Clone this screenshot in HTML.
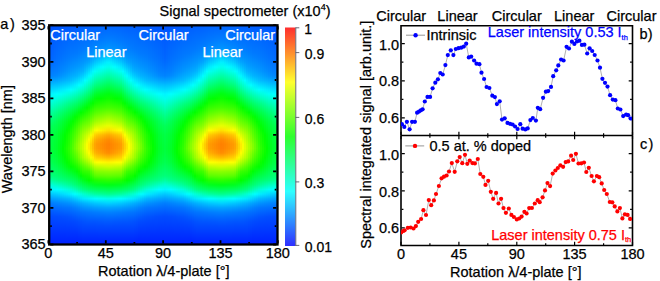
<!DOCTYPE html>
<html><head><meta charset="utf-8"><style>
html,body{margin:0;padding:0;background:#fff;width:660px;height:281px;overflow:hidden}
svg{display:block}
text{font-family:"Liberation Sans",sans-serif;stroke-width:0.25px;paint-order:stroke}
</style></head><body>
<svg width="660" height="281" viewBox="0 0 660 281" font-family="Liberation Sans, sans-serif">
<defs><linearGradient id="g0" x1="0" y1="0" x2="0" y2="1"><stop offset="0" stop-color="#0054ff"/><stop offset="0.0208" stop-color="#0056ff"/><stop offset="0.0417" stop-color="#0059ff"/><stop offset="0.0625" stop-color="#005bff"/><stop offset="0.0833" stop-color="#005eff"/><stop offset="0.104" stop-color="#0060ff"/><stop offset="0.125" stop-color="#0062ff"/><stop offset="0.146" stop-color="#0065ff"/><stop offset="0.167" stop-color="#006aff"/><stop offset="0.188" stop-color="#0072ff"/><stop offset="0.208" stop-color="#007bff"/><stop offset="0.229" stop-color="#0083ff"/><stop offset="0.25" stop-color="#009eff"/><stop offset="0.271" stop-color="#00beff"/><stop offset="0.292" stop-color="#00d9ff"/><stop offset="0.312" stop-color="#00f4ff"/><stop offset="0.333" stop-color="#00fff0"/><stop offset="0.354" stop-color="#00ffd6"/><stop offset="0.375" stop-color="#00ffbb"/><stop offset="0.396" stop-color="#00ff9f"/><stop offset="0.417" stop-color="#00ff85"/><stop offset="0.438" stop-color="#00ff6e"/><stop offset="0.458" stop-color="#00ff5a"/><stop offset="0.479" stop-color="#00ff51"/><stop offset="0.5" stop-color="#00ff47"/><stop offset="0.521" stop-color="#00ff44"/><stop offset="0.542" stop-color="#00ff41"/><stop offset="0.562" stop-color="#00ff3e"/><stop offset="0.583" stop-color="#00ff42"/><stop offset="0.604" stop-color="#00ff4a"/><stop offset="0.625" stop-color="#00ff52"/><stop offset="0.646" stop-color="#00ff60"/><stop offset="0.667" stop-color="#00ff6d"/><stop offset="0.688" stop-color="#00ff7b"/><stop offset="0.708" stop-color="#00ffa1"/><stop offset="0.729" stop-color="#00ffd6"/><stop offset="0.75" stop-color="#00f5ff"/><stop offset="0.771" stop-color="#00c7ff"/><stop offset="0.792" stop-color="#009eff"/><stop offset="0.812" stop-color="#007dff"/><stop offset="0.833" stop-color="#006aff"/><stop offset="0.854" stop-color="#0059ff"/><stop offset="0.875" stop-color="#004bff"/><stop offset="0.896" stop-color="#0044ff"/><stop offset="0.917" stop-color="#003dff"/><stop offset="0.938" stop-color="#0037ff"/><stop offset="0.958" stop-color="#0030ff"/><stop offset="0.979" stop-color="#0029ff"/><stop offset="1" stop-color="#0020ff"/></linearGradient><linearGradient id="g1" x1="0" y1="0" x2="0" y2="1"><stop offset="0" stop-color="#0055ff"/><stop offset="0.0208" stop-color="#0057ff"/><stop offset="0.0417" stop-color="#005aff"/><stop offset="0.0625" stop-color="#005dff"/><stop offset="0.0833" stop-color="#0060ff"/><stop offset="0.104" stop-color="#0062ff"/><stop offset="0.125" stop-color="#0065ff"/><stop offset="0.146" stop-color="#0068ff"/><stop offset="0.167" stop-color="#006dff"/><stop offset="0.188" stop-color="#0075ff"/><stop offset="0.208" stop-color="#007cff"/><stop offset="0.229" stop-color="#0085ff"/><stop offset="0.25" stop-color="#00a0ff"/><stop offset="0.271" stop-color="#00bfff"/><stop offset="0.292" stop-color="#00dbff"/><stop offset="0.312" stop-color="#00f8ff"/><stop offset="0.333" stop-color="#00ffeb"/><stop offset="0.354" stop-color="#00ffcf"/><stop offset="0.375" stop-color="#00ffb3"/><stop offset="0.396" stop-color="#00ff96"/><stop offset="0.417" stop-color="#00ff7d"/><stop offset="0.438" stop-color="#00ff66"/><stop offset="0.458" stop-color="#00ff54"/><stop offset="0.479" stop-color="#00ff4b"/><stop offset="0.5" stop-color="#00ff41"/><stop offset="0.521" stop-color="#00ff3e"/><stop offset="0.542" stop-color="#00ff3b"/><stop offset="0.562" stop-color="#00ff38"/><stop offset="0.583" stop-color="#00ff3c"/><stop offset="0.604" stop-color="#00ff44"/><stop offset="0.625" stop-color="#00ff4c"/><stop offset="0.646" stop-color="#00ff5a"/><stop offset="0.667" stop-color="#00ff69"/><stop offset="0.688" stop-color="#00ff78"/><stop offset="0.708" stop-color="#00ff9a"/><stop offset="0.729" stop-color="#00ffd1"/><stop offset="0.75" stop-color="#00f8ff"/><stop offset="0.771" stop-color="#00caff"/><stop offset="0.792" stop-color="#00a1ff"/><stop offset="0.812" stop-color="#007fff"/><stop offset="0.833" stop-color="#006cff"/><stop offset="0.854" stop-color="#005aff"/><stop offset="0.875" stop-color="#004bff"/><stop offset="0.896" stop-color="#0044ff"/><stop offset="0.917" stop-color="#003eff"/><stop offset="0.938" stop-color="#0037ff"/><stop offset="0.958" stop-color="#0030ff"/><stop offset="0.979" stop-color="#0029ff"/><stop offset="1" stop-color="#0020ff"/></linearGradient><linearGradient id="g2" x1="0" y1="0" x2="0" y2="1"><stop offset="0" stop-color="#0056ff"/><stop offset="0.0208" stop-color="#0059ff"/><stop offset="0.0417" stop-color="#005cff"/><stop offset="0.0625" stop-color="#005fff"/><stop offset="0.0833" stop-color="#0062ff"/><stop offset="0.104" stop-color="#0065ff"/><stop offset="0.125" stop-color="#0068ff"/><stop offset="0.146" stop-color="#006bff"/><stop offset="0.167" stop-color="#0070ff"/><stop offset="0.188" stop-color="#0077ff"/><stop offset="0.208" stop-color="#007eff"/><stop offset="0.229" stop-color="#0087ff"/><stop offset="0.25" stop-color="#00a2ff"/><stop offset="0.271" stop-color="#00c1ff"/><stop offset="0.292" stop-color="#00deff"/><stop offset="0.312" stop-color="#00fbff"/><stop offset="0.333" stop-color="#00ffe5"/><stop offset="0.354" stop-color="#00ffc8"/><stop offset="0.375" stop-color="#00ffab"/><stop offset="0.396" stop-color="#00ff8d"/><stop offset="0.417" stop-color="#00ff75"/><stop offset="0.438" stop-color="#00ff5e"/><stop offset="0.458" stop-color="#00ff4f"/><stop offset="0.479" stop-color="#00ff45"/><stop offset="0.5" stop-color="#00ff3a"/><stop offset="0.521" stop-color="#00ff37"/><stop offset="0.542" stop-color="#00ff34"/><stop offset="0.562" stop-color="#00ff31"/><stop offset="0.583" stop-color="#00ff36"/><stop offset="0.604" stop-color="#00ff3d"/><stop offset="0.625" stop-color="#00ff46"/><stop offset="0.646" stop-color="#00ff55"/><stop offset="0.667" stop-color="#00ff65"/><stop offset="0.688" stop-color="#00ff75"/><stop offset="0.708" stop-color="#00ff93"/><stop offset="0.729" stop-color="#00ffcb"/><stop offset="0.75" stop-color="#00fbff"/><stop offset="0.771" stop-color="#00cdff"/><stop offset="0.792" stop-color="#00a3ff"/><stop offset="0.812" stop-color="#0082ff"/><stop offset="0.833" stop-color="#006dff"/><stop offset="0.854" stop-color="#005cff"/><stop offset="0.875" stop-color="#004cff"/><stop offset="0.896" stop-color="#0045ff"/><stop offset="0.917" stop-color="#003eff"/><stop offset="0.938" stop-color="#0037ff"/><stop offset="0.958" stop-color="#0030ff"/><stop offset="0.979" stop-color="#0029ff"/><stop offset="1" stop-color="#0020ff"/></linearGradient><linearGradient id="g3" x1="0" y1="0" x2="0" y2="1"><stop offset="0" stop-color="#0057ff"/><stop offset="0.0208" stop-color="#005aff"/><stop offset="0.0417" stop-color="#005dff"/><stop offset="0.0625" stop-color="#0061ff"/><stop offset="0.0833" stop-color="#0064ff"/><stop offset="0.104" stop-color="#0067ff"/><stop offset="0.125" stop-color="#006bff"/><stop offset="0.146" stop-color="#006eff"/><stop offset="0.167" stop-color="#0073ff"/><stop offset="0.188" stop-color="#0079ff"/><stop offset="0.208" stop-color="#007fff"/><stop offset="0.229" stop-color="#008aff"/><stop offset="0.25" stop-color="#00a4ff"/><stop offset="0.271" stop-color="#00c2ff"/><stop offset="0.292" stop-color="#00e1ff"/><stop offset="0.312" stop-color="#00ffff"/><stop offset="0.333" stop-color="#00ffe0"/><stop offset="0.354" stop-color="#00ffc1"/><stop offset="0.375" stop-color="#00ffa3"/><stop offset="0.396" stop-color="#00ff85"/><stop offset="0.417" stop-color="#00ff6d"/><stop offset="0.438" stop-color="#00ff56"/><stop offset="0.458" stop-color="#00ff49"/><stop offset="0.479" stop-color="#00ff3f"/><stop offset="0.5" stop-color="#00ff34"/><stop offset="0.521" stop-color="#00ff31"/><stop offset="0.542" stop-color="#00ff2e"/><stop offset="0.562" stop-color="#00ff2b"/><stop offset="0.583" stop-color="#00ff2f"/><stop offset="0.604" stop-color="#00ff37"/><stop offset="0.625" stop-color="#00ff3f"/><stop offset="0.646" stop-color="#00ff50"/><stop offset="0.667" stop-color="#00ff61"/><stop offset="0.688" stop-color="#00ff72"/><stop offset="0.708" stop-color="#00ff8c"/><stop offset="0.729" stop-color="#00ffc6"/><stop offset="0.75" stop-color="#00feff"/><stop offset="0.771" stop-color="#00d0ff"/><stop offset="0.792" stop-color="#00a5ff"/><stop offset="0.812" stop-color="#0084ff"/><stop offset="0.833" stop-color="#006eff"/><stop offset="0.854" stop-color="#005dff"/><stop offset="0.875" stop-color="#004cff"/><stop offset="0.896" stop-color="#0045ff"/><stop offset="0.917" stop-color="#003eff"/><stop offset="0.938" stop-color="#0037ff"/><stop offset="0.958" stop-color="#0030ff"/><stop offset="0.979" stop-color="#0029ff"/><stop offset="1" stop-color="#0020ff"/></linearGradient><linearGradient id="g4" x1="0" y1="0" x2="0" y2="1"><stop offset="0" stop-color="#0057ff"/><stop offset="0.0208" stop-color="#005bff"/><stop offset="0.0417" stop-color="#005eff"/><stop offset="0.0625" stop-color="#0062ff"/><stop offset="0.0833" stop-color="#0066ff"/><stop offset="0.104" stop-color="#0069ff"/><stop offset="0.125" stop-color="#006dff"/><stop offset="0.146" stop-color="#0070ff"/><stop offset="0.167" stop-color="#0076ff"/><stop offset="0.188" stop-color="#007cff"/><stop offset="0.208" stop-color="#0083ff"/><stop offset="0.229" stop-color="#008eff"/><stop offset="0.25" stop-color="#00a8ff"/><stop offset="0.271" stop-color="#00c5ff"/><stop offset="0.292" stop-color="#00e5ff"/><stop offset="0.312" stop-color="#00fffa"/><stop offset="0.333" stop-color="#00ffd9"/><stop offset="0.354" stop-color="#00ffb9"/><stop offset="0.375" stop-color="#00ff9a"/><stop offset="0.396" stop-color="#00ff7b"/><stop offset="0.417" stop-color="#00ff63"/><stop offset="0.438" stop-color="#00ff4c"/><stop offset="0.458" stop-color="#00ff3f"/><stop offset="0.479" stop-color="#00ff34"/><stop offset="0.5" stop-color="#00ff28"/><stop offset="0.521" stop-color="#00ff25"/><stop offset="0.542" stop-color="#00ff21"/><stop offset="0.562" stop-color="#00ff1e"/><stop offset="0.583" stop-color="#00ff22"/><stop offset="0.604" stop-color="#00ff2b"/><stop offset="0.625" stop-color="#00ff34"/><stop offset="0.646" stop-color="#00ff46"/><stop offset="0.667" stop-color="#00ff59"/><stop offset="0.688" stop-color="#00ff6c"/><stop offset="0.708" stop-color="#00ff87"/><stop offset="0.729" stop-color="#00ffbf"/><stop offset="0.75" stop-color="#00fff9"/><stop offset="0.771" stop-color="#00d4ff"/><stop offset="0.792" stop-color="#00a8ff"/><stop offset="0.812" stop-color="#0086ff"/><stop offset="0.833" stop-color="#006fff"/><stop offset="0.854" stop-color="#005eff"/><stop offset="0.875" stop-color="#004dff"/><stop offset="0.896" stop-color="#0046ff"/><stop offset="0.917" stop-color="#003eff"/><stop offset="0.938" stop-color="#0037ff"/><stop offset="0.958" stop-color="#0030ff"/><stop offset="0.979" stop-color="#0029ff"/><stop offset="1" stop-color="#0020ff"/></linearGradient><linearGradient id="g5" x1="0" y1="0" x2="0" y2="1"><stop offset="0" stop-color="#0058ff"/><stop offset="0.0208" stop-color="#005cff"/><stop offset="0.0417" stop-color="#0060ff"/><stop offset="0.0625" stop-color="#0063ff"/><stop offset="0.0833" stop-color="#0067ff"/><stop offset="0.104" stop-color="#006bff"/><stop offset="0.125" stop-color="#006eff"/><stop offset="0.146" stop-color="#0072ff"/><stop offset="0.167" stop-color="#0079ff"/><stop offset="0.188" stop-color="#0080ff"/><stop offset="0.208" stop-color="#0087ff"/><stop offset="0.229" stop-color="#0093ff"/><stop offset="0.25" stop-color="#00abff"/><stop offset="0.271" stop-color="#00c9ff"/><stop offset="0.292" stop-color="#00e9ff"/><stop offset="0.312" stop-color="#00fff4"/><stop offset="0.333" stop-color="#00ffd2"/><stop offset="0.354" stop-color="#00ffb0"/><stop offset="0.375" stop-color="#00ff90"/><stop offset="0.396" stop-color="#00ff71"/><stop offset="0.417" stop-color="#00ff59"/><stop offset="0.438" stop-color="#00ff41"/><stop offset="0.458" stop-color="#00ff34"/><stop offset="0.479" stop-color="#00ff28"/><stop offset="0.5" stop-color="#00ff1b"/><stop offset="0.521" stop-color="#00ff17"/><stop offset="0.542" stop-color="#00ff13"/><stop offset="0.562" stop-color="#00ff10"/><stop offset="0.583" stop-color="#00ff14"/><stop offset="0.604" stop-color="#00ff1d"/><stop offset="0.625" stop-color="#00ff28"/><stop offset="0.646" stop-color="#00ff3a"/><stop offset="0.667" stop-color="#00ff50"/><stop offset="0.688" stop-color="#00ff66"/><stop offset="0.708" stop-color="#00ff81"/><stop offset="0.729" stop-color="#00ffb7"/><stop offset="0.75" stop-color="#00fff3"/><stop offset="0.771" stop-color="#00d9ff"/><stop offset="0.792" stop-color="#00abff"/><stop offset="0.812" stop-color="#0089ff"/><stop offset="0.833" stop-color="#0070ff"/><stop offset="0.854" stop-color="#005fff"/><stop offset="0.875" stop-color="#004eff"/><stop offset="0.896" stop-color="#0046ff"/><stop offset="0.917" stop-color="#003fff"/><stop offset="0.938" stop-color="#0038ff"/><stop offset="0.958" stop-color="#0030ff"/><stop offset="0.979" stop-color="#0029ff"/><stop offset="1" stop-color="#0020ff"/></linearGradient><linearGradient id="g6" x1="0" y1="0" x2="0" y2="1"><stop offset="0" stop-color="#0059ff"/><stop offset="0.0208" stop-color="#005dff"/><stop offset="0.0417" stop-color="#0061ff"/><stop offset="0.0625" stop-color="#0065ff"/><stop offset="0.0833" stop-color="#0069ff"/><stop offset="0.104" stop-color="#006cff"/><stop offset="0.125" stop-color="#0070ff"/><stop offset="0.146" stop-color="#0075ff"/><stop offset="0.167" stop-color="#007bff"/><stop offset="0.188" stop-color="#0083ff"/><stop offset="0.208" stop-color="#008aff"/><stop offset="0.229" stop-color="#0098ff"/><stop offset="0.25" stop-color="#00afff"/><stop offset="0.271" stop-color="#00cdff"/><stop offset="0.292" stop-color="#00edff"/><stop offset="0.312" stop-color="#00ffee"/><stop offset="0.333" stop-color="#00ffcb"/><stop offset="0.354" stop-color="#00ffa7"/><stop offset="0.375" stop-color="#00ff87"/><stop offset="0.396" stop-color="#00ff68"/><stop offset="0.417" stop-color="#00ff4e"/><stop offset="0.438" stop-color="#00ff36"/><stop offset="0.458" stop-color="#00ff28"/><stop offset="0.479" stop-color="#00ff1b"/><stop offset="0.5" stop-color="#00ff0f"/><stop offset="0.521" stop-color="#00ff0a"/><stop offset="0.542" stop-color="#00ff06"/><stop offset="0.562" stop-color="#00ff01"/><stop offset="0.583" stop-color="#00ff06"/><stop offset="0.604" stop-color="#00ff10"/><stop offset="0.625" stop-color="#00ff1c"/><stop offset="0.646" stop-color="#00ff2f"/><stop offset="0.667" stop-color="#00ff47"/><stop offset="0.688" stop-color="#00ff5f"/><stop offset="0.708" stop-color="#00ff7c"/><stop offset="0.729" stop-color="#00ffaf"/><stop offset="0.75" stop-color="#00ffec"/><stop offset="0.771" stop-color="#00ddff"/><stop offset="0.792" stop-color="#00aeff"/><stop offset="0.812" stop-color="#008bff"/><stop offset="0.833" stop-color="#0072ff"/><stop offset="0.854" stop-color="#0060ff"/><stop offset="0.875" stop-color="#004fff"/><stop offset="0.896" stop-color="#0046ff"/><stop offset="0.917" stop-color="#003fff"/><stop offset="0.938" stop-color="#0038ff"/><stop offset="0.958" stop-color="#0030ff"/><stop offset="0.979" stop-color="#0029ff"/><stop offset="1" stop-color="#0020ff"/></linearGradient><linearGradient id="g7" x1="0" y1="0" x2="0" y2="1"><stop offset="0" stop-color="#005aff"/><stop offset="0.0208" stop-color="#005eff"/><stop offset="0.0417" stop-color="#0062ff"/><stop offset="0.0625" stop-color="#0066ff"/><stop offset="0.0833" stop-color="#006aff"/><stop offset="0.104" stop-color="#006eff"/><stop offset="0.125" stop-color="#0072ff"/><stop offset="0.146" stop-color="#0077ff"/><stop offset="0.167" stop-color="#007eff"/><stop offset="0.188" stop-color="#0086ff"/><stop offset="0.208" stop-color="#008eff"/><stop offset="0.229" stop-color="#009cff"/><stop offset="0.25" stop-color="#00b2ff"/><stop offset="0.271" stop-color="#00d1ff"/><stop offset="0.292" stop-color="#00f1ff"/><stop offset="0.312" stop-color="#00ffe9"/><stop offset="0.333" stop-color="#00ffc4"/><stop offset="0.354" stop-color="#00ff9e"/><stop offset="0.375" stop-color="#00ff7d"/><stop offset="0.396" stop-color="#00ff5e"/><stop offset="0.417" stop-color="#00ff43"/><stop offset="0.438" stop-color="#00ff2b"/><stop offset="0.458" stop-color="#00ff1d"/><stop offset="0.479" stop-color="#00ff0f"/><stop offset="0.5" stop-color="#00ff02"/><stop offset="0.521" stop-color="#03ff00"/><stop offset="0.542" stop-color="#08ff00"/><stop offset="0.562" stop-color="#0dff00"/><stop offset="0.583" stop-color="#08ff00"/><stop offset="0.604" stop-color="#00ff03"/><stop offset="0.625" stop-color="#00ff10"/><stop offset="0.646" stop-color="#00ff23"/><stop offset="0.667" stop-color="#00ff3e"/><stop offset="0.688" stop-color="#00ff59"/><stop offset="0.708" stop-color="#00ff77"/><stop offset="0.729" stop-color="#00ffa8"/><stop offset="0.75" stop-color="#00ffe5"/><stop offset="0.771" stop-color="#00e2ff"/><stop offset="0.792" stop-color="#00b1ff"/><stop offset="0.812" stop-color="#008dff"/><stop offset="0.833" stop-color="#0073ff"/><stop offset="0.854" stop-color="#0062ff"/><stop offset="0.875" stop-color="#0050ff"/><stop offset="0.896" stop-color="#0047ff"/><stop offset="0.917" stop-color="#003fff"/><stop offset="0.938" stop-color="#0038ff"/><stop offset="0.958" stop-color="#0030ff"/><stop offset="0.979" stop-color="#0029ff"/><stop offset="1" stop-color="#0020ff"/></linearGradient><linearGradient id="g8" x1="0" y1="0" x2="0" y2="1"><stop offset="0" stop-color="#005bff"/><stop offset="0.0208" stop-color="#005fff"/><stop offset="0.0417" stop-color="#0063ff"/><stop offset="0.0625" stop-color="#0067ff"/><stop offset="0.0833" stop-color="#006bff"/><stop offset="0.104" stop-color="#0070ff"/><stop offset="0.125" stop-color="#0074ff"/><stop offset="0.146" stop-color="#0079ff"/><stop offset="0.167" stop-color="#0081ff"/><stop offset="0.188" stop-color="#0089ff"/><stop offset="0.208" stop-color="#0092ff"/><stop offset="0.229" stop-color="#00a1ff"/><stop offset="0.25" stop-color="#00b6ff"/><stop offset="0.271" stop-color="#00d5ff"/><stop offset="0.292" stop-color="#00f6ff"/><stop offset="0.312" stop-color="#00ffe3"/><stop offset="0.333" stop-color="#00ffbd"/><stop offset="0.354" stop-color="#00ff95"/><stop offset="0.375" stop-color="#00ff74"/><stop offset="0.396" stop-color="#00ff54"/><stop offset="0.417" stop-color="#00ff39"/><stop offset="0.438" stop-color="#00ff20"/><stop offset="0.458" stop-color="#00ff12"/><stop offset="0.479" stop-color="#00ff03"/><stop offset="0.5" stop-color="#0bff00"/><stop offset="0.521" stop-color="#10ff00"/><stop offset="0.542" stop-color="#16ff00"/><stop offset="0.562" stop-color="#1bff00"/><stop offset="0.583" stop-color="#15ff00"/><stop offset="0.604" stop-color="#0bff00"/><stop offset="0.625" stop-color="#00ff04"/><stop offset="0.646" stop-color="#00ff17"/><stop offset="0.667" stop-color="#00ff35"/><stop offset="0.688" stop-color="#00ff52"/><stop offset="0.708" stop-color="#00ff71"/><stop offset="0.729" stop-color="#00ffa0"/><stop offset="0.75" stop-color="#00ffdf"/><stop offset="0.771" stop-color="#00e6ff"/><stop offset="0.792" stop-color="#00b4ff"/><stop offset="0.812" stop-color="#008fff"/><stop offset="0.833" stop-color="#0074ff"/><stop offset="0.854" stop-color="#0063ff"/><stop offset="0.875" stop-color="#0051ff"/><stop offset="0.896" stop-color="#0047ff"/><stop offset="0.917" stop-color="#0040ff"/><stop offset="0.938" stop-color="#0038ff"/><stop offset="0.958" stop-color="#0031ff"/><stop offset="0.979" stop-color="#0029ff"/><stop offset="1" stop-color="#0020ff"/></linearGradient><linearGradient id="g9" x1="0" y1="0" x2="0" y2="1"><stop offset="0" stop-color="#005bff"/><stop offset="0.0208" stop-color="#0060ff"/><stop offset="0.0417" stop-color="#0064ff"/><stop offset="0.0625" stop-color="#0069ff"/><stop offset="0.0833" stop-color="#006dff"/><stop offset="0.104" stop-color="#0071ff"/><stop offset="0.125" stop-color="#0076ff"/><stop offset="0.146" stop-color="#007bff"/><stop offset="0.167" stop-color="#0084ff"/><stop offset="0.188" stop-color="#008dff"/><stop offset="0.208" stop-color="#0096ff"/><stop offset="0.229" stop-color="#00a6ff"/><stop offset="0.25" stop-color="#00b9ff"/><stop offset="0.271" stop-color="#00d9ff"/><stop offset="0.292" stop-color="#00faff"/><stop offset="0.312" stop-color="#00ffde"/><stop offset="0.333" stop-color="#00ffb6"/><stop offset="0.354" stop-color="#00ff8c"/><stop offset="0.375" stop-color="#00ff6a"/><stop offset="0.396" stop-color="#00ff4b"/><stop offset="0.417" stop-color="#00ff2e"/><stop offset="0.438" stop-color="#00ff15"/><stop offset="0.458" stop-color="#00ff06"/><stop offset="0.479" stop-color="#09ff00"/><stop offset="0.5" stop-color="#18ff00"/><stop offset="0.521" stop-color="#1eff00"/><stop offset="0.542" stop-color="#24ff00"/><stop offset="0.562" stop-color="#2aff00"/><stop offset="0.583" stop-color="#23ff00"/><stop offset="0.604" stop-color="#18ff00"/><stop offset="0.625" stop-color="#08ff00"/><stop offset="0.646" stop-color="#00ff0c"/><stop offset="0.667" stop-color="#00ff2c"/><stop offset="0.688" stop-color="#00ff4b"/><stop offset="0.708" stop-color="#00ff6c"/><stop offset="0.729" stop-color="#00ff98"/><stop offset="0.75" stop-color="#00ffd8"/><stop offset="0.771" stop-color="#00ebff"/><stop offset="0.792" stop-color="#00b7ff"/><stop offset="0.812" stop-color="#0092ff"/><stop offset="0.833" stop-color="#0075ff"/><stop offset="0.854" stop-color="#0064ff"/><stop offset="0.875" stop-color="#0053ff"/><stop offset="0.896" stop-color="#0048ff"/><stop offset="0.917" stop-color="#0040ff"/><stop offset="0.938" stop-color="#0038ff"/><stop offset="0.958" stop-color="#0031ff"/><stop offset="0.979" stop-color="#0029ff"/><stop offset="1" stop-color="#0020ff"/></linearGradient><linearGradient id="g10" x1="0" y1="0" x2="0" y2="1"><stop offset="0" stop-color="#005cff"/><stop offset="0.0208" stop-color="#0061ff"/><stop offset="0.0417" stop-color="#0065ff"/><stop offset="0.0625" stop-color="#006aff"/><stop offset="0.0833" stop-color="#006eff"/><stop offset="0.104" stop-color="#0073ff"/><stop offset="0.125" stop-color="#0077ff"/><stop offset="0.146" stop-color="#007dff"/><stop offset="0.167" stop-color="#0086ff"/><stop offset="0.188" stop-color="#0090ff"/><stop offset="0.208" stop-color="#009aff"/><stop offset="0.229" stop-color="#00aaff"/><stop offset="0.25" stop-color="#00beff"/><stop offset="0.271" stop-color="#00dfff"/><stop offset="0.292" stop-color="#00fffe"/><stop offset="0.312" stop-color="#00ffd7"/><stop offset="0.333" stop-color="#00ffae"/><stop offset="0.354" stop-color="#00ff83"/><stop offset="0.375" stop-color="#00ff61"/><stop offset="0.396" stop-color="#00ff40"/><stop offset="0.417" stop-color="#00ff22"/><stop offset="0.438" stop-color="#00ff09"/><stop offset="0.458" stop-color="#07ff00"/><stop offset="0.479" stop-color="#18ff00"/><stop offset="0.5" stop-color="#27ff00"/><stop offset="0.521" stop-color="#2fff00"/><stop offset="0.542" stop-color="#37ff00"/><stop offset="0.562" stop-color="#3cff00"/><stop offset="0.583" stop-color="#34ff00"/><stop offset="0.604" stop-color="#27ff00"/><stop offset="0.625" stop-color="#14ff00"/><stop offset="0.646" stop-color="#00ff02"/><stop offset="0.667" stop-color="#00ff23"/><stop offset="0.688" stop-color="#00ff44"/><stop offset="0.708" stop-color="#00ff65"/><stop offset="0.729" stop-color="#00ff8f"/><stop offset="0.75" stop-color="#00ffcf"/><stop offset="0.771" stop-color="#00f1ff"/><stop offset="0.792" stop-color="#00bcff"/><stop offset="0.812" stop-color="#0095ff"/><stop offset="0.833" stop-color="#0077ff"/><stop offset="0.854" stop-color="#0066ff"/><stop offset="0.875" stop-color="#0054ff"/><stop offset="0.896" stop-color="#0048ff"/><stop offset="0.917" stop-color="#0040ff"/><stop offset="0.938" stop-color="#0039ff"/><stop offset="0.958" stop-color="#0031ff"/><stop offset="0.979" stop-color="#0029ff"/><stop offset="1" stop-color="#0020ff"/></linearGradient><linearGradient id="g11" x1="0" y1="0" x2="0" y2="1"><stop offset="0" stop-color="#005dff"/><stop offset="0.0208" stop-color="#0061ff"/><stop offset="0.0417" stop-color="#0066ff"/><stop offset="0.0625" stop-color="#006aff"/><stop offset="0.0833" stop-color="#006fff"/><stop offset="0.104" stop-color="#0073ff"/><stop offset="0.125" stop-color="#0078ff"/><stop offset="0.146" stop-color="#007fff"/><stop offset="0.167" stop-color="#0089ff"/><stop offset="0.188" stop-color="#0092ff"/><stop offset="0.208" stop-color="#009eff"/><stop offset="0.229" stop-color="#00aeff"/><stop offset="0.25" stop-color="#00c5ff"/><stop offset="0.271" stop-color="#00e5ff"/><stop offset="0.292" stop-color="#00fff6"/><stop offset="0.312" stop-color="#00ffcf"/><stop offset="0.333" stop-color="#00ffa5"/><stop offset="0.354" stop-color="#00ff7b"/><stop offset="0.375" stop-color="#00ff58"/><stop offset="0.396" stop-color="#00ff34"/><stop offset="0.417" stop-color="#00ff14"/><stop offset="0.438" stop-color="#04ff00"/><stop offset="0.458" stop-color="#17ff00"/><stop offset="0.479" stop-color="#2aff00"/><stop offset="0.5" stop-color="#3aff00"/><stop offset="0.521" stop-color="#45ff00"/><stop offset="0.542" stop-color="#4fff00"/><stop offset="0.562" stop-color="#54ff00"/><stop offset="0.583" stop-color="#47ff00"/><stop offset="0.604" stop-color="#37ff00"/><stop offset="0.625" stop-color="#21ff00"/><stop offset="0.646" stop-color="#07ff00"/><stop offset="0.667" stop-color="#00ff1a"/><stop offset="0.688" stop-color="#00ff3c"/><stop offset="0.708" stop-color="#00ff5e"/><stop offset="0.729" stop-color="#00ff85"/><stop offset="0.75" stop-color="#00ffc3"/><stop offset="0.771" stop-color="#00f9ff"/><stop offset="0.792" stop-color="#00c3ff"/><stop offset="0.812" stop-color="#009aff"/><stop offset="0.833" stop-color="#007bff"/><stop offset="0.854" stop-color="#0068ff"/><stop offset="0.875" stop-color="#0057ff"/><stop offset="0.896" stop-color="#0049ff"/><stop offset="0.917" stop-color="#0041ff"/><stop offset="0.938" stop-color="#0039ff"/><stop offset="0.958" stop-color="#0031ff"/><stop offset="0.979" stop-color="#0029ff"/><stop offset="1" stop-color="#0020ff"/></linearGradient><linearGradient id="g12" x1="0" y1="0" x2="0" y2="1"><stop offset="0" stop-color="#005dff"/><stop offset="0.0208" stop-color="#0062ff"/><stop offset="0.0417" stop-color="#0067ff"/><stop offset="0.0625" stop-color="#006bff"/><stop offset="0.0833" stop-color="#0070ff"/><stop offset="0.104" stop-color="#0074ff"/><stop offset="0.125" stop-color="#0079ff"/><stop offset="0.146" stop-color="#0081ff"/><stop offset="0.167" stop-color="#008bff"/><stop offset="0.188" stop-color="#0095ff"/><stop offset="0.208" stop-color="#00a2ff"/><stop offset="0.229" stop-color="#00b1ff"/><stop offset="0.25" stop-color="#00ccff"/><stop offset="0.271" stop-color="#00ecff"/><stop offset="0.292" stop-color="#00ffee"/><stop offset="0.312" stop-color="#00ffc7"/><stop offset="0.333" stop-color="#00ff9c"/><stop offset="0.354" stop-color="#00ff73"/><stop offset="0.375" stop-color="#00ff4e"/><stop offset="0.396" stop-color="#00ff29"/><stop offset="0.417" stop-color="#00ff06"/><stop offset="0.438" stop-color="#12ff00"/><stop offset="0.458" stop-color="#27ff00"/><stop offset="0.479" stop-color="#3cff00"/><stop offset="0.5" stop-color="#4cff00"/><stop offset="0.521" stop-color="#5aff00"/><stop offset="0.542" stop-color="#68ff00"/><stop offset="0.562" stop-color="#6cff00"/><stop offset="0.583" stop-color="#5aff00"/><stop offset="0.604" stop-color="#47ff00"/><stop offset="0.625" stop-color="#2eff00"/><stop offset="0.646" stop-color="#10ff00"/><stop offset="0.667" stop-color="#00ff11"/><stop offset="0.688" stop-color="#00ff33"/><stop offset="0.708" stop-color="#00ff56"/><stop offset="0.729" stop-color="#00ff7b"/><stop offset="0.75" stop-color="#00ffb8"/><stop offset="0.771" stop-color="#00fffd"/><stop offset="0.792" stop-color="#00caff"/><stop offset="0.812" stop-color="#009eff"/><stop offset="0.833" stop-color="#007eff"/><stop offset="0.854" stop-color="#006aff"/><stop offset="0.875" stop-color="#0059ff"/><stop offset="0.896" stop-color="#004aff"/><stop offset="0.917" stop-color="#0042ff"/><stop offset="0.938" stop-color="#0039ff"/><stop offset="0.958" stop-color="#0031ff"/><stop offset="0.979" stop-color="#0029ff"/><stop offset="1" stop-color="#0020ff"/></linearGradient><linearGradient id="g13" x1="0" y1="0" x2="0" y2="1"><stop offset="0" stop-color="#005eff"/><stop offset="0.0208" stop-color="#0063ff"/><stop offset="0.0417" stop-color="#0067ff"/><stop offset="0.0625" stop-color="#006cff"/><stop offset="0.0833" stop-color="#0071ff"/><stop offset="0.104" stop-color="#0075ff"/><stop offset="0.125" stop-color="#007aff"/><stop offset="0.146" stop-color="#0083ff"/><stop offset="0.167" stop-color="#008dff"/><stop offset="0.188" stop-color="#0098ff"/><stop offset="0.208" stop-color="#00a6ff"/><stop offset="0.229" stop-color="#00b6ff"/><stop offset="0.25" stop-color="#00d3ff"/><stop offset="0.271" stop-color="#00f4ff"/><stop offset="0.292" stop-color="#00ffe5"/><stop offset="0.312" stop-color="#00ffbd"/><stop offset="0.333" stop-color="#00ff92"/><stop offset="0.354" stop-color="#00ff6a"/><stop offset="0.375" stop-color="#00ff44"/><stop offset="0.396" stop-color="#00ff1d"/><stop offset="0.417" stop-color="#08ff00"/><stop offset="0.438" stop-color="#20ff00"/><stop offset="0.458" stop-color="#38ff00"/><stop offset="0.479" stop-color="#4fff00"/><stop offset="0.5" stop-color="#60ff00"/><stop offset="0.521" stop-color="#70ff00"/><stop offset="0.542" stop-color="#80ff00"/><stop offset="0.562" stop-color="#83ff00"/><stop offset="0.583" stop-color="#6eff00"/><stop offset="0.604" stop-color="#59ff00"/><stop offset="0.625" stop-color="#3dff00"/><stop offset="0.646" stop-color="#1cff00"/><stop offset="0.667" stop-color="#00ff06"/><stop offset="0.688" stop-color="#00ff28"/><stop offset="0.708" stop-color="#00ff4c"/><stop offset="0.729" stop-color="#00ff70"/><stop offset="0.75" stop-color="#00ffab"/><stop offset="0.771" stop-color="#00fff4"/><stop offset="0.792" stop-color="#00d1ff"/><stop offset="0.812" stop-color="#00a3ff"/><stop offset="0.833" stop-color="#0082ff"/><stop offset="0.854" stop-color="#006dff"/><stop offset="0.875" stop-color="#005cff"/><stop offset="0.896" stop-color="#004cff"/><stop offset="0.917" stop-color="#0043ff"/><stop offset="0.938" stop-color="#003aff"/><stop offset="0.958" stop-color="#0031ff"/><stop offset="0.979" stop-color="#0029ff"/><stop offset="1" stop-color="#0020ff"/></linearGradient><linearGradient id="g14" x1="0" y1="0" x2="0" y2="1"><stop offset="0" stop-color="#005fff"/><stop offset="0.0208" stop-color="#0064ff"/><stop offset="0.0417" stop-color="#0068ff"/><stop offset="0.0625" stop-color="#006dff"/><stop offset="0.0833" stop-color="#0072ff"/><stop offset="0.104" stop-color="#0077ff"/><stop offset="0.125" stop-color="#007dff"/><stop offset="0.146" stop-color="#0086ff"/><stop offset="0.167" stop-color="#0090ff"/><stop offset="0.188" stop-color="#009bff"/><stop offset="0.208" stop-color="#00aaff"/><stop offset="0.229" stop-color="#00beff"/><stop offset="0.25" stop-color="#00dcff"/><stop offset="0.271" stop-color="#00feff"/><stop offset="0.292" stop-color="#00ffda"/><stop offset="0.312" stop-color="#00ffb1"/><stop offset="0.333" stop-color="#00ff86"/><stop offset="0.354" stop-color="#00ff5d"/><stop offset="0.375" stop-color="#00ff36"/><stop offset="0.396" stop-color="#00ff10"/><stop offset="0.417" stop-color="#14ff00"/><stop offset="0.438" stop-color="#2fff00"/><stop offset="0.458" stop-color="#4aff00"/><stop offset="0.479" stop-color="#62ff00"/><stop offset="0.5" stop-color="#77ff00"/><stop offset="0.521" stop-color="#87ff00"/><stop offset="0.542" stop-color="#97ff00"/><stop offset="0.562" stop-color="#9aff00"/><stop offset="0.583" stop-color="#87ff00"/><stop offset="0.604" stop-color="#73ff00"/><stop offset="0.625" stop-color="#51ff00"/><stop offset="0.646" stop-color="#2cff00"/><stop offset="0.667" stop-color="#0bff00"/><stop offset="0.688" stop-color="#00ff17"/><stop offset="0.708" stop-color="#00ff3d"/><stop offset="0.729" stop-color="#00ff65"/><stop offset="0.75" stop-color="#00ff9c"/><stop offset="0.771" stop-color="#00ffe9"/><stop offset="0.792" stop-color="#00d9ff"/><stop offset="0.812" stop-color="#00a8ff"/><stop offset="0.833" stop-color="#0086ff"/><stop offset="0.854" stop-color="#006fff"/><stop offset="0.875" stop-color="#005eff"/><stop offset="0.896" stop-color="#004eff"/><stop offset="0.917" stop-color="#0045ff"/><stop offset="0.938" stop-color="#003cff"/><stop offset="0.958" stop-color="#0033ff"/><stop offset="0.979" stop-color="#002aff"/><stop offset="1" stop-color="#0021ff"/></linearGradient><linearGradient id="g15" x1="0" y1="0" x2="0" y2="1"><stop offset="0" stop-color="#0060ff"/><stop offset="0.0208" stop-color="#0065ff"/><stop offset="0.0417" stop-color="#006aff"/><stop offset="0.0625" stop-color="#006eff"/><stop offset="0.0833" stop-color="#0073ff"/><stop offset="0.104" stop-color="#0078ff"/><stop offset="0.125" stop-color="#007fff"/><stop offset="0.146" stop-color="#0089ff"/><stop offset="0.167" stop-color="#0093ff"/><stop offset="0.188" stop-color="#009fff"/><stop offset="0.208" stop-color="#00aeff"/><stop offset="0.229" stop-color="#00c6ff"/><stop offset="0.25" stop-color="#00e5ff"/><stop offset="0.271" stop-color="#00fff6"/><stop offset="0.292" stop-color="#00ffcf"/><stop offset="0.312" stop-color="#00ffa5"/><stop offset="0.333" stop-color="#00ff7a"/><stop offset="0.354" stop-color="#00ff50"/><stop offset="0.375" stop-color="#00ff28"/><stop offset="0.396" stop-color="#00ff02"/><stop offset="0.417" stop-color="#20ff00"/><stop offset="0.438" stop-color="#3eff00"/><stop offset="0.458" stop-color="#5bff00"/><stop offset="0.479" stop-color="#76ff00"/><stop offset="0.5" stop-color="#8eff00"/><stop offset="0.521" stop-color="#9eff00"/><stop offset="0.542" stop-color="#aeff00"/><stop offset="0.562" stop-color="#b1ff00"/><stop offset="0.583" stop-color="#9fff00"/><stop offset="0.604" stop-color="#8dff00"/><stop offset="0.625" stop-color="#66ff00"/><stop offset="0.646" stop-color="#3dff00"/><stop offset="0.667" stop-color="#1cff00"/><stop offset="0.688" stop-color="#00ff05"/><stop offset="0.708" stop-color="#00ff2d"/><stop offset="0.729" stop-color="#00ff5a"/><stop offset="0.75" stop-color="#00ff8d"/><stop offset="0.771" stop-color="#00ffdd"/><stop offset="0.792" stop-color="#00e0ff"/><stop offset="0.812" stop-color="#00adff"/><stop offset="0.833" stop-color="#008bff"/><stop offset="0.854" stop-color="#0072ff"/><stop offset="0.875" stop-color="#0061ff"/><stop offset="0.896" stop-color="#0050ff"/><stop offset="0.917" stop-color="#0047ff"/><stop offset="0.938" stop-color="#003eff"/><stop offset="0.958" stop-color="#0035ff"/><stop offset="0.979" stop-color="#002bff"/><stop offset="1" stop-color="#0021ff"/></linearGradient><linearGradient id="g16" x1="0" y1="0" x2="0" y2="1"><stop offset="0" stop-color="#0061ff"/><stop offset="0.0208" stop-color="#0066ff"/><stop offset="0.0417" stop-color="#006bff"/><stop offset="0.0625" stop-color="#006fff"/><stop offset="0.0833" stop-color="#0074ff"/><stop offset="0.104" stop-color="#0079ff"/><stop offset="0.125" stop-color="#0082ff"/><stop offset="0.146" stop-color="#008cff"/><stop offset="0.167" stop-color="#0096ff"/><stop offset="0.188" stop-color="#00a4ff"/><stop offset="0.208" stop-color="#00b3ff"/><stop offset="0.229" stop-color="#00ceff"/><stop offset="0.25" stop-color="#00efff"/><stop offset="0.271" stop-color="#00ffec"/><stop offset="0.292" stop-color="#00ffc4"/><stop offset="0.312" stop-color="#00ff99"/><stop offset="0.333" stop-color="#00ff6e"/><stop offset="0.354" stop-color="#00ff43"/><stop offset="0.375" stop-color="#00ff1a"/><stop offset="0.396" stop-color="#0aff00"/><stop offset="0.417" stop-color="#2bff00"/><stop offset="0.438" stop-color="#4cff00"/><stop offset="0.458" stop-color="#6cff00"/><stop offset="0.479" stop-color="#89ff00"/><stop offset="0.5" stop-color="#a5ff00"/><stop offset="0.521" stop-color="#b5ff00"/><stop offset="0.542" stop-color="#c5ff00"/><stop offset="0.562" stop-color="#c8ff00"/><stop offset="0.583" stop-color="#b7ff00"/><stop offset="0.604" stop-color="#a6ff00"/><stop offset="0.625" stop-color="#7aff00"/><stop offset="0.646" stop-color="#4dff00"/><stop offset="0.667" stop-color="#2cff00"/><stop offset="0.688" stop-color="#0cff00"/><stop offset="0.708" stop-color="#00ff1e"/><stop offset="0.729" stop-color="#00ff4e"/><stop offset="0.75" stop-color="#00ff7f"/><stop offset="0.771" stop-color="#00ffd1"/><stop offset="0.792" stop-color="#00e7ff"/><stop offset="0.812" stop-color="#00b2ff"/><stop offset="0.833" stop-color="#008fff"/><stop offset="0.854" stop-color="#0074ff"/><stop offset="0.875" stop-color="#0063ff"/><stop offset="0.896" stop-color="#0052ff"/><stop offset="0.917" stop-color="#0049ff"/><stop offset="0.938" stop-color="#0040ff"/><stop offset="0.958" stop-color="#0036ff"/><stop offset="0.979" stop-color="#002cff"/><stop offset="1" stop-color="#0021ff"/></linearGradient><linearGradient id="g17" x1="0" y1="0" x2="0" y2="1"><stop offset="0" stop-color="#0061ff"/><stop offset="0.0208" stop-color="#0066ff"/><stop offset="0.0417" stop-color="#006bff"/><stop offset="0.0625" stop-color="#0070ff"/><stop offset="0.0833" stop-color="#0076ff"/><stop offset="0.104" stop-color="#007cff"/><stop offset="0.125" stop-color="#0085ff"/><stop offset="0.146" stop-color="#008eff"/><stop offset="0.167" stop-color="#009bff"/><stop offset="0.188" stop-color="#00adff"/><stop offset="0.208" stop-color="#00c0ff"/><stop offset="0.229" stop-color="#00dcff"/><stop offset="0.25" stop-color="#00feff"/><stop offset="0.271" stop-color="#00ffdc"/><stop offset="0.292" stop-color="#00ffb4"/><stop offset="0.312" stop-color="#00ff8a"/><stop offset="0.333" stop-color="#00ff5f"/><stop offset="0.354" stop-color="#00ff35"/><stop offset="0.375" stop-color="#00ff0e"/><stop offset="0.396" stop-color="#15ff00"/><stop offset="0.417" stop-color="#35ff00"/><stop offset="0.438" stop-color="#56ff00"/><stop offset="0.458" stop-color="#75ff00"/><stop offset="0.479" stop-color="#96ff00"/><stop offset="0.5" stop-color="#b6ff00"/><stop offset="0.521" stop-color="#ccff00"/><stop offset="0.542" stop-color="#deff00"/><stop offset="0.562" stop-color="#e1ff00"/><stop offset="0.583" stop-color="#d0ff00"/><stop offset="0.604" stop-color="#b9ff00"/><stop offset="0.625" stop-color="#8bff00"/><stop offset="0.646" stop-color="#5aff00"/><stop offset="0.667" stop-color="#31ff00"/><stop offset="0.688" stop-color="#11ff00"/><stop offset="0.708" stop-color="#00ff14"/><stop offset="0.729" stop-color="#00ff46"/><stop offset="0.75" stop-color="#00ff78"/><stop offset="0.771" stop-color="#00ffc8"/><stop offset="0.792" stop-color="#00ebff"/><stop offset="0.812" stop-color="#00b6ff"/><stop offset="0.833" stop-color="#0092ff"/><stop offset="0.854" stop-color="#0075ff"/><stop offset="0.875" stop-color="#0064ff"/><stop offset="0.896" stop-color="#0054ff"/><stop offset="0.917" stop-color="#0049ff"/><stop offset="0.938" stop-color="#0040ff"/><stop offset="0.958" stop-color="#0036ff"/><stop offset="0.979" stop-color="#002cff"/><stop offset="1" stop-color="#0021ff"/></linearGradient><linearGradient id="g18" x1="0" y1="0" x2="0" y2="1"><stop offset="0" stop-color="#0061ff"/><stop offset="0.0208" stop-color="#0066ff"/><stop offset="0.0417" stop-color="#006cff"/><stop offset="0.0625" stop-color="#0071ff"/><stop offset="0.0833" stop-color="#0077ff"/><stop offset="0.104" stop-color="#007eff"/><stop offset="0.125" stop-color="#0087ff"/><stop offset="0.146" stop-color="#0091ff"/><stop offset="0.167" stop-color="#00a0ff"/><stop offset="0.188" stop-color="#00b6ff"/><stop offset="0.208" stop-color="#00cdff"/><stop offset="0.229" stop-color="#00e9ff"/><stop offset="0.25" stop-color="#00fff2"/><stop offset="0.271" stop-color="#00ffcc"/><stop offset="0.292" stop-color="#00ffa5"/><stop offset="0.312" stop-color="#00ff7b"/><stop offset="0.333" stop-color="#00ff50"/><stop offset="0.354" stop-color="#00ff27"/><stop offset="0.375" stop-color="#00ff02"/><stop offset="0.396" stop-color="#1fff00"/><stop offset="0.417" stop-color="#3fff00"/><stop offset="0.438" stop-color="#5fff00"/><stop offset="0.458" stop-color="#7eff00"/><stop offset="0.479" stop-color="#a3ff00"/><stop offset="0.5" stop-color="#c8ff00"/><stop offset="0.521" stop-color="#e3ff00"/><stop offset="0.542" stop-color="#f8ff00"/><stop offset="0.562" stop-color="#f9ff00"/><stop offset="0.583" stop-color="#e8ff00"/><stop offset="0.604" stop-color="#cbff00"/><stop offset="0.625" stop-color="#9cff00"/><stop offset="0.646" stop-color="#67ff00"/><stop offset="0.667" stop-color="#36ff00"/><stop offset="0.688" stop-color="#16ff00"/><stop offset="0.708" stop-color="#00ff0a"/><stop offset="0.729" stop-color="#00ff3d"/><stop offset="0.75" stop-color="#00ff70"/><stop offset="0.771" stop-color="#00ffbf"/><stop offset="0.792" stop-color="#00eeff"/><stop offset="0.812" stop-color="#00b9ff"/><stop offset="0.833" stop-color="#0094ff"/><stop offset="0.854" stop-color="#0077ff"/><stop offset="0.875" stop-color="#0066ff"/><stop offset="0.896" stop-color="#0055ff"/><stop offset="0.917" stop-color="#004aff"/><stop offset="0.938" stop-color="#0040ff"/><stop offset="0.958" stop-color="#0036ff"/><stop offset="0.979" stop-color="#002cff"/><stop offset="1" stop-color="#0021ff"/></linearGradient><linearGradient id="g19" x1="0" y1="0" x2="0" y2="1"><stop offset="0" stop-color="#0061ff"/><stop offset="0.0208" stop-color="#0067ff"/><stop offset="0.0417" stop-color="#006cff"/><stop offset="0.0625" stop-color="#0072ff"/><stop offset="0.0833" stop-color="#0078ff"/><stop offset="0.104" stop-color="#0080ff"/><stop offset="0.125" stop-color="#008aff"/><stop offset="0.146" stop-color="#0094ff"/><stop offset="0.167" stop-color="#00a6ff"/><stop offset="0.188" stop-color="#00bfff"/><stop offset="0.208" stop-color="#00daff"/><stop offset="0.229" stop-color="#00f7ff"/><stop offset="0.25" stop-color="#00ffe3"/><stop offset="0.271" stop-color="#00ffbc"/><stop offset="0.292" stop-color="#00ff95"/><stop offset="0.312" stop-color="#00ff6d"/><stop offset="0.333" stop-color="#00ff41"/><stop offset="0.354" stop-color="#00ff19"/><stop offset="0.375" stop-color="#0bff00"/><stop offset="0.396" stop-color="#2aff00"/><stop offset="0.417" stop-color="#49ff00"/><stop offset="0.438" stop-color="#68ff00"/><stop offset="0.458" stop-color="#87ff00"/><stop offset="0.479" stop-color="#b1ff00"/><stop offset="0.5" stop-color="#daff00"/><stop offset="0.521" stop-color="#fbff00"/><stop offset="0.542" stop-color="#ffed00"/><stop offset="0.562" stop-color="#ffed00"/><stop offset="0.583" stop-color="#fffe00"/><stop offset="0.604" stop-color="#deff00"/><stop offset="0.625" stop-color="#aeff00"/><stop offset="0.646" stop-color="#74ff00"/><stop offset="0.667" stop-color="#3bff00"/><stop offset="0.688" stop-color="#1bff00"/><stop offset="0.708" stop-color="#00ff00"/><stop offset="0.729" stop-color="#00ff34"/><stop offset="0.75" stop-color="#00ff69"/><stop offset="0.771" stop-color="#00ffb6"/><stop offset="0.792" stop-color="#00f2ff"/><stop offset="0.812" stop-color="#00bdff"/><stop offset="0.833" stop-color="#0096ff"/><stop offset="0.854" stop-color="#0078ff"/><stop offset="0.875" stop-color="#0067ff"/><stop offset="0.896" stop-color="#0056ff"/><stop offset="0.917" stop-color="#004aff"/><stop offset="0.938" stop-color="#0040ff"/><stop offset="0.958" stop-color="#0036ff"/><stop offset="0.979" stop-color="#002cff"/><stop offset="1" stop-color="#0021ff"/></linearGradient><linearGradient id="g20" x1="0" y1="0" x2="0" y2="1"><stop offset="0" stop-color="#0062ff"/><stop offset="0.0208" stop-color="#0068ff"/><stop offset="0.0417" stop-color="#006eff"/><stop offset="0.0625" stop-color="#0074ff"/><stop offset="0.0833" stop-color="#007aff"/><stop offset="0.104" stop-color="#0083ff"/><stop offset="0.125" stop-color="#008dff"/><stop offset="0.146" stop-color="#009bff"/><stop offset="0.167" stop-color="#00b0ff"/><stop offset="0.188" stop-color="#00cbff"/><stop offset="0.208" stop-color="#00e9ff"/><stop offset="0.229" stop-color="#00fff5"/><stop offset="0.25" stop-color="#00ffd0"/><stop offset="0.271" stop-color="#00ffaa"/><stop offset="0.292" stop-color="#00ff82"/><stop offset="0.312" stop-color="#00ff59"/><stop offset="0.333" stop-color="#00ff30"/><stop offset="0.354" stop-color="#00ff0b"/><stop offset="0.375" stop-color="#18ff00"/><stop offset="0.396" stop-color="#37ff00"/><stop offset="0.417" stop-color="#57ff00"/><stop offset="0.438" stop-color="#78ff00"/><stop offset="0.458" stop-color="#9bff00"/><stop offset="0.479" stop-color="#c7ff00"/><stop offset="0.5" stop-color="#f4ff00"/><stop offset="0.521" stop-color="#ffe900"/><stop offset="0.542" stop-color="#ffd400"/><stop offset="0.562" stop-color="#ffd500"/><stop offset="0.583" stop-color="#ffe700"/><stop offset="0.604" stop-color="#f5ff00"/><stop offset="0.625" stop-color="#c5ff00"/><stop offset="0.646" stop-color="#89ff00"/><stop offset="0.667" stop-color="#50ff00"/><stop offset="0.688" stop-color="#2dff00"/><stop offset="0.708" stop-color="#09ff00"/><stop offset="0.729" stop-color="#00ff2e"/><stop offset="0.75" stop-color="#00ff64"/><stop offset="0.771" stop-color="#00ffaf"/><stop offset="0.792" stop-color="#00f6ff"/><stop offset="0.812" stop-color="#00c1ff"/><stop offset="0.833" stop-color="#0098ff"/><stop offset="0.854" stop-color="#0079ff"/><stop offset="0.875" stop-color="#0068ff"/><stop offset="0.896" stop-color="#0056ff"/><stop offset="0.917" stop-color="#004aff"/><stop offset="0.938" stop-color="#0040ff"/><stop offset="0.958" stop-color="#0036ff"/><stop offset="0.979" stop-color="#002cff"/><stop offset="1" stop-color="#0021ff"/></linearGradient><linearGradient id="g21" x1="0" y1="0" x2="0" y2="1"><stop offset="0" stop-color="#0063ff"/><stop offset="0.0208" stop-color="#0069ff"/><stop offset="0.0417" stop-color="#006fff"/><stop offset="0.0625" stop-color="#0075ff"/><stop offset="0.0833" stop-color="#007dff"/><stop offset="0.104" stop-color="#0086ff"/><stop offset="0.125" stop-color="#0091ff"/><stop offset="0.146" stop-color="#00a2ff"/><stop offset="0.167" stop-color="#00baff"/><stop offset="0.188" stop-color="#00d8ff"/><stop offset="0.208" stop-color="#00f8ff"/><stop offset="0.229" stop-color="#00ffe3"/><stop offset="0.25" stop-color="#00ffbe"/><stop offset="0.271" stop-color="#00ff97"/><stop offset="0.292" stop-color="#00ff6d"/><stop offset="0.312" stop-color="#00ff45"/><stop offset="0.333" stop-color="#00ff1f"/><stop offset="0.354" stop-color="#04ff00"/><stop offset="0.375" stop-color="#24ff00"/><stop offset="0.396" stop-color="#43ff00"/><stop offset="0.417" stop-color="#66ff00"/><stop offset="0.438" stop-color="#89ff00"/><stop offset="0.458" stop-color="#b0ff00"/><stop offset="0.479" stop-color="#deff00"/><stop offset="0.5" stop-color="#ffef00"/><stop offset="0.521" stop-color="#ffcf00"/><stop offset="0.542" stop-color="#ffbc00"/><stop offset="0.562" stop-color="#ffbd00"/><stop offset="0.583" stop-color="#ffd000"/><stop offset="0.604" stop-color="#fff100"/><stop offset="0.625" stop-color="#ddff00"/><stop offset="0.646" stop-color="#9eff00"/><stop offset="0.667" stop-color="#66ff00"/><stop offset="0.688" stop-color="#3fff00"/><stop offset="0.708" stop-color="#12ff00"/><stop offset="0.729" stop-color="#00ff27"/><stop offset="0.75" stop-color="#00ff5f"/><stop offset="0.771" stop-color="#00ffa9"/><stop offset="0.792" stop-color="#00f9ff"/><stop offset="0.812" stop-color="#00c4ff"/><stop offset="0.833" stop-color="#009bff"/><stop offset="0.854" stop-color="#007bff"/><stop offset="0.875" stop-color="#0068ff"/><stop offset="0.896" stop-color="#0056ff"/><stop offset="0.917" stop-color="#004aff"/><stop offset="0.938" stop-color="#0040ff"/><stop offset="0.958" stop-color="#0036ff"/><stop offset="0.979" stop-color="#002cff"/><stop offset="1" stop-color="#0021ff"/></linearGradient><linearGradient id="g22" x1="0" y1="0" x2="0" y2="1"><stop offset="0" stop-color="#0064ff"/><stop offset="0.0208" stop-color="#006aff"/><stop offset="0.0417" stop-color="#0070ff"/><stop offset="0.0625" stop-color="#0077ff"/><stop offset="0.0833" stop-color="#007fff"/><stop offset="0.104" stop-color="#0089ff"/><stop offset="0.125" stop-color="#0094ff"/><stop offset="0.146" stop-color="#00a9ff"/><stop offset="0.167" stop-color="#00c5ff"/><stop offset="0.188" stop-color="#00e5ff"/><stop offset="0.208" stop-color="#00fff7"/><stop offset="0.229" stop-color="#00ffd1"/><stop offset="0.25" stop-color="#00ffab"/><stop offset="0.271" stop-color="#00ff84"/><stop offset="0.292" stop-color="#00ff59"/><stop offset="0.312" stop-color="#00ff30"/><stop offset="0.333" stop-color="#00ff0e"/><stop offset="0.354" stop-color="#12ff00"/><stop offset="0.375" stop-color="#31ff00"/><stop offset="0.396" stop-color="#50ff00"/><stop offset="0.417" stop-color="#75ff00"/><stop offset="0.438" stop-color="#99ff00"/><stop offset="0.458" stop-color="#c5ff00"/><stop offset="0.479" stop-color="#f6ff00"/><stop offset="0.5" stop-color="#ffd400"/><stop offset="0.521" stop-color="#ffb400"/><stop offset="0.542" stop-color="#ffa400"/><stop offset="0.562" stop-color="#ffa500"/><stop offset="0.583" stop-color="#ffb800"/><stop offset="0.604" stop-color="#ffda00"/><stop offset="0.625" stop-color="#f5ff00"/><stop offset="0.646" stop-color="#b3ff00"/><stop offset="0.667" stop-color="#7cff00"/><stop offset="0.688" stop-color="#52ff00"/><stop offset="0.708" stop-color="#1bff00"/><stop offset="0.729" stop-color="#00ff21"/><stop offset="0.75" stop-color="#00ff5b"/><stop offset="0.771" stop-color="#00ffa2"/><stop offset="0.792" stop-color="#00fdff"/><stop offset="0.812" stop-color="#00c8ff"/><stop offset="0.833" stop-color="#009dff"/><stop offset="0.854" stop-color="#007cff"/><stop offset="0.875" stop-color="#0069ff"/><stop offset="0.896" stop-color="#0056ff"/><stop offset="0.917" stop-color="#004aff"/><stop offset="0.938" stop-color="#0040ff"/><stop offset="0.958" stop-color="#0036ff"/><stop offset="0.979" stop-color="#002cff"/><stop offset="1" stop-color="#0021ff"/></linearGradient><linearGradient id="g23" x1="0" y1="0" x2="0" y2="1"><stop offset="0" stop-color="#0064ff"/><stop offset="0.0208" stop-color="#006bff"/><stop offset="0.0417" stop-color="#0071ff"/><stop offset="0.0625" stop-color="#0078ff"/><stop offset="0.0833" stop-color="#0081ff"/><stop offset="0.104" stop-color="#008bff"/><stop offset="0.125" stop-color="#0098ff"/><stop offset="0.146" stop-color="#00afff"/><stop offset="0.167" stop-color="#00cdff"/><stop offset="0.188" stop-color="#00edff"/><stop offset="0.208" stop-color="#00ffee"/><stop offset="0.229" stop-color="#00ffc8"/><stop offset="0.25" stop-color="#00ffa1"/><stop offset="0.271" stop-color="#00ff7a"/><stop offset="0.292" stop-color="#00ff4f"/><stop offset="0.312" stop-color="#00ff27"/><stop offset="0.333" stop-color="#00ff07"/><stop offset="0.354" stop-color="#18ff00"/><stop offset="0.375" stop-color="#37ff00"/><stop offset="0.396" stop-color="#57ff00"/><stop offset="0.417" stop-color="#7dff00"/><stop offset="0.438" stop-color="#a2ff00"/><stop offset="0.458" stop-color="#cfff00"/><stop offset="0.479" stop-color="#fffe00"/><stop offset="0.5" stop-color="#ffc800"/><stop offset="0.521" stop-color="#ffa900"/><stop offset="0.542" stop-color="#ff9900"/><stop offset="0.562" stop-color="#ff9b00"/><stop offset="0.583" stop-color="#ffad00"/><stop offset="0.604" stop-color="#ffd000"/><stop offset="0.625" stop-color="#fdff00"/><stop offset="0.646" stop-color="#bbff00"/><stop offset="0.667" stop-color="#84ff00"/><stop offset="0.688" stop-color="#58ff00"/><stop offset="0.708" stop-color="#1fff00"/><stop offset="0.729" stop-color="#00ff1e"/><stop offset="0.75" stop-color="#00ff58"/><stop offset="0.771" stop-color="#00ff9e"/><stop offset="0.792" stop-color="#00fffe"/><stop offset="0.812" stop-color="#00caff"/><stop offset="0.833" stop-color="#009eff"/><stop offset="0.854" stop-color="#007dff"/><stop offset="0.875" stop-color="#006aff"/><stop offset="0.896" stop-color="#0057ff"/><stop offset="0.917" stop-color="#004bff"/><stop offset="0.938" stop-color="#0041ff"/><stop offset="0.958" stop-color="#0036ff"/><stop offset="0.979" stop-color="#002cff"/><stop offset="1" stop-color="#0021ff"/></linearGradient><linearGradient id="g24" x1="0" y1="0" x2="0" y2="1"><stop offset="0" stop-color="#0065ff"/><stop offset="0.0208" stop-color="#006bff"/><stop offset="0.0417" stop-color="#0072ff"/><stop offset="0.0625" stop-color="#0079ff"/><stop offset="0.0833" stop-color="#0082ff"/><stop offset="0.104" stop-color="#008dff"/><stop offset="0.125" stop-color="#009cff"/><stop offset="0.146" stop-color="#00b5ff"/><stop offset="0.167" stop-color="#00d3ff"/><stop offset="0.188" stop-color="#00f4ff"/><stop offset="0.208" stop-color="#00ffe7"/><stop offset="0.229" stop-color="#00ffc1"/><stop offset="0.25" stop-color="#00ff9a"/><stop offset="0.271" stop-color="#00ff74"/><stop offset="0.292" stop-color="#00ff4a"/><stop offset="0.312" stop-color="#00ff23"/><stop offset="0.333" stop-color="#00ff03"/><stop offset="0.354" stop-color="#1cff00"/><stop offset="0.375" stop-color="#39ff00"/><stop offset="0.396" stop-color="#5bff00"/><stop offset="0.417" stop-color="#82ff00"/><stop offset="0.438" stop-color="#a8ff00"/><stop offset="0.458" stop-color="#d3ff00"/><stop offset="0.479" stop-color="#fff800"/><stop offset="0.5" stop-color="#ffc200"/><stop offset="0.521" stop-color="#ffa300"/><stop offset="0.542" stop-color="#ff9500"/><stop offset="0.562" stop-color="#ff9600"/><stop offset="0.583" stop-color="#ffa700"/><stop offset="0.604" stop-color="#ffcc00"/><stop offset="0.625" stop-color="#ffff00"/><stop offset="0.646" stop-color="#beff00"/><stop offset="0.667" stop-color="#85ff00"/><stop offset="0.688" stop-color="#5aff00"/><stop offset="0.708" stop-color="#22ff00"/><stop offset="0.729" stop-color="#00ff1c"/><stop offset="0.75" stop-color="#00ff56"/><stop offset="0.771" stop-color="#00ff9b"/><stop offset="0.792" stop-color="#00fffa"/><stop offset="0.812" stop-color="#00ccff"/><stop offset="0.833" stop-color="#00a0ff"/><stop offset="0.854" stop-color="#007eff"/><stop offset="0.875" stop-color="#006aff"/><stop offset="0.896" stop-color="#0058ff"/><stop offset="0.917" stop-color="#004bff"/><stop offset="0.938" stop-color="#0041ff"/><stop offset="0.958" stop-color="#0037ff"/><stop offset="0.979" stop-color="#002cff"/><stop offset="1" stop-color="#0021ff"/></linearGradient><linearGradient id="g25" x1="0" y1="0" x2="0" y2="1"><stop offset="0" stop-color="#0065ff"/><stop offset="0.0208" stop-color="#006cff"/><stop offset="0.0417" stop-color="#0073ff"/><stop offset="0.0625" stop-color="#007aff"/><stop offset="0.0833" stop-color="#0084ff"/><stop offset="0.104" stop-color="#008fff"/><stop offset="0.125" stop-color="#00a1ff"/><stop offset="0.146" stop-color="#00bbff"/><stop offset="0.167" stop-color="#00daff"/><stop offset="0.188" stop-color="#00fbff"/><stop offset="0.208" stop-color="#00ffe1"/><stop offset="0.229" stop-color="#00ffba"/><stop offset="0.25" stop-color="#00ff94"/><stop offset="0.271" stop-color="#00ff6d"/><stop offset="0.292" stop-color="#00ff44"/><stop offset="0.312" stop-color="#00ff1e"/><stop offset="0.333" stop-color="#01ff00"/><stop offset="0.354" stop-color="#1fff00"/><stop offset="0.375" stop-color="#3cff00"/><stop offset="0.396" stop-color="#5fff00"/><stop offset="0.417" stop-color="#86ff00"/><stop offset="0.438" stop-color="#adff00"/><stop offset="0.458" stop-color="#d8ff00"/><stop offset="0.479" stop-color="#fff300"/><stop offset="0.5" stop-color="#ffbc00"/><stop offset="0.521" stop-color="#ff9e00"/><stop offset="0.542" stop-color="#ff9000"/><stop offset="0.562" stop-color="#ff9200"/><stop offset="0.583" stop-color="#ffa100"/><stop offset="0.604" stop-color="#ffc800"/><stop offset="0.625" stop-color="#fffc00"/><stop offset="0.646" stop-color="#c0ff00"/><stop offset="0.667" stop-color="#87ff00"/><stop offset="0.688" stop-color="#5bff00"/><stop offset="0.708" stop-color="#24ff00"/><stop offset="0.729" stop-color="#00ff1a"/><stop offset="0.75" stop-color="#00ff54"/><stop offset="0.771" stop-color="#00ff97"/><stop offset="0.792" stop-color="#00fff7"/><stop offset="0.812" stop-color="#00ceff"/><stop offset="0.833" stop-color="#00a1ff"/><stop offset="0.854" stop-color="#0080ff"/><stop offset="0.875" stop-color="#006bff"/><stop offset="0.896" stop-color="#0058ff"/><stop offset="0.917" stop-color="#004bff"/><stop offset="0.938" stop-color="#0041ff"/><stop offset="0.958" stop-color="#0037ff"/><stop offset="0.979" stop-color="#002cff"/><stop offset="1" stop-color="#0021ff"/></linearGradient><linearGradient id="g26" x1="0" y1="0" x2="0" y2="1"><stop offset="0" stop-color="#0065ff"/><stop offset="0.0208" stop-color="#006cff"/><stop offset="0.0417" stop-color="#0073ff"/><stop offset="0.0625" stop-color="#007bff"/><stop offset="0.0833" stop-color="#0086ff"/><stop offset="0.104" stop-color="#0091ff"/><stop offset="0.125" stop-color="#00a5ff"/><stop offset="0.146" stop-color="#00c2ff"/><stop offset="0.167" stop-color="#00e1ff"/><stop offset="0.188" stop-color="#00fffc"/><stop offset="0.208" stop-color="#00ffda"/><stop offset="0.229" stop-color="#00ffb4"/><stop offset="0.25" stop-color="#00ff8d"/><stop offset="0.271" stop-color="#00ff66"/><stop offset="0.292" stop-color="#00ff3e"/><stop offset="0.312" stop-color="#00ff1a"/><stop offset="0.333" stop-color="#05ff00"/><stop offset="0.354" stop-color="#22ff00"/><stop offset="0.375" stop-color="#3fff00"/><stop offset="0.396" stop-color="#64ff00"/><stop offset="0.417" stop-color="#8bff00"/><stop offset="0.438" stop-color="#b3ff00"/><stop offset="0.458" stop-color="#ddff00"/><stop offset="0.479" stop-color="#ffed00"/><stop offset="0.5" stop-color="#ffb700"/><stop offset="0.521" stop-color="#ff9800"/><stop offset="0.542" stop-color="#ff8b00"/><stop offset="0.562" stop-color="#ff8d00"/><stop offset="0.583" stop-color="#ff9b00"/><stop offset="0.604" stop-color="#ffc300"/><stop offset="0.625" stop-color="#fffa00"/><stop offset="0.646" stop-color="#c3ff00"/><stop offset="0.667" stop-color="#88ff00"/><stop offset="0.688" stop-color="#5dff00"/><stop offset="0.708" stop-color="#26ff00"/><stop offset="0.729" stop-color="#00ff18"/><stop offset="0.75" stop-color="#00ff52"/><stop offset="0.771" stop-color="#00ff94"/><stop offset="0.792" stop-color="#00fff4"/><stop offset="0.812" stop-color="#00d0ff"/><stop offset="0.833" stop-color="#00a2ff"/><stop offset="0.854" stop-color="#0081ff"/><stop offset="0.875" stop-color="#006bff"/><stop offset="0.896" stop-color="#0059ff"/><stop offset="0.917" stop-color="#004bff"/><stop offset="0.938" stop-color="#0041ff"/><stop offset="0.958" stop-color="#0037ff"/><stop offset="0.979" stop-color="#002cff"/><stop offset="1" stop-color="#0021ff"/></linearGradient><linearGradient id="g27" x1="0" y1="0" x2="0" y2="1"><stop offset="0" stop-color="#0065ff"/><stop offset="0.0208" stop-color="#006dff"/><stop offset="0.0417" stop-color="#0074ff"/><stop offset="0.0625" stop-color="#007dff"/><stop offset="0.0833" stop-color="#0087ff"/><stop offset="0.104" stop-color="#0093ff"/><stop offset="0.125" stop-color="#00a9ff"/><stop offset="0.146" stop-color="#00c8ff"/><stop offset="0.167" stop-color="#00e8ff"/><stop offset="0.188" stop-color="#00fff5"/><stop offset="0.208" stop-color="#00ffd3"/><stop offset="0.229" stop-color="#00ffad"/><stop offset="0.25" stop-color="#00ff86"/><stop offset="0.271" stop-color="#00ff60"/><stop offset="0.292" stop-color="#00ff38"/><stop offset="0.312" stop-color="#00ff15"/><stop offset="0.333" stop-color="#09ff00"/><stop offset="0.354" stop-color="#25ff00"/><stop offset="0.375" stop-color="#41ff00"/><stop offset="0.396" stop-color="#68ff00"/><stop offset="0.417" stop-color="#90ff00"/><stop offset="0.438" stop-color="#b8ff00"/><stop offset="0.458" stop-color="#e2ff00"/><stop offset="0.479" stop-color="#ffe800"/><stop offset="0.5" stop-color="#ffb100"/><stop offset="0.521" stop-color="#ff9200"/><stop offset="0.542" stop-color="#ff8700"/><stop offset="0.562" stop-color="#ff8800"/><stop offset="0.583" stop-color="#ff9500"/><stop offset="0.604" stop-color="#ffbf00"/><stop offset="0.625" stop-color="#fff800"/><stop offset="0.646" stop-color="#c6ff00"/><stop offset="0.667" stop-color="#8aff00"/><stop offset="0.688" stop-color="#5eff00"/><stop offset="0.708" stop-color="#28ff00"/><stop offset="0.729" stop-color="#00ff16"/><stop offset="0.75" stop-color="#00ff50"/><stop offset="0.771" stop-color="#00ff91"/><stop offset="0.792" stop-color="#00fff1"/><stop offset="0.812" stop-color="#00d2ff"/><stop offset="0.833" stop-color="#00a3ff"/><stop offset="0.854" stop-color="#0082ff"/><stop offset="0.875" stop-color="#006cff"/><stop offset="0.896" stop-color="#005aff"/><stop offset="0.917" stop-color="#004cff"/><stop offset="0.938" stop-color="#0041ff"/><stop offset="0.958" stop-color="#0037ff"/><stop offset="0.979" stop-color="#002cff"/><stop offset="1" stop-color="#0021ff"/></linearGradient><linearGradient id="g28" x1="0" y1="0" x2="0" y2="1"><stop offset="0" stop-color="#0066ff"/><stop offset="0.0208" stop-color="#006dff"/><stop offset="0.0417" stop-color="#0075ff"/><stop offset="0.0625" stop-color="#007eff"/><stop offset="0.0833" stop-color="#0089ff"/><stop offset="0.104" stop-color="#0095ff"/><stop offset="0.125" stop-color="#00aeff"/><stop offset="0.146" stop-color="#00ceff"/><stop offset="0.167" stop-color="#00eeff"/><stop offset="0.188" stop-color="#00ffef"/><stop offset="0.208" stop-color="#00ffcd"/><stop offset="0.229" stop-color="#00ffa6"/><stop offset="0.25" stop-color="#00ff80"/><stop offset="0.271" stop-color="#00ff59"/><stop offset="0.292" stop-color="#00ff33"/><stop offset="0.312" stop-color="#00ff11"/><stop offset="0.333" stop-color="#0dff00"/><stop offset="0.354" stop-color="#29ff00"/><stop offset="0.375" stop-color="#44ff00"/><stop offset="0.396" stop-color="#6cff00"/><stop offset="0.417" stop-color="#95ff00"/><stop offset="0.438" stop-color="#beff00"/><stop offset="0.458" stop-color="#e7ff00"/><stop offset="0.479" stop-color="#ffe200"/><stop offset="0.5" stop-color="#ffab00"/><stop offset="0.521" stop-color="#ff8d00"/><stop offset="0.542" stop-color="#ff8200"/><stop offset="0.562" stop-color="#ff8300"/><stop offset="0.583" stop-color="#ff8f00"/><stop offset="0.604" stop-color="#ffbb00"/><stop offset="0.625" stop-color="#fff500"/><stop offset="0.646" stop-color="#c8ff00"/><stop offset="0.667" stop-color="#8bff00"/><stop offset="0.688" stop-color="#60ff00"/><stop offset="0.708" stop-color="#2bff00"/><stop offset="0.729" stop-color="#00ff14"/><stop offset="0.75" stop-color="#00ff4e"/><stop offset="0.771" stop-color="#00ff8d"/><stop offset="0.792" stop-color="#00ffee"/><stop offset="0.812" stop-color="#00d4ff"/><stop offset="0.833" stop-color="#00a4ff"/><stop offset="0.854" stop-color="#0083ff"/><stop offset="0.875" stop-color="#006dff"/><stop offset="0.896" stop-color="#005aff"/><stop offset="0.917" stop-color="#004cff"/><stop offset="0.938" stop-color="#0041ff"/><stop offset="0.958" stop-color="#0037ff"/><stop offset="0.979" stop-color="#002cff"/><stop offset="1" stop-color="#0021ff"/></linearGradient><linearGradient id="g29" x1="0" y1="0" x2="0" y2="1"><stop offset="0" stop-color="#0066ff"/><stop offset="0.0208" stop-color="#006eff"/><stop offset="0.0417" stop-color="#0075ff"/><stop offset="0.0625" stop-color="#007eff"/><stop offset="0.0833" stop-color="#008aff"/><stop offset="0.104" stop-color="#0095ff"/><stop offset="0.125" stop-color="#00afff"/><stop offset="0.146" stop-color="#00d0ff"/><stop offset="0.167" stop-color="#00f0ff"/><stop offset="0.188" stop-color="#00ffec"/><stop offset="0.208" stop-color="#00ffcb"/><stop offset="0.229" stop-color="#00ffa4"/><stop offset="0.25" stop-color="#00ff7e"/><stop offset="0.271" stop-color="#00ff57"/><stop offset="0.292" stop-color="#00ff31"/><stop offset="0.312" stop-color="#00ff0f"/><stop offset="0.333" stop-color="#0eff00"/><stop offset="0.354" stop-color="#2aff00"/><stop offset="0.375" stop-color="#45ff00"/><stop offset="0.396" stop-color="#6dff00"/><stop offset="0.417" stop-color="#97ff00"/><stop offset="0.438" stop-color="#bfff00"/><stop offset="0.458" stop-color="#e8ff00"/><stop offset="0.479" stop-color="#ffe000"/><stop offset="0.5" stop-color="#ffa900"/><stop offset="0.521" stop-color="#ff8b00"/><stop offset="0.542" stop-color="#ff8000"/><stop offset="0.562" stop-color="#ff8200"/><stop offset="0.583" stop-color="#ff8d00"/><stop offset="0.604" stop-color="#ffba00"/><stop offset="0.625" stop-color="#fff500"/><stop offset="0.646" stop-color="#c9ff00"/><stop offset="0.667" stop-color="#8cff00"/><stop offset="0.688" stop-color="#60ff00"/><stop offset="0.708" stop-color="#2bff00"/><stop offset="0.729" stop-color="#00ff13"/><stop offset="0.75" stop-color="#00ff4d"/><stop offset="0.771" stop-color="#00ff8c"/><stop offset="0.792" stop-color="#00ffed"/><stop offset="0.812" stop-color="#00d4ff"/><stop offset="0.833" stop-color="#00a4ff"/><stop offset="0.854" stop-color="#0083ff"/><stop offset="0.875" stop-color="#006dff"/><stop offset="0.896" stop-color="#005aff"/><stop offset="0.917" stop-color="#004cff"/><stop offset="0.938" stop-color="#0041ff"/><stop offset="0.958" stop-color="#0037ff"/><stop offset="0.979" stop-color="#002cff"/><stop offset="1" stop-color="#0021ff"/></linearGradient><linearGradient id="g30" x1="0" y1="0" x2="0" y2="1"><stop offset="0" stop-color="#0066ff"/><stop offset="0.0208" stop-color="#006dff"/><stop offset="0.0417" stop-color="#0074ff"/><stop offset="0.0625" stop-color="#007dff"/><stop offset="0.0833" stop-color="#0088ff"/><stop offset="0.104" stop-color="#0093ff"/><stop offset="0.125" stop-color="#00abff"/><stop offset="0.146" stop-color="#00caff"/><stop offset="0.167" stop-color="#00eaff"/><stop offset="0.188" stop-color="#00fff3"/><stop offset="0.208" stop-color="#00ffd1"/><stop offset="0.229" stop-color="#00ffab"/><stop offset="0.25" stop-color="#00ff84"/><stop offset="0.271" stop-color="#00ff5e"/><stop offset="0.292" stop-color="#00ff37"/><stop offset="0.312" stop-color="#00ff14"/><stop offset="0.333" stop-color="#0aff00"/><stop offset="0.354" stop-color="#26ff00"/><stop offset="0.375" stop-color="#42ff00"/><stop offset="0.396" stop-color="#69ff00"/><stop offset="0.417" stop-color="#92ff00"/><stop offset="0.438" stop-color="#baff00"/><stop offset="0.458" stop-color="#e3ff00"/><stop offset="0.479" stop-color="#ffe600"/><stop offset="0.5" stop-color="#ffaf00"/><stop offset="0.521" stop-color="#ff9100"/><stop offset="0.542" stop-color="#ff8500"/><stop offset="0.562" stop-color="#ff8700"/><stop offset="0.583" stop-color="#ff9300"/><stop offset="0.604" stop-color="#ffbe00"/><stop offset="0.625" stop-color="#fff700"/><stop offset="0.646" stop-color="#c7ff00"/><stop offset="0.667" stop-color="#8aff00"/><stop offset="0.688" stop-color="#5fff00"/><stop offset="0.708" stop-color="#29ff00"/><stop offset="0.729" stop-color="#00ff15"/><stop offset="0.75" stop-color="#00ff4f"/><stop offset="0.771" stop-color="#00ff90"/><stop offset="0.792" stop-color="#00fff0"/><stop offset="0.812" stop-color="#00d2ff"/><stop offset="0.833" stop-color="#00a3ff"/><stop offset="0.854" stop-color="#0082ff"/><stop offset="0.875" stop-color="#006cff"/><stop offset="0.896" stop-color="#005aff"/><stop offset="0.917" stop-color="#004cff"/><stop offset="0.938" stop-color="#0041ff"/><stop offset="0.958" stop-color="#0037ff"/><stop offset="0.979" stop-color="#002cff"/><stop offset="1" stop-color="#0021ff"/></linearGradient><linearGradient id="g31" x1="0" y1="0" x2="0" y2="1"><stop offset="0" stop-color="#0065ff"/><stop offset="0.0208" stop-color="#006cff"/><stop offset="0.0417" stop-color="#0074ff"/><stop offset="0.0625" stop-color="#007cff"/><stop offset="0.0833" stop-color="#0086ff"/><stop offset="0.104" stop-color="#0091ff"/><stop offset="0.125" stop-color="#00a6ff"/><stop offset="0.146" stop-color="#00c3ff"/><stop offset="0.167" stop-color="#00e3ff"/><stop offset="0.188" stop-color="#00fffa"/><stop offset="0.208" stop-color="#00ffd8"/><stop offset="0.229" stop-color="#00ffb2"/><stop offset="0.25" stop-color="#00ff8b"/><stop offset="0.271" stop-color="#00ff64"/><stop offset="0.292" stop-color="#00ff3c"/><stop offset="0.312" stop-color="#00ff18"/><stop offset="0.333" stop-color="#06ff00"/><stop offset="0.354" stop-color="#23ff00"/><stop offset="0.375" stop-color="#40ff00"/><stop offset="0.396" stop-color="#65ff00"/><stop offset="0.417" stop-color="#8dff00"/><stop offset="0.438" stop-color="#b4ff00"/><stop offset="0.458" stop-color="#dfff00"/><stop offset="0.479" stop-color="#ffec00"/><stop offset="0.5" stop-color="#ffb500"/><stop offset="0.521" stop-color="#ff9600"/><stop offset="0.542" stop-color="#ff8a00"/><stop offset="0.562" stop-color="#ff8b00"/><stop offset="0.583" stop-color="#ff9900"/><stop offset="0.604" stop-color="#ffc200"/><stop offset="0.625" stop-color="#fff900"/><stop offset="0.646" stop-color="#c4ff00"/><stop offset="0.667" stop-color="#89ff00"/><stop offset="0.688" stop-color="#5dff00"/><stop offset="0.708" stop-color="#27ff00"/><stop offset="0.729" stop-color="#00ff17"/><stop offset="0.75" stop-color="#00ff51"/><stop offset="0.771" stop-color="#00ff93"/><stop offset="0.792" stop-color="#00fff3"/><stop offset="0.812" stop-color="#00d0ff"/><stop offset="0.833" stop-color="#00a2ff"/><stop offset="0.854" stop-color="#0081ff"/><stop offset="0.875" stop-color="#006cff"/><stop offset="0.896" stop-color="#0059ff"/><stop offset="0.917" stop-color="#004bff"/><stop offset="0.938" stop-color="#0041ff"/><stop offset="0.958" stop-color="#0037ff"/><stop offset="0.979" stop-color="#002cff"/><stop offset="1" stop-color="#0021ff"/></linearGradient><linearGradient id="g32" x1="0" y1="0" x2="0" y2="1"><stop offset="0" stop-color="#0065ff"/><stop offset="0.0208" stop-color="#006cff"/><stop offset="0.0417" stop-color="#0073ff"/><stop offset="0.0625" stop-color="#007bff"/><stop offset="0.0833" stop-color="#0085ff"/><stop offset="0.104" stop-color="#0090ff"/><stop offset="0.125" stop-color="#00a2ff"/><stop offset="0.146" stop-color="#00bdff"/><stop offset="0.167" stop-color="#00dcff"/><stop offset="0.188" stop-color="#00fdff"/><stop offset="0.208" stop-color="#00ffdf"/><stop offset="0.229" stop-color="#00ffb8"/><stop offset="0.25" stop-color="#00ff92"/><stop offset="0.271" stop-color="#00ff6b"/><stop offset="0.292" stop-color="#00ff42"/><stop offset="0.312" stop-color="#00ff1d"/><stop offset="0.333" stop-color="#02ff00"/><stop offset="0.354" stop-color="#20ff00"/><stop offset="0.375" stop-color="#3dff00"/><stop offset="0.396" stop-color="#61ff00"/><stop offset="0.417" stop-color="#88ff00"/><stop offset="0.438" stop-color="#afff00"/><stop offset="0.458" stop-color="#daff00"/><stop offset="0.479" stop-color="#fff100"/><stop offset="0.5" stop-color="#ffbb00"/><stop offset="0.521" stop-color="#ff9c00"/><stop offset="0.542" stop-color="#ff8f00"/><stop offset="0.562" stop-color="#ff9000"/><stop offset="0.583" stop-color="#ff9f00"/><stop offset="0.604" stop-color="#ffc600"/><stop offset="0.625" stop-color="#fffc00"/><stop offset="0.646" stop-color="#c1ff00"/><stop offset="0.667" stop-color="#87ff00"/><stop offset="0.688" stop-color="#5cff00"/><stop offset="0.708" stop-color="#25ff00"/><stop offset="0.729" stop-color="#00ff19"/><stop offset="0.75" stop-color="#00ff53"/><stop offset="0.771" stop-color="#00ff96"/><stop offset="0.792" stop-color="#00fff6"/><stop offset="0.812" stop-color="#00cfff"/><stop offset="0.833" stop-color="#00a1ff"/><stop offset="0.854" stop-color="#0080ff"/><stop offset="0.875" stop-color="#006bff"/><stop offset="0.896" stop-color="#0058ff"/><stop offset="0.917" stop-color="#004bff"/><stop offset="0.938" stop-color="#0041ff"/><stop offset="0.958" stop-color="#0037ff"/><stop offset="0.979" stop-color="#002cff"/><stop offset="1" stop-color="#0021ff"/></linearGradient><linearGradient id="g33" x1="0" y1="0" x2="0" y2="1"><stop offset="0" stop-color="#0065ff"/><stop offset="0.0208" stop-color="#006bff"/><stop offset="0.0417" stop-color="#0072ff"/><stop offset="0.0625" stop-color="#0079ff"/><stop offset="0.0833" stop-color="#0083ff"/><stop offset="0.104" stop-color="#008eff"/><stop offset="0.125" stop-color="#009eff"/><stop offset="0.146" stop-color="#00b7ff"/><stop offset="0.167" stop-color="#00d5ff"/><stop offset="0.188" stop-color="#00f6ff"/><stop offset="0.208" stop-color="#00ffe5"/><stop offset="0.229" stop-color="#00ffbf"/><stop offset="0.25" stop-color="#00ff98"/><stop offset="0.271" stop-color="#00ff72"/><stop offset="0.292" stop-color="#00ff48"/><stop offset="0.312" stop-color="#00ff22"/><stop offset="0.333" stop-color="#00ff02"/><stop offset="0.354" stop-color="#1dff00"/><stop offset="0.375" stop-color="#3aff00"/><stop offset="0.396" stop-color="#5cff00"/><stop offset="0.417" stop-color="#83ff00"/><stop offset="0.438" stop-color="#a9ff00"/><stop offset="0.458" stop-color="#d5ff00"/><stop offset="0.479" stop-color="#fff700"/><stop offset="0.5" stop-color="#ffc000"/><stop offset="0.521" stop-color="#ffa200"/><stop offset="0.542" stop-color="#ff9300"/><stop offset="0.562" stop-color="#ff9500"/><stop offset="0.583" stop-color="#ffa500"/><stop offset="0.604" stop-color="#ffcb00"/><stop offset="0.625" stop-color="#fffe00"/><stop offset="0.646" stop-color="#bfff00"/><stop offset="0.667" stop-color="#86ff00"/><stop offset="0.688" stop-color="#5aff00"/><stop offset="0.708" stop-color="#22ff00"/><stop offset="0.729" stop-color="#00ff1b"/><stop offset="0.75" stop-color="#00ff55"/><stop offset="0.771" stop-color="#00ff9a"/><stop offset="0.792" stop-color="#00fff9"/><stop offset="0.812" stop-color="#00cdff"/><stop offset="0.833" stop-color="#00a0ff"/><stop offset="0.854" stop-color="#007fff"/><stop offset="0.875" stop-color="#006aff"/><stop offset="0.896" stop-color="#0058ff"/><stop offset="0.917" stop-color="#004bff"/><stop offset="0.938" stop-color="#0041ff"/><stop offset="0.958" stop-color="#0037ff"/><stop offset="0.979" stop-color="#002cff"/><stop offset="1" stop-color="#0021ff"/></linearGradient><linearGradient id="g34" x1="0" y1="0" x2="0" y2="1"><stop offset="0" stop-color="#0064ff"/><stop offset="0.0208" stop-color="#006bff"/><stop offset="0.0417" stop-color="#0071ff"/><stop offset="0.0625" stop-color="#0078ff"/><stop offset="0.0833" stop-color="#0081ff"/><stop offset="0.104" stop-color="#008cff"/><stop offset="0.125" stop-color="#0099ff"/><stop offset="0.146" stop-color="#00b1ff"/><stop offset="0.167" stop-color="#00cfff"/><stop offset="0.188" stop-color="#00efff"/><stop offset="0.208" stop-color="#00ffec"/><stop offset="0.229" stop-color="#00ffc6"/><stop offset="0.25" stop-color="#00ff9f"/><stop offset="0.271" stop-color="#00ff78"/><stop offset="0.292" stop-color="#00ff4e"/><stop offset="0.312" stop-color="#00ff26"/><stop offset="0.333" stop-color="#00ff06"/><stop offset="0.354" stop-color="#19ff00"/><stop offset="0.375" stop-color="#37ff00"/><stop offset="0.396" stop-color="#58ff00"/><stop offset="0.417" stop-color="#7eff00"/><stop offset="0.438" stop-color="#a4ff00"/><stop offset="0.458" stop-color="#d0ff00"/><stop offset="0.479" stop-color="#fffc00"/><stop offset="0.5" stop-color="#ffc600"/><stop offset="0.521" stop-color="#ffa700"/><stop offset="0.542" stop-color="#ff9800"/><stop offset="0.562" stop-color="#ff9a00"/><stop offset="0.583" stop-color="#ffac00"/><stop offset="0.604" stop-color="#ffcf00"/><stop offset="0.625" stop-color="#feff00"/><stop offset="0.646" stop-color="#bcff00"/><stop offset="0.667" stop-color="#84ff00"/><stop offset="0.688" stop-color="#59ff00"/><stop offset="0.708" stop-color="#20ff00"/><stop offset="0.729" stop-color="#00ff1d"/><stop offset="0.75" stop-color="#00ff57"/><stop offset="0.771" stop-color="#00ff9d"/><stop offset="0.792" stop-color="#00fffd"/><stop offset="0.812" stop-color="#00cbff"/><stop offset="0.833" stop-color="#009fff"/><stop offset="0.854" stop-color="#007eff"/><stop offset="0.875" stop-color="#006aff"/><stop offset="0.896" stop-color="#0057ff"/><stop offset="0.917" stop-color="#004bff"/><stop offset="0.938" stop-color="#0041ff"/><stop offset="0.958" stop-color="#0037ff"/><stop offset="0.979" stop-color="#002cff"/><stop offset="1" stop-color="#0021ff"/></linearGradient><linearGradient id="g35" x1="0" y1="0" x2="0" y2="1"><stop offset="0" stop-color="#0064ff"/><stop offset="0.0208" stop-color="#006aff"/><stop offset="0.0417" stop-color="#0071ff"/><stop offset="0.0625" stop-color="#0077ff"/><stop offset="0.0833" stop-color="#0080ff"/><stop offset="0.104" stop-color="#008aff"/><stop offset="0.125" stop-color="#0095ff"/><stop offset="0.146" stop-color="#00abff"/><stop offset="0.167" stop-color="#00c8ff"/><stop offset="0.188" stop-color="#00e8ff"/><stop offset="0.208" stop-color="#00fff3"/><stop offset="0.229" stop-color="#00ffcc"/><stop offset="0.25" stop-color="#00ffa6"/><stop offset="0.271" stop-color="#00ff7f"/><stop offset="0.292" stop-color="#00ff54"/><stop offset="0.312" stop-color="#00ff2b"/><stop offset="0.333" stop-color="#00ff0a"/><stop offset="0.354" stop-color="#16ff00"/><stop offset="0.375" stop-color="#35ff00"/><stop offset="0.396" stop-color="#54ff00"/><stop offset="0.417" stop-color="#79ff00"/><stop offset="0.438" stop-color="#9eff00"/><stop offset="0.458" stop-color="#cbff00"/><stop offset="0.479" stop-color="#fcff00"/><stop offset="0.5" stop-color="#ffcc00"/><stop offset="0.521" stop-color="#ffad00"/><stop offset="0.542" stop-color="#ff9d00"/><stop offset="0.562" stop-color="#ff9e00"/><stop offset="0.583" stop-color="#ffb200"/><stop offset="0.604" stop-color="#ffd300"/><stop offset="0.625" stop-color="#fbff00"/><stop offset="0.646" stop-color="#b9ff00"/><stop offset="0.667" stop-color="#83ff00"/><stop offset="0.688" stop-color="#57ff00"/><stop offset="0.708" stop-color="#1eff00"/><stop offset="0.729" stop-color="#00ff1f"/><stop offset="0.75" stop-color="#00ff59"/><stop offset="0.771" stop-color="#00ffa0"/><stop offset="0.792" stop-color="#00feff"/><stop offset="0.812" stop-color="#00c9ff"/><stop offset="0.833" stop-color="#009eff"/><stop offset="0.854" stop-color="#007dff"/><stop offset="0.875" stop-color="#0069ff"/><stop offset="0.896" stop-color="#0057ff"/><stop offset="0.917" stop-color="#004aff"/><stop offset="0.938" stop-color="#0040ff"/><stop offset="0.958" stop-color="#0036ff"/><stop offset="0.979" stop-color="#002cff"/><stop offset="1" stop-color="#0021ff"/></linearGradient><linearGradient id="g36" x1="0" y1="0" x2="0" y2="1"><stop offset="0" stop-color="#0063ff"/><stop offset="0.0208" stop-color="#0069ff"/><stop offset="0.0417" stop-color="#006fff"/><stop offset="0.0625" stop-color="#0076ff"/><stop offset="0.0833" stop-color="#007dff"/><stop offset="0.104" stop-color="#0087ff"/><stop offset="0.125" stop-color="#0092ff"/><stop offset="0.146" stop-color="#00a4ff"/><stop offset="0.167" stop-color="#00bdff"/><stop offset="0.188" stop-color="#00dcff"/><stop offset="0.208" stop-color="#00fcff"/><stop offset="0.229" stop-color="#00ffde"/><stop offset="0.25" stop-color="#00ffb8"/><stop offset="0.271" stop-color="#00ff91"/><stop offset="0.292" stop-color="#00ff67"/><stop offset="0.312" stop-color="#00ff3f"/><stop offset="0.333" stop-color="#00ff1a"/><stop offset="0.354" stop-color="#08ff00"/><stop offset="0.375" stop-color="#28ff00"/><stop offset="0.396" stop-color="#47ff00"/><stop offset="0.417" stop-color="#6aff00"/><stop offset="0.438" stop-color="#8eff00"/><stop offset="0.458" stop-color="#b6ff00"/><stop offset="0.479" stop-color="#e5ff00"/><stop offset="0.5" stop-color="#ffe700"/><stop offset="0.521" stop-color="#ffc700"/><stop offset="0.542" stop-color="#ffb500"/><stop offset="0.562" stop-color="#ffb600"/><stop offset="0.583" stop-color="#ffc900"/><stop offset="0.604" stop-color="#ffea00"/><stop offset="0.625" stop-color="#e4ff00"/><stop offset="0.646" stop-color="#a4ff00"/><stop offset="0.667" stop-color="#6dff00"/><stop offset="0.688" stop-color="#45ff00"/><stop offset="0.708" stop-color="#15ff00"/><stop offset="0.729" stop-color="#00ff26"/><stop offset="0.75" stop-color="#00ff5e"/><stop offset="0.771" stop-color="#00ffa7"/><stop offset="0.792" stop-color="#00faff"/><stop offset="0.812" stop-color="#00c6ff"/><stop offset="0.833" stop-color="#009bff"/><stop offset="0.854" stop-color="#007bff"/><stop offset="0.875" stop-color="#0068ff"/><stop offset="0.896" stop-color="#0056ff"/><stop offset="0.917" stop-color="#004aff"/><stop offset="0.938" stop-color="#0040ff"/><stop offset="0.958" stop-color="#0036ff"/><stop offset="0.979" stop-color="#002cff"/><stop offset="1" stop-color="#0021ff"/></linearGradient><linearGradient id="g37" x1="0" y1="0" x2="0" y2="1"><stop offset="0" stop-color="#0062ff"/><stop offset="0.0208" stop-color="#0068ff"/><stop offset="0.0417" stop-color="#006eff"/><stop offset="0.0625" stop-color="#0074ff"/><stop offset="0.0833" stop-color="#007bff"/><stop offset="0.104" stop-color="#0084ff"/><stop offset="0.125" stop-color="#008eff"/><stop offset="0.146" stop-color="#009dff"/><stop offset="0.167" stop-color="#00b3ff"/><stop offset="0.188" stop-color="#00cfff"/><stop offset="0.208" stop-color="#00edff"/><stop offset="0.229" stop-color="#00fff0"/><stop offset="0.25" stop-color="#00ffcb"/><stop offset="0.271" stop-color="#00ffa4"/><stop offset="0.292" stop-color="#00ff7c"/><stop offset="0.312" stop-color="#00ff53"/><stop offset="0.333" stop-color="#00ff2b"/><stop offset="0.354" stop-color="#00ff06"/><stop offset="0.375" stop-color="#1bff00"/><stop offset="0.396" stop-color="#3aff00"/><stop offset="0.417" stop-color="#5cff00"/><stop offset="0.438" stop-color="#7dff00"/><stop offset="0.458" stop-color="#a1ff00"/><stop offset="0.479" stop-color="#ceff00"/><stop offset="0.5" stop-color="#fcff00"/><stop offset="0.521" stop-color="#ffe100"/><stop offset="0.542" stop-color="#ffcd00"/><stop offset="0.562" stop-color="#ffce00"/><stop offset="0.583" stop-color="#ffe000"/><stop offset="0.604" stop-color="#fcff00"/><stop offset="0.625" stop-color="#ccff00"/><stop offset="0.646" stop-color="#8fff00"/><stop offset="0.667" stop-color="#56ff00"/><stop offset="0.688" stop-color="#32ff00"/><stop offset="0.708" stop-color="#0cff00"/><stop offset="0.729" stop-color="#00ff2c"/><stop offset="0.75" stop-color="#00ff63"/><stop offset="0.771" stop-color="#00ffad"/><stop offset="0.792" stop-color="#00f7ff"/><stop offset="0.812" stop-color="#00c2ff"/><stop offset="0.833" stop-color="#0099ff"/><stop offset="0.854" stop-color="#007aff"/><stop offset="0.875" stop-color="#0068ff"/><stop offset="0.896" stop-color="#0056ff"/><stop offset="0.917" stop-color="#004aff"/><stop offset="0.938" stop-color="#0040ff"/><stop offset="0.958" stop-color="#0036ff"/><stop offset="0.979" stop-color="#002cff"/><stop offset="1" stop-color="#0021ff"/></linearGradient><linearGradient id="g38" x1="0" y1="0" x2="0" y2="1"><stop offset="0" stop-color="#0061ff"/><stop offset="0.0208" stop-color="#0067ff"/><stop offset="0.0417" stop-color="#006dff"/><stop offset="0.0625" stop-color="#0073ff"/><stop offset="0.0833" stop-color="#0079ff"/><stop offset="0.104" stop-color="#0081ff"/><stop offset="0.125" stop-color="#008bff"/><stop offset="0.146" stop-color="#0096ff"/><stop offset="0.167" stop-color="#00a8ff"/><stop offset="0.188" stop-color="#00c3ff"/><stop offset="0.208" stop-color="#00dfff"/><stop offset="0.229" stop-color="#00fcff"/><stop offset="0.25" stop-color="#00ffdd"/><stop offset="0.271" stop-color="#00ffb7"/><stop offset="0.292" stop-color="#00ff90"/><stop offset="0.312" stop-color="#00ff67"/><stop offset="0.333" stop-color="#00ff3c"/><stop offset="0.354" stop-color="#00ff15"/><stop offset="0.375" stop-color="#0fff00"/><stop offset="0.396" stop-color="#2dff00"/><stop offset="0.417" stop-color="#4dff00"/><stop offset="0.438" stop-color="#6cff00"/><stop offset="0.458" stop-color="#8cff00"/><stop offset="0.479" stop-color="#b7ff00"/><stop offset="0.5" stop-color="#e1ff00"/><stop offset="0.521" stop-color="#fffc00"/><stop offset="0.542" stop-color="#ffe500"/><stop offset="0.562" stop-color="#ffe500"/><stop offset="0.583" stop-color="#fff700"/><stop offset="0.604" stop-color="#e4ff00"/><stop offset="0.625" stop-color="#b4ff00"/><stop offset="0.646" stop-color="#7aff00"/><stop offset="0.667" stop-color="#40ff00"/><stop offset="0.688" stop-color="#20ff00"/><stop offset="0.708" stop-color="#02ff00"/><stop offset="0.729" stop-color="#00ff32"/><stop offset="0.75" stop-color="#00ff67"/><stop offset="0.771" stop-color="#00ffb4"/><stop offset="0.792" stop-color="#00f3ff"/><stop offset="0.812" stop-color="#00beff"/><stop offset="0.833" stop-color="#0097ff"/><stop offset="0.854" stop-color="#0078ff"/><stop offset="0.875" stop-color="#0067ff"/><stop offset="0.896" stop-color="#0056ff"/><stop offset="0.917" stop-color="#004aff"/><stop offset="0.938" stop-color="#0040ff"/><stop offset="0.958" stop-color="#0036ff"/><stop offset="0.979" stop-color="#002cff"/><stop offset="1" stop-color="#0021ff"/></linearGradient><linearGradient id="g39" x1="0" y1="0" x2="0" y2="1"><stop offset="0" stop-color="#0061ff"/><stop offset="0.0208" stop-color="#0066ff"/><stop offset="0.0417" stop-color="#006cff"/><stop offset="0.0625" stop-color="#0072ff"/><stop offset="0.0833" stop-color="#0077ff"/><stop offset="0.104" stop-color="#007fff"/><stop offset="0.125" stop-color="#0088ff"/><stop offset="0.146" stop-color="#0092ff"/><stop offset="0.167" stop-color="#00a2ff"/><stop offset="0.188" stop-color="#00b9ff"/><stop offset="0.208" stop-color="#00d1ff"/><stop offset="0.229" stop-color="#00eeff"/><stop offset="0.25" stop-color="#00ffed"/><stop offset="0.271" stop-color="#00ffc7"/><stop offset="0.292" stop-color="#00ffa0"/><stop offset="0.312" stop-color="#00ff77"/><stop offset="0.333" stop-color="#00ff4c"/><stop offset="0.354" stop-color="#00ff23"/><stop offset="0.375" stop-color="#02ff00"/><stop offset="0.396" stop-color="#22ff00"/><stop offset="0.417" stop-color="#42ff00"/><stop offset="0.438" stop-color="#61ff00"/><stop offset="0.458" stop-color="#81ff00"/><stop offset="0.479" stop-color="#a7ff00"/><stop offset="0.5" stop-color="#cdff00"/><stop offset="0.521" stop-color="#eaff00"/><stop offset="0.542" stop-color="#fffe00"/><stop offset="0.562" stop-color="#fffe00"/><stop offset="0.583" stop-color="#efff00"/><stop offset="0.604" stop-color="#d1ff00"/><stop offset="0.625" stop-color="#a2ff00"/><stop offset="0.646" stop-color="#6bff00"/><stop offset="0.667" stop-color="#38ff00"/><stop offset="0.688" stop-color="#18ff00"/><stop offset="0.708" stop-color="#00ff07"/><stop offset="0.729" stop-color="#00ff3b"/><stop offset="0.75" stop-color="#00ff6e"/><stop offset="0.771" stop-color="#00ffbd"/><stop offset="0.792" stop-color="#00efff"/><stop offset="0.812" stop-color="#00bbff"/><stop offset="0.833" stop-color="#0095ff"/><stop offset="0.854" stop-color="#0077ff"/><stop offset="0.875" stop-color="#0066ff"/><stop offset="0.896" stop-color="#0055ff"/><stop offset="0.917" stop-color="#004aff"/><stop offset="0.938" stop-color="#0040ff"/><stop offset="0.958" stop-color="#0036ff"/><stop offset="0.979" stop-color="#002cff"/><stop offset="1" stop-color="#0021ff"/></linearGradient><linearGradient id="g40" x1="0" y1="0" x2="0" y2="1"><stop offset="0" stop-color="#0061ff"/><stop offset="0.0208" stop-color="#0066ff"/><stop offset="0.0417" stop-color="#006bff"/><stop offset="0.0625" stop-color="#0071ff"/><stop offset="0.0833" stop-color="#0076ff"/><stop offset="0.104" stop-color="#007cff"/><stop offset="0.125" stop-color="#0085ff"/><stop offset="0.146" stop-color="#008fff"/><stop offset="0.167" stop-color="#009dff"/><stop offset="0.188" stop-color="#00b0ff"/><stop offset="0.208" stop-color="#00c4ff"/><stop offset="0.229" stop-color="#00e0ff"/><stop offset="0.25" stop-color="#00fffc"/><stop offset="0.271" stop-color="#00ffd7"/><stop offset="0.292" stop-color="#00ffb0"/><stop offset="0.312" stop-color="#00ff86"/><stop offset="0.333" stop-color="#00ff5b"/><stop offset="0.354" stop-color="#00ff31"/><stop offset="0.375" stop-color="#00ff0a"/><stop offset="0.396" stop-color="#18ff00"/><stop offset="0.417" stop-color="#38ff00"/><stop offset="0.438" stop-color="#58ff00"/><stop offset="0.458" stop-color="#78ff00"/><stop offset="0.479" stop-color="#9aff00"/><stop offset="0.5" stop-color="#bcff00"/><stop offset="0.521" stop-color="#d3ff00"/><stop offset="0.542" stop-color="#e6ff00"/><stop offset="0.562" stop-color="#e8ff00"/><stop offset="0.583" stop-color="#d7ff00"/><stop offset="0.604" stop-color="#beff00"/><stop offset="0.625" stop-color="#90ff00"/><stop offset="0.646" stop-color="#5eff00"/><stop offset="0.667" stop-color="#33ff00"/><stop offset="0.688" stop-color="#13ff00"/><stop offset="0.708" stop-color="#00ff11"/><stop offset="0.729" stop-color="#00ff43"/><stop offset="0.75" stop-color="#00ff75"/><stop offset="0.771" stop-color="#00ffc6"/><stop offset="0.792" stop-color="#00ecff"/><stop offset="0.812" stop-color="#00b7ff"/><stop offset="0.833" stop-color="#0092ff"/><stop offset="0.854" stop-color="#0076ff"/><stop offset="0.875" stop-color="#0065ff"/><stop offset="0.896" stop-color="#0054ff"/><stop offset="0.917" stop-color="#0049ff"/><stop offset="0.938" stop-color="#0040ff"/><stop offset="0.958" stop-color="#0036ff"/><stop offset="0.979" stop-color="#002cff"/><stop offset="1" stop-color="#0021ff"/></linearGradient><linearGradient id="g41" x1="0" y1="0" x2="0" y2="1"><stop offset="0" stop-color="#0061ff"/><stop offset="0.0208" stop-color="#0066ff"/><stop offset="0.0417" stop-color="#006bff"/><stop offset="0.0625" stop-color="#0070ff"/><stop offset="0.0833" stop-color="#0075ff"/><stop offset="0.104" stop-color="#007aff"/><stop offset="0.125" stop-color="#0083ff"/><stop offset="0.146" stop-color="#008dff"/><stop offset="0.167" stop-color="#0097ff"/><stop offset="0.188" stop-color="#00a6ff"/><stop offset="0.208" stop-color="#00b7ff"/><stop offset="0.229" stop-color="#00d2ff"/><stop offset="0.25" stop-color="#00f3ff"/><stop offset="0.271" stop-color="#00ffe7"/><stop offset="0.292" stop-color="#00ffbf"/><stop offset="0.312" stop-color="#00ff95"/><stop offset="0.333" stop-color="#00ff6a"/><stop offset="0.354" stop-color="#00ff3f"/><stop offset="0.375" stop-color="#00ff17"/><stop offset="0.396" stop-color="#0eff00"/><stop offset="0.417" stop-color="#2eff00"/><stop offset="0.438" stop-color="#4fff00"/><stop offset="0.458" stop-color="#6fff00"/><stop offset="0.479" stop-color="#8dff00"/><stop offset="0.5" stop-color="#aaff00"/><stop offset="0.521" stop-color="#bcff00"/><stop offset="0.542" stop-color="#ccff00"/><stop offset="0.562" stop-color="#d0ff00"/><stop offset="0.583" stop-color="#bfff00"/><stop offset="0.604" stop-color="#acff00"/><stop offset="0.625" stop-color="#7fff00"/><stop offset="0.646" stop-color="#51ff00"/><stop offset="0.667" stop-color="#2eff00"/><stop offset="0.688" stop-color="#0eff00"/><stop offset="0.708" stop-color="#00ff1b"/><stop offset="0.729" stop-color="#00ff4c"/><stop offset="0.75" stop-color="#00ff7d"/><stop offset="0.771" stop-color="#00ffcf"/><stop offset="0.792" stop-color="#00e8ff"/><stop offset="0.812" stop-color="#00b3ff"/><stop offset="0.833" stop-color="#0090ff"/><stop offset="0.854" stop-color="#0075ff"/><stop offset="0.875" stop-color="#0064ff"/><stop offset="0.896" stop-color="#0053ff"/><stop offset="0.917" stop-color="#0049ff"/><stop offset="0.938" stop-color="#0040ff"/><stop offset="0.958" stop-color="#0036ff"/><stop offset="0.979" stop-color="#002cff"/><stop offset="1" stop-color="#0021ff"/></linearGradient><linearGradient id="g42" x1="0" y1="0" x2="0" y2="1"><stop offset="0" stop-color="#0060ff"/><stop offset="0.0208" stop-color="#0065ff"/><stop offset="0.0417" stop-color="#006aff"/><stop offset="0.0625" stop-color="#006fff"/><stop offset="0.0833" stop-color="#0073ff"/><stop offset="0.104" stop-color="#0078ff"/><stop offset="0.125" stop-color="#0080ff"/><stop offset="0.146" stop-color="#008aff"/><stop offset="0.167" stop-color="#0094ff"/><stop offset="0.188" stop-color="#00a0ff"/><stop offset="0.208" stop-color="#00b0ff"/><stop offset="0.229" stop-color="#00c8ff"/><stop offset="0.25" stop-color="#00e8ff"/><stop offset="0.271" stop-color="#00fff3"/><stop offset="0.292" stop-color="#00ffcc"/><stop offset="0.312" stop-color="#00ffa2"/><stop offset="0.333" stop-color="#00ff77"/><stop offset="0.354" stop-color="#00ff4c"/><stop offset="0.375" stop-color="#00ff24"/><stop offset="0.396" stop-color="#01ff00"/><stop offset="0.417" stop-color="#23ff00"/><stop offset="0.438" stop-color="#42ff00"/><stop offset="0.458" stop-color="#61ff00"/><stop offset="0.479" stop-color="#7cff00"/><stop offset="0.5" stop-color="#95ff00"/><stop offset="0.521" stop-color="#a5ff00"/><stop offset="0.542" stop-color="#b4ff00"/><stop offset="0.562" stop-color="#b8ff00"/><stop offset="0.583" stop-color="#a6ff00"/><stop offset="0.604" stop-color="#95ff00"/><stop offset="0.625" stop-color="#6cff00"/><stop offset="0.646" stop-color="#42ff00"/><stop offset="0.667" stop-color="#21ff00"/><stop offset="0.688" stop-color="#01ff00"/><stop offset="0.708" stop-color="#00ff28"/><stop offset="0.729" stop-color="#00ff56"/><stop offset="0.75" stop-color="#00ff89"/><stop offset="0.771" stop-color="#00ffd9"/><stop offset="0.792" stop-color="#00e2ff"/><stop offset="0.812" stop-color="#00afff"/><stop offset="0.833" stop-color="#008cff"/><stop offset="0.854" stop-color="#0073ff"/><stop offset="0.875" stop-color="#0062ff"/><stop offset="0.896" stop-color="#0051ff"/><stop offset="0.917" stop-color="#0048ff"/><stop offset="0.938" stop-color="#003eff"/><stop offset="0.958" stop-color="#0035ff"/><stop offset="0.979" stop-color="#002bff"/><stop offset="1" stop-color="#0021ff"/></linearGradient><linearGradient id="g43" x1="0" y1="0" x2="0" y2="1"><stop offset="0" stop-color="#005fff"/><stop offset="0.0208" stop-color="#0064ff"/><stop offset="0.0417" stop-color="#0069ff"/><stop offset="0.0625" stop-color="#006eff"/><stop offset="0.0833" stop-color="#0072ff"/><stop offset="0.104" stop-color="#0077ff"/><stop offset="0.125" stop-color="#007eff"/><stop offset="0.146" stop-color="#0087ff"/><stop offset="0.167" stop-color="#0091ff"/><stop offset="0.188" stop-color="#009dff"/><stop offset="0.208" stop-color="#00abff"/><stop offset="0.229" stop-color="#00c0ff"/><stop offset="0.25" stop-color="#00dfff"/><stop offset="0.271" stop-color="#00fffd"/><stop offset="0.292" stop-color="#00ffd7"/><stop offset="0.312" stop-color="#00ffae"/><stop offset="0.333" stop-color="#00ff83"/><stop offset="0.354" stop-color="#00ff59"/><stop offset="0.375" stop-color="#00ff32"/><stop offset="0.396" stop-color="#00ff0c"/><stop offset="0.417" stop-color="#17ff00"/><stop offset="0.438" stop-color="#33ff00"/><stop offset="0.458" stop-color="#4fff00"/><stop offset="0.479" stop-color="#68ff00"/><stop offset="0.5" stop-color="#7eff00"/><stop offset="0.521" stop-color="#8eff00"/><stop offset="0.542" stop-color="#9eff00"/><stop offset="0.562" stop-color="#a1ff00"/><stop offset="0.583" stop-color="#8eff00"/><stop offset="0.604" stop-color="#7bff00"/><stop offset="0.625" stop-color="#57ff00"/><stop offset="0.646" stop-color="#31ff00"/><stop offset="0.667" stop-color="#11ff00"/><stop offset="0.688" stop-color="#00ff11"/><stop offset="0.708" stop-color="#00ff38"/><stop offset="0.729" stop-color="#00ff62"/><stop offset="0.75" stop-color="#00ff98"/><stop offset="0.771" stop-color="#00ffe5"/><stop offset="0.792" stop-color="#00dbff"/><stop offset="0.812" stop-color="#00aaff"/><stop offset="0.833" stop-color="#0088ff"/><stop offset="0.854" stop-color="#0070ff"/><stop offset="0.875" stop-color="#005fff"/><stop offset="0.896" stop-color="#004fff"/><stop offset="0.917" stop-color="#0046ff"/><stop offset="0.938" stop-color="#003dff"/><stop offset="0.958" stop-color="#0034ff"/><stop offset="0.979" stop-color="#002aff"/><stop offset="1" stop-color="#0021ff"/></linearGradient><linearGradient id="g44" x1="0" y1="0" x2="0" y2="1"><stop offset="0" stop-color="#005eff"/><stop offset="0.0208" stop-color="#0063ff"/><stop offset="0.0417" stop-color="#0068ff"/><stop offset="0.0625" stop-color="#006cff"/><stop offset="0.0833" stop-color="#0071ff"/><stop offset="0.104" stop-color="#0076ff"/><stop offset="0.125" stop-color="#007bff"/><stop offset="0.146" stop-color="#0084ff"/><stop offset="0.167" stop-color="#008eff"/><stop offset="0.188" stop-color="#0099ff"/><stop offset="0.208" stop-color="#00a7ff"/><stop offset="0.229" stop-color="#00b9ff"/><stop offset="0.25" stop-color="#00d6ff"/><stop offset="0.271" stop-color="#00f7ff"/><stop offset="0.292" stop-color="#00ffe2"/><stop offset="0.312" stop-color="#00ffba"/><stop offset="0.333" stop-color="#00ff8f"/><stop offset="0.354" stop-color="#00ff66"/><stop offset="0.375" stop-color="#00ff40"/><stop offset="0.396" stop-color="#00ff19"/><stop offset="0.417" stop-color="#0bff00"/><stop offset="0.438" stop-color="#24ff00"/><stop offset="0.458" stop-color="#3dff00"/><stop offset="0.479" stop-color="#54ff00"/><stop offset="0.5" stop-color="#67ff00"/><stop offset="0.521" stop-color="#77ff00"/><stop offset="0.542" stop-color="#87ff00"/><stop offset="0.562" stop-color="#8aff00"/><stop offset="0.583" stop-color="#76ff00"/><stop offset="0.604" stop-color="#61ff00"/><stop offset="0.625" stop-color="#43ff00"/><stop offset="0.646" stop-color="#21ff00"/><stop offset="0.667" stop-color="#00ff00"/><stop offset="0.688" stop-color="#00ff23"/><stop offset="0.708" stop-color="#00ff47"/><stop offset="0.729" stop-color="#00ff6d"/><stop offset="0.75" stop-color="#00ffa7"/><stop offset="0.771" stop-color="#00fff1"/><stop offset="0.792" stop-color="#00d4ff"/><stop offset="0.812" stop-color="#00a5ff"/><stop offset="0.833" stop-color="#0083ff"/><stop offset="0.854" stop-color="#006eff"/><stop offset="0.875" stop-color="#005cff"/><stop offset="0.896" stop-color="#004cff"/><stop offset="0.917" stop-color="#0043ff"/><stop offset="0.938" stop-color="#003bff"/><stop offset="0.958" stop-color="#0032ff"/><stop offset="0.979" stop-color="#0029ff"/><stop offset="1" stop-color="#0021ff"/></linearGradient><linearGradient id="g45" x1="0" y1="0" x2="0" y2="1"><stop offset="0" stop-color="#005eff"/><stop offset="0.0208" stop-color="#0062ff"/><stop offset="0.0417" stop-color="#0067ff"/><stop offset="0.0625" stop-color="#006bff"/><stop offset="0.0833" stop-color="#0070ff"/><stop offset="0.104" stop-color="#0075ff"/><stop offset="0.125" stop-color="#0079ff"/><stop offset="0.146" stop-color="#0082ff"/><stop offset="0.167" stop-color="#008cff"/><stop offset="0.188" stop-color="#0095ff"/><stop offset="0.208" stop-color="#00a3ff"/><stop offset="0.229" stop-color="#00b2ff"/><stop offset="0.25" stop-color="#00ceff"/><stop offset="0.271" stop-color="#00eeff"/><stop offset="0.292" stop-color="#00ffec"/><stop offset="0.312" stop-color="#00ffc4"/><stop offset="0.333" stop-color="#00ff99"/><stop offset="0.354" stop-color="#00ff71"/><stop offset="0.375" stop-color="#00ff4b"/><stop offset="0.396" stop-color="#00ff25"/><stop offset="0.417" stop-color="#00ff02"/><stop offset="0.438" stop-color="#16ff00"/><stop offset="0.458" stop-color="#2cff00"/><stop offset="0.479" stop-color="#41ff00"/><stop offset="0.5" stop-color="#52ff00"/><stop offset="0.521" stop-color="#61ff00"/><stop offset="0.542" stop-color="#70ff00"/><stop offset="0.562" stop-color="#73ff00"/><stop offset="0.583" stop-color="#60ff00"/><stop offset="0.604" stop-color="#4bff00"/><stop offset="0.625" stop-color="#32ff00"/><stop offset="0.646" stop-color="#13ff00"/><stop offset="0.667" stop-color="#00ff0e"/><stop offset="0.688" stop-color="#00ff31"/><stop offset="0.708" stop-color="#00ff54"/><stop offset="0.729" stop-color="#00ff78"/><stop offset="0.75" stop-color="#00ffb4"/><stop offset="0.771" stop-color="#00fffb"/><stop offset="0.792" stop-color="#00ccff"/><stop offset="0.812" stop-color="#00a0ff"/><stop offset="0.833" stop-color="#007fff"/><stop offset="0.854" stop-color="#006bff"/><stop offset="0.875" stop-color="#005aff"/><stop offset="0.896" stop-color="#004bff"/><stop offset="0.917" stop-color="#0042ff"/><stop offset="0.938" stop-color="#0039ff"/><stop offset="0.958" stop-color="#0031ff"/><stop offset="0.979" stop-color="#0029ff"/><stop offset="1" stop-color="#0020ff"/></linearGradient><linearGradient id="g46" x1="0" y1="0" x2="0" y2="1"><stop offset="0" stop-color="#005dff"/><stop offset="0.0208" stop-color="#0061ff"/><stop offset="0.0417" stop-color="#0066ff"/><stop offset="0.0625" stop-color="#006bff"/><stop offset="0.0833" stop-color="#006fff"/><stop offset="0.104" stop-color="#0074ff"/><stop offset="0.125" stop-color="#0078ff"/><stop offset="0.146" stop-color="#0080ff"/><stop offset="0.167" stop-color="#0089ff"/><stop offset="0.188" stop-color="#0093ff"/><stop offset="0.208" stop-color="#009fff"/><stop offset="0.229" stop-color="#00afff"/><stop offset="0.25" stop-color="#00c7ff"/><stop offset="0.271" stop-color="#00e7ff"/><stop offset="0.292" stop-color="#00fff4"/><stop offset="0.312" stop-color="#00ffcc"/><stop offset="0.333" stop-color="#00ffa2"/><stop offset="0.354" stop-color="#00ff79"/><stop offset="0.375" stop-color="#00ff55"/><stop offset="0.396" stop-color="#00ff31"/><stop offset="0.417" stop-color="#00ff10"/><stop offset="0.438" stop-color="#08ff00"/><stop offset="0.458" stop-color="#1cff00"/><stop offset="0.479" stop-color="#2fff00"/><stop offset="0.5" stop-color="#3fff00"/><stop offset="0.521" stop-color="#4bff00"/><stop offset="0.542" stop-color="#57ff00"/><stop offset="0.562" stop-color="#5bff00"/><stop offset="0.583" stop-color="#4dff00"/><stop offset="0.604" stop-color="#3cff00"/><stop offset="0.625" stop-color="#25ff00"/><stop offset="0.646" stop-color="#0aff00"/><stop offset="0.667" stop-color="#00ff17"/><stop offset="0.688" stop-color="#00ff39"/><stop offset="0.708" stop-color="#00ff5b"/><stop offset="0.729" stop-color="#00ff82"/><stop offset="0.75" stop-color="#00ffc0"/><stop offset="0.771" stop-color="#00fbff"/><stop offset="0.792" stop-color="#00c5ff"/><stop offset="0.812" stop-color="#009bff"/><stop offset="0.833" stop-color="#007cff"/><stop offset="0.854" stop-color="#0069ff"/><stop offset="0.875" stop-color="#0057ff"/><stop offset="0.896" stop-color="#004aff"/><stop offset="0.917" stop-color="#0041ff"/><stop offset="0.938" stop-color="#0039ff"/><stop offset="0.958" stop-color="#0031ff"/><stop offset="0.979" stop-color="#0029ff"/><stop offset="1" stop-color="#0020ff"/></linearGradient><linearGradient id="g47" x1="0" y1="0" x2="0" y2="1"><stop offset="0" stop-color="#005cff"/><stop offset="0.0208" stop-color="#0061ff"/><stop offset="0.0417" stop-color="#0065ff"/><stop offset="0.0625" stop-color="#006aff"/><stop offset="0.0833" stop-color="#006eff"/><stop offset="0.104" stop-color="#0073ff"/><stop offset="0.125" stop-color="#0077ff"/><stop offset="0.146" stop-color="#007eff"/><stop offset="0.167" stop-color="#0087ff"/><stop offset="0.188" stop-color="#0090ff"/><stop offset="0.208" stop-color="#009bff"/><stop offset="0.229" stop-color="#00abff"/><stop offset="0.25" stop-color="#00c0ff"/><stop offset="0.271" stop-color="#00e1ff"/><stop offset="0.292" stop-color="#00fffc"/><stop offset="0.312" stop-color="#00ffd5"/><stop offset="0.333" stop-color="#00ffab"/><stop offset="0.354" stop-color="#00ff81"/><stop offset="0.375" stop-color="#00ff5e"/><stop offset="0.396" stop-color="#00ff3d"/><stop offset="0.417" stop-color="#00ff1e"/><stop offset="0.438" stop-color="#00ff05"/><stop offset="0.458" stop-color="#0cff00"/><stop offset="0.479" stop-color="#1dff00"/><stop offset="0.5" stop-color="#2dff00"/><stop offset="0.521" stop-color="#35ff00"/><stop offset="0.542" stop-color="#3eff00"/><stop offset="0.562" stop-color="#43ff00"/><stop offset="0.583" stop-color="#3aff00"/><stop offset="0.604" stop-color="#2cff00"/><stop offset="0.625" stop-color="#18ff00"/><stop offset="0.646" stop-color="#01ff00"/><stop offset="0.667" stop-color="#00ff20"/><stop offset="0.688" stop-color="#00ff42"/><stop offset="0.708" stop-color="#00ff63"/><stop offset="0.729" stop-color="#00ff8c"/><stop offset="0.75" stop-color="#00ffcc"/><stop offset="0.771" stop-color="#00f3ff"/><stop offset="0.792" stop-color="#00beff"/><stop offset="0.812" stop-color="#0096ff"/><stop offset="0.833" stop-color="#0078ff"/><stop offset="0.854" stop-color="#0066ff"/><stop offset="0.875" stop-color="#0055ff"/><stop offset="0.896" stop-color="#0049ff"/><stop offset="0.917" stop-color="#0041ff"/><stop offset="0.938" stop-color="#0039ff"/><stop offset="0.958" stop-color="#0031ff"/><stop offset="0.979" stop-color="#0029ff"/><stop offset="1" stop-color="#0020ff"/></linearGradient><linearGradient id="g48" x1="0" y1="0" x2="0" y2="1"><stop offset="0" stop-color="#005cff"/><stop offset="0.0208" stop-color="#0060ff"/><stop offset="0.0417" stop-color="#0064ff"/><stop offset="0.0625" stop-color="#0069ff"/><stop offset="0.0833" stop-color="#006dff"/><stop offset="0.104" stop-color="#0072ff"/><stop offset="0.125" stop-color="#0076ff"/><stop offset="0.146" stop-color="#007cff"/><stop offset="0.167" stop-color="#0085ff"/><stop offset="0.188" stop-color="#008eff"/><stop offset="0.208" stop-color="#0097ff"/><stop offset="0.229" stop-color="#00a7ff"/><stop offset="0.25" stop-color="#00baff"/><stop offset="0.271" stop-color="#00dbff"/><stop offset="0.292" stop-color="#00fbff"/><stop offset="0.312" stop-color="#00ffdc"/><stop offset="0.333" stop-color="#00ffb4"/><stop offset="0.354" stop-color="#00ff89"/><stop offset="0.375" stop-color="#00ff67"/><stop offset="0.396" stop-color="#00ff48"/><stop offset="0.417" stop-color="#00ff2b"/><stop offset="0.438" stop-color="#00ff12"/><stop offset="0.458" stop-color="#00ff03"/><stop offset="0.479" stop-color="#0cff00"/><stop offset="0.5" stop-color="#1cff00"/><stop offset="0.521" stop-color="#22ff00"/><stop offset="0.542" stop-color="#28ff00"/><stop offset="0.562" stop-color="#2eff00"/><stop offset="0.583" stop-color="#28ff00"/><stop offset="0.604" stop-color="#1cff00"/><stop offset="0.625" stop-color="#0cff00"/><stop offset="0.646" stop-color="#00ff08"/><stop offset="0.667" stop-color="#00ff29"/><stop offset="0.688" stop-color="#00ff49"/><stop offset="0.708" stop-color="#00ff6a"/><stop offset="0.729" stop-color="#00ff96"/><stop offset="0.75" stop-color="#00ffd6"/><stop offset="0.771" stop-color="#00ecff"/><stop offset="0.792" stop-color="#00b7ff"/><stop offset="0.812" stop-color="#0092ff"/><stop offset="0.833" stop-color="#0076ff"/><stop offset="0.854" stop-color="#0064ff"/><stop offset="0.875" stop-color="#0053ff"/><stop offset="0.896" stop-color="#0048ff"/><stop offset="0.917" stop-color="#0040ff"/><stop offset="0.938" stop-color="#0038ff"/><stop offset="0.958" stop-color="#0031ff"/><stop offset="0.979" stop-color="#0029ff"/><stop offset="1" stop-color="#0020ff"/></linearGradient><linearGradient id="g49" x1="0" y1="0" x2="0" y2="1"><stop offset="0" stop-color="#005bff"/><stop offset="0.0208" stop-color="#005fff"/><stop offset="0.0417" stop-color="#0063ff"/><stop offset="0.0625" stop-color="#0068ff"/><stop offset="0.0833" stop-color="#006cff"/><stop offset="0.104" stop-color="#0070ff"/><stop offset="0.125" stop-color="#0074ff"/><stop offset="0.146" stop-color="#0079ff"/><stop offset="0.167" stop-color="#0082ff"/><stop offset="0.188" stop-color="#008aff"/><stop offset="0.208" stop-color="#0093ff"/><stop offset="0.229" stop-color="#00a2ff"/><stop offset="0.25" stop-color="#00b7ff"/><stop offset="0.271" stop-color="#00d7ff"/><stop offset="0.292" stop-color="#00f7ff"/><stop offset="0.312" stop-color="#00ffe2"/><stop offset="0.333" stop-color="#00ffbb"/><stop offset="0.354" stop-color="#00ff92"/><stop offset="0.375" stop-color="#00ff71"/><stop offset="0.396" stop-color="#00ff51"/><stop offset="0.417" stop-color="#00ff36"/><stop offset="0.438" stop-color="#00ff1d"/><stop offset="0.458" stop-color="#00ff0e"/><stop offset="0.479" stop-color="#00ff00"/><stop offset="0.5" stop-color="#0fff00"/><stop offset="0.521" stop-color="#14ff00"/><stop offset="0.542" stop-color="#1aff00"/><stop offset="0.562" stop-color="#20ff00"/><stop offset="0.583" stop-color="#1aff00"/><stop offset="0.604" stop-color="#0fff00"/><stop offset="0.625" stop-color="#00ff00"/><stop offset="0.646" stop-color="#00ff14"/><stop offset="0.667" stop-color="#00ff32"/><stop offset="0.688" stop-color="#00ff50"/><stop offset="0.708" stop-color="#00ff70"/><stop offset="0.729" stop-color="#00ff9e"/><stop offset="0.75" stop-color="#00ffdd"/><stop offset="0.771" stop-color="#00e8ff"/><stop offset="0.792" stop-color="#00b4ff"/><stop offset="0.812" stop-color="#0090ff"/><stop offset="0.833" stop-color="#0074ff"/><stop offset="0.854" stop-color="#0063ff"/><stop offset="0.875" stop-color="#0052ff"/><stop offset="0.896" stop-color="#0047ff"/><stop offset="0.917" stop-color="#0040ff"/><stop offset="0.938" stop-color="#0038ff"/><stop offset="0.958" stop-color="#0031ff"/><stop offset="0.979" stop-color="#0029ff"/><stop offset="1" stop-color="#0020ff"/></linearGradient><linearGradient id="g50" x1="0" y1="0" x2="0" y2="1"><stop offset="0" stop-color="#005aff"/><stop offset="0.0208" stop-color="#005eff"/><stop offset="0.0417" stop-color="#0062ff"/><stop offset="0.0625" stop-color="#0066ff"/><stop offset="0.0833" stop-color="#006aff"/><stop offset="0.104" stop-color="#006fff"/><stop offset="0.125" stop-color="#0073ff"/><stop offset="0.146" stop-color="#0077ff"/><stop offset="0.167" stop-color="#007fff"/><stop offset="0.188" stop-color="#0087ff"/><stop offset="0.208" stop-color="#008fff"/><stop offset="0.229" stop-color="#009eff"/><stop offset="0.25" stop-color="#00b3ff"/><stop offset="0.271" stop-color="#00d3ff"/><stop offset="0.292" stop-color="#00f3ff"/><stop offset="0.312" stop-color="#00ffe7"/><stop offset="0.333" stop-color="#00ffc2"/><stop offset="0.354" stop-color="#00ff9b"/><stop offset="0.375" stop-color="#00ff7a"/><stop offset="0.396" stop-color="#00ff5b"/><stop offset="0.417" stop-color="#00ff40"/><stop offset="0.438" stop-color="#00ff28"/><stop offset="0.458" stop-color="#00ff1a"/><stop offset="0.479" stop-color="#00ff0c"/><stop offset="0.5" stop-color="#02ff00"/><stop offset="0.521" stop-color="#07ff00"/><stop offset="0.542" stop-color="#0cff00"/><stop offset="0.562" stop-color="#11ff00"/><stop offset="0.583" stop-color="#0cff00"/><stop offset="0.604" stop-color="#01ff00"/><stop offset="0.625" stop-color="#00ff0c"/><stop offset="0.646" stop-color="#00ff20"/><stop offset="0.667" stop-color="#00ff3b"/><stop offset="0.688" stop-color="#00ff57"/><stop offset="0.708" stop-color="#00ff75"/><stop offset="0.729" stop-color="#00ffa5"/><stop offset="0.75" stop-color="#00ffe3"/><stop offset="0.771" stop-color="#00e3ff"/><stop offset="0.792" stop-color="#00b2ff"/><stop offset="0.812" stop-color="#008eff"/><stop offset="0.833" stop-color="#0073ff"/><stop offset="0.854" stop-color="#0062ff"/><stop offset="0.875" stop-color="#0051ff"/><stop offset="0.896" stop-color="#0047ff"/><stop offset="0.917" stop-color="#003fff"/><stop offset="0.938" stop-color="#0038ff"/><stop offset="0.958" stop-color="#0030ff"/><stop offset="0.979" stop-color="#0029ff"/><stop offset="1" stop-color="#0020ff"/></linearGradient><linearGradient id="g51" x1="0" y1="0" x2="0" y2="1"><stop offset="0" stop-color="#0059ff"/><stop offset="0.0208" stop-color="#005dff"/><stop offset="0.0417" stop-color="#0061ff"/><stop offset="0.0625" stop-color="#0065ff"/><stop offset="0.0833" stop-color="#0069ff"/><stop offset="0.104" stop-color="#006dff"/><stop offset="0.125" stop-color="#0071ff"/><stop offset="0.146" stop-color="#0075ff"/><stop offset="0.167" stop-color="#007cff"/><stop offset="0.188" stop-color="#0084ff"/><stop offset="0.208" stop-color="#008cff"/><stop offset="0.229" stop-color="#0099ff"/><stop offset="0.25" stop-color="#00b0ff"/><stop offset="0.271" stop-color="#00cfff"/><stop offset="0.292" stop-color="#00eeff"/><stop offset="0.312" stop-color="#00ffed"/><stop offset="0.333" stop-color="#00ffc9"/><stop offset="0.354" stop-color="#00ffa4"/><stop offset="0.375" stop-color="#00ff84"/><stop offset="0.396" stop-color="#00ff65"/><stop offset="0.417" stop-color="#00ff4b"/><stop offset="0.438" stop-color="#00ff33"/><stop offset="0.458" stop-color="#00ff25"/><stop offset="0.479" stop-color="#00ff18"/><stop offset="0.5" stop-color="#00ff0b"/><stop offset="0.521" stop-color="#00ff06"/><stop offset="0.542" stop-color="#00ff02"/><stop offset="0.562" stop-color="#03ff00"/><stop offset="0.583" stop-color="#00ff02"/><stop offset="0.604" stop-color="#00ff0c"/><stop offset="0.625" stop-color="#00ff18"/><stop offset="0.646" stop-color="#00ff2b"/><stop offset="0.667" stop-color="#00ff44"/><stop offset="0.688" stop-color="#00ff5d"/><stop offset="0.708" stop-color="#00ff7a"/><stop offset="0.729" stop-color="#00ffad"/><stop offset="0.75" stop-color="#00ffea"/><stop offset="0.771" stop-color="#00dfff"/><stop offset="0.792" stop-color="#00afff"/><stop offset="0.812" stop-color="#008cff"/><stop offset="0.833" stop-color="#0072ff"/><stop offset="0.854" stop-color="#0061ff"/><stop offset="0.875" stop-color="#0050ff"/><stop offset="0.896" stop-color="#0046ff"/><stop offset="0.917" stop-color="#003fff"/><stop offset="0.938" stop-color="#0038ff"/><stop offset="0.958" stop-color="#0030ff"/><stop offset="0.979" stop-color="#0029ff"/><stop offset="1" stop-color="#0020ff"/></linearGradient><linearGradient id="g52" x1="0" y1="0" x2="0" y2="1"><stop offset="0" stop-color="#0058ff"/><stop offset="0.0208" stop-color="#005cff"/><stop offset="0.0417" stop-color="#0060ff"/><stop offset="0.0625" stop-color="#0064ff"/><stop offset="0.0833" stop-color="#0067ff"/><stop offset="0.104" stop-color="#006bff"/><stop offset="0.125" stop-color="#006fff"/><stop offset="0.146" stop-color="#0073ff"/><stop offset="0.167" stop-color="#0079ff"/><stop offset="0.188" stop-color="#0081ff"/><stop offset="0.208" stop-color="#0088ff"/><stop offset="0.229" stop-color="#0094ff"/><stop offset="0.25" stop-color="#00acff"/><stop offset="0.271" stop-color="#00cbff"/><stop offset="0.292" stop-color="#00eaff"/><stop offset="0.312" stop-color="#00fff2"/><stop offset="0.333" stop-color="#00ffd0"/><stop offset="0.354" stop-color="#00ffad"/><stop offset="0.375" stop-color="#00ff8d"/><stop offset="0.396" stop-color="#00ff6e"/><stop offset="0.417" stop-color="#00ff55"/><stop offset="0.438" stop-color="#00ff3e"/><stop offset="0.458" stop-color="#00ff30"/><stop offset="0.479" stop-color="#00ff24"/><stop offset="0.5" stop-color="#00ff18"/><stop offset="0.521" stop-color="#00ff13"/><stop offset="0.542" stop-color="#00ff0f"/><stop offset="0.562" stop-color="#00ff0b"/><stop offset="0.583" stop-color="#00ff10"/><stop offset="0.604" stop-color="#00ff19"/><stop offset="0.625" stop-color="#00ff24"/><stop offset="0.646" stop-color="#00ff37"/><stop offset="0.667" stop-color="#00ff4d"/><stop offset="0.688" stop-color="#00ff64"/><stop offset="0.708" stop-color="#00ff80"/><stop offset="0.729" stop-color="#00ffb5"/><stop offset="0.75" stop-color="#00fff1"/><stop offset="0.771" stop-color="#00daff"/><stop offset="0.792" stop-color="#00acff"/><stop offset="0.812" stop-color="#0089ff"/><stop offset="0.833" stop-color="#0071ff"/><stop offset="0.854" stop-color="#005fff"/><stop offset="0.875" stop-color="#004eff"/><stop offset="0.896" stop-color="#0046ff"/><stop offset="0.917" stop-color="#003fff"/><stop offset="0.938" stop-color="#0038ff"/><stop offset="0.958" stop-color="#0030ff"/><stop offset="0.979" stop-color="#0029ff"/><stop offset="1" stop-color="#0020ff"/></linearGradient><linearGradient id="g53" x1="0" y1="0" x2="0" y2="1"><stop offset="0" stop-color="#0058ff"/><stop offset="0.0208" stop-color="#005bff"/><stop offset="0.0417" stop-color="#005fff"/><stop offset="0.0625" stop-color="#0062ff"/><stop offset="0.0833" stop-color="#0066ff"/><stop offset="0.104" stop-color="#006aff"/><stop offset="0.125" stop-color="#006dff"/><stop offset="0.146" stop-color="#0071ff"/><stop offset="0.167" stop-color="#0077ff"/><stop offset="0.188" stop-color="#007dff"/><stop offset="0.208" stop-color="#0084ff"/><stop offset="0.229" stop-color="#0090ff"/><stop offset="0.25" stop-color="#00a9ff"/><stop offset="0.271" stop-color="#00c7ff"/><stop offset="0.292" stop-color="#00e6ff"/><stop offset="0.312" stop-color="#00fff8"/><stop offset="0.333" stop-color="#00ffd7"/><stop offset="0.354" stop-color="#00ffb6"/><stop offset="0.375" stop-color="#00ff97"/><stop offset="0.396" stop-color="#00ff78"/><stop offset="0.417" stop-color="#00ff60"/><stop offset="0.438" stop-color="#00ff48"/><stop offset="0.458" stop-color="#00ff3c"/><stop offset="0.479" stop-color="#00ff30"/><stop offset="0.5" stop-color="#00ff24"/><stop offset="0.521" stop-color="#00ff21"/><stop offset="0.542" stop-color="#00ff1d"/><stop offset="0.562" stop-color="#00ff1a"/><stop offset="0.583" stop-color="#00ff1e"/><stop offset="0.604" stop-color="#00ff27"/><stop offset="0.625" stop-color="#00ff30"/><stop offset="0.646" stop-color="#00ff42"/><stop offset="0.667" stop-color="#00ff56"/><stop offset="0.688" stop-color="#00ff6a"/><stop offset="0.708" stop-color="#00ff85"/><stop offset="0.729" stop-color="#00ffbc"/><stop offset="0.75" stop-color="#00fff7"/><stop offset="0.771" stop-color="#00d6ff"/><stop offset="0.792" stop-color="#00a9ff"/><stop offset="0.812" stop-color="#0087ff"/><stop offset="0.833" stop-color="#0070ff"/><stop offset="0.854" stop-color="#005eff"/><stop offset="0.875" stop-color="#004dff"/><stop offset="0.896" stop-color="#0046ff"/><stop offset="0.917" stop-color="#003fff"/><stop offset="0.938" stop-color="#0037ff"/><stop offset="0.958" stop-color="#0030ff"/><stop offset="0.979" stop-color="#0029ff"/><stop offset="1" stop-color="#0020ff"/></linearGradient><linearGradient id="g54" x1="0" y1="0" x2="0" y2="1"><stop offset="0" stop-color="#0057ff"/><stop offset="0.0208" stop-color="#005aff"/><stop offset="0.0417" stop-color="#005eff"/><stop offset="0.0625" stop-color="#0061ff"/><stop offset="0.0833" stop-color="#0065ff"/><stop offset="0.104" stop-color="#0068ff"/><stop offset="0.125" stop-color="#006bff"/><stop offset="0.146" stop-color="#006fff"/><stop offset="0.167" stop-color="#0074ff"/><stop offset="0.188" stop-color="#007aff"/><stop offset="0.208" stop-color="#0080ff"/><stop offset="0.229" stop-color="#008bff"/><stop offset="0.25" stop-color="#00a5ff"/><stop offset="0.271" stop-color="#00c3ff"/><stop offset="0.292" stop-color="#00e2ff"/><stop offset="0.312" stop-color="#00fffd"/><stop offset="0.333" stop-color="#00ffde"/><stop offset="0.354" stop-color="#00ffbf"/><stop offset="0.375" stop-color="#00ffa0"/><stop offset="0.396" stop-color="#00ff82"/><stop offset="0.417" stop-color="#00ff6a"/><stop offset="0.438" stop-color="#00ff53"/><stop offset="0.458" stop-color="#00ff47"/><stop offset="0.479" stop-color="#00ff3c"/><stop offset="0.5" stop-color="#00ff31"/><stop offset="0.521" stop-color="#00ff2e"/><stop offset="0.542" stop-color="#00ff2b"/><stop offset="0.562" stop-color="#00ff28"/><stop offset="0.583" stop-color="#00ff2c"/><stop offset="0.604" stop-color="#00ff34"/><stop offset="0.625" stop-color="#00ff3c"/><stop offset="0.646" stop-color="#00ff4e"/><stop offset="0.667" stop-color="#00ff5f"/><stop offset="0.688" stop-color="#00ff71"/><stop offset="0.708" stop-color="#00ff8a"/><stop offset="0.729" stop-color="#00ffc4"/><stop offset="0.75" stop-color="#00fffe"/><stop offset="0.771" stop-color="#00d1ff"/><stop offset="0.792" stop-color="#00a6ff"/><stop offset="0.812" stop-color="#0085ff"/><stop offset="0.833" stop-color="#006eff"/><stop offset="0.854" stop-color="#005dff"/><stop offset="0.875" stop-color="#004cff"/><stop offset="0.896" stop-color="#0045ff"/><stop offset="0.917" stop-color="#003eff"/><stop offset="0.938" stop-color="#0037ff"/><stop offset="0.958" stop-color="#0030ff"/><stop offset="0.979" stop-color="#0029ff"/><stop offset="1" stop-color="#0020ff"/></linearGradient><linearGradient id="g55" x1="0" y1="0" x2="0" y2="1"><stop offset="0" stop-color="#0056ff"/><stop offset="0.0208" stop-color="#0059ff"/><stop offset="0.0417" stop-color="#005cff"/><stop offset="0.0625" stop-color="#005fff"/><stop offset="0.0833" stop-color="#0062ff"/><stop offset="0.104" stop-color="#0066ff"/><stop offset="0.125" stop-color="#0069ff"/><stop offset="0.146" stop-color="#006cff"/><stop offset="0.167" stop-color="#0071ff"/><stop offset="0.188" stop-color="#0078ff"/><stop offset="0.208" stop-color="#007eff"/><stop offset="0.229" stop-color="#0088ff"/><stop offset="0.25" stop-color="#00a3ff"/><stop offset="0.271" stop-color="#00c1ff"/><stop offset="0.292" stop-color="#00dfff"/><stop offset="0.312" stop-color="#00fdff"/><stop offset="0.333" stop-color="#00ffe4"/><stop offset="0.354" stop-color="#00ffc6"/><stop offset="0.375" stop-color="#00ffa8"/><stop offset="0.396" stop-color="#00ff8b"/><stop offset="0.417" stop-color="#00ff73"/><stop offset="0.438" stop-color="#00ff5c"/><stop offset="0.458" stop-color="#00ff4d"/><stop offset="0.479" stop-color="#00ff43"/><stop offset="0.5" stop-color="#00ff39"/><stop offset="0.521" stop-color="#00ff35"/><stop offset="0.542" stop-color="#00ff32"/><stop offset="0.562" stop-color="#00ff2f"/><stop offset="0.583" stop-color="#00ff34"/><stop offset="0.604" stop-color="#00ff3b"/><stop offset="0.625" stop-color="#00ff44"/><stop offset="0.646" stop-color="#00ff54"/><stop offset="0.667" stop-color="#00ff64"/><stop offset="0.688" stop-color="#00ff74"/><stop offset="0.708" stop-color="#00ff91"/><stop offset="0.729" stop-color="#00ffca"/><stop offset="0.75" stop-color="#00fcff"/><stop offset="0.771" stop-color="#00ceff"/><stop offset="0.792" stop-color="#00a4ff"/><stop offset="0.812" stop-color="#0082ff"/><stop offset="0.833" stop-color="#006dff"/><stop offset="0.854" stop-color="#005cff"/><stop offset="0.875" stop-color="#004cff"/><stop offset="0.896" stop-color="#0045ff"/><stop offset="0.917" stop-color="#003eff"/><stop offset="0.938" stop-color="#0037ff"/><stop offset="0.958" stop-color="#0030ff"/><stop offset="0.979" stop-color="#0029ff"/><stop offset="1" stop-color="#0020ff"/></linearGradient><linearGradient id="g56" x1="0" y1="0" x2="0" y2="1"><stop offset="0" stop-color="#0055ff"/><stop offset="0.0208" stop-color="#0058ff"/><stop offset="0.0417" stop-color="#005bff"/><stop offset="0.0625" stop-color="#005dff"/><stop offset="0.0833" stop-color="#0060ff"/><stop offset="0.104" stop-color="#0063ff"/><stop offset="0.125" stop-color="#0066ff"/><stop offset="0.146" stop-color="#0069ff"/><stop offset="0.167" stop-color="#006eff"/><stop offset="0.188" stop-color="#0075ff"/><stop offset="0.208" stop-color="#007dff"/><stop offset="0.229" stop-color="#0086ff"/><stop offset="0.25" stop-color="#00a1ff"/><stop offset="0.271" stop-color="#00c0ff"/><stop offset="0.292" stop-color="#00dcff"/><stop offset="0.312" stop-color="#00f9ff"/><stop offset="0.333" stop-color="#00ffe9"/><stop offset="0.354" stop-color="#00ffcd"/><stop offset="0.375" stop-color="#00ffb0"/><stop offset="0.396" stop-color="#00ff94"/><stop offset="0.417" stop-color="#00ff7b"/><stop offset="0.438" stop-color="#00ff64"/><stop offset="0.458" stop-color="#00ff53"/><stop offset="0.479" stop-color="#00ff49"/><stop offset="0.5" stop-color="#00ff3f"/><stop offset="0.521" stop-color="#00ff3c"/><stop offset="0.542" stop-color="#00ff39"/><stop offset="0.562" stop-color="#00ff36"/><stop offset="0.583" stop-color="#00ff3a"/><stop offset="0.604" stop-color="#00ff42"/><stop offset="0.625" stop-color="#00ff4a"/><stop offset="0.646" stop-color="#00ff59"/><stop offset="0.667" stop-color="#00ff68"/><stop offset="0.688" stop-color="#00ff77"/><stop offset="0.708" stop-color="#00ff98"/><stop offset="0.729" stop-color="#00ffcf"/><stop offset="0.75" stop-color="#00f9ff"/><stop offset="0.771" stop-color="#00cbff"/><stop offset="0.792" stop-color="#00a1ff"/><stop offset="0.812" stop-color="#0080ff"/><stop offset="0.833" stop-color="#006cff"/><stop offset="0.854" stop-color="#005bff"/><stop offset="0.875" stop-color="#004bff"/><stop offset="0.896" stop-color="#0045ff"/><stop offset="0.917" stop-color="#003eff"/><stop offset="0.938" stop-color="#0037ff"/><stop offset="0.958" stop-color="#0030ff"/><stop offset="0.979" stop-color="#0029ff"/><stop offset="1" stop-color="#0020ff"/></linearGradient><linearGradient id="g57" x1="0" y1="0" x2="0" y2="1"><stop offset="0" stop-color="#0054ff"/><stop offset="0.0208" stop-color="#0057ff"/><stop offset="0.0417" stop-color="#0059ff"/><stop offset="0.0625" stop-color="#005cff"/><stop offset="0.0833" stop-color="#005eff"/><stop offset="0.104" stop-color="#0061ff"/><stop offset="0.125" stop-color="#0063ff"/><stop offset="0.146" stop-color="#0066ff"/><stop offset="0.167" stop-color="#006bff"/><stop offset="0.188" stop-color="#0073ff"/><stop offset="0.208" stop-color="#007bff"/><stop offset="0.229" stop-color="#0083ff"/><stop offset="0.25" stop-color="#009fff"/><stop offset="0.271" stop-color="#00beff"/><stop offset="0.292" stop-color="#00daff"/><stop offset="0.312" stop-color="#00f5ff"/><stop offset="0.333" stop-color="#00ffee"/><stop offset="0.354" stop-color="#00ffd4"/><stop offset="0.375" stop-color="#00ffb9"/><stop offset="0.396" stop-color="#00ff9c"/><stop offset="0.417" stop-color="#00ff83"/><stop offset="0.438" stop-color="#00ff6c"/><stop offset="0.458" stop-color="#00ff58"/><stop offset="0.479" stop-color="#00ff4f"/><stop offset="0.5" stop-color="#00ff45"/><stop offset="0.521" stop-color="#00ff42"/><stop offset="0.542" stop-color="#00ff3f"/><stop offset="0.562" stop-color="#00ff3c"/><stop offset="0.583" stop-color="#00ff41"/><stop offset="0.604" stop-color="#00ff48"/><stop offset="0.625" stop-color="#00ff50"/><stop offset="0.646" stop-color="#00ff5e"/><stop offset="0.667" stop-color="#00ff6c"/><stop offset="0.688" stop-color="#00ff7a"/><stop offset="0.708" stop-color="#00ff9f"/><stop offset="0.729" stop-color="#00ffd4"/><stop offset="0.75" stop-color="#00f6ff"/><stop offset="0.771" stop-color="#00c8ff"/><stop offset="0.792" stop-color="#009fff"/><stop offset="0.812" stop-color="#007eff"/><stop offset="0.833" stop-color="#006bff"/><stop offset="0.854" stop-color="#0059ff"/><stop offset="0.875" stop-color="#004bff"/><stop offset="0.896" stop-color="#0044ff"/><stop offset="0.917" stop-color="#003eff"/><stop offset="0.938" stop-color="#0037ff"/><stop offset="0.958" stop-color="#0030ff"/><stop offset="0.979" stop-color="#0029ff"/><stop offset="1" stop-color="#0020ff"/></linearGradient><linearGradient id="g58" x1="0" y1="0" x2="0" y2="1"><stop offset="0" stop-color="#0055ff"/><stop offset="0.0208" stop-color="#0058ff"/><stop offset="0.0417" stop-color="#005bff"/><stop offset="0.0625" stop-color="#005dff"/><stop offset="0.0833" stop-color="#0060ff"/><stop offset="0.104" stop-color="#0063ff"/><stop offset="0.125" stop-color="#0066ff"/><stop offset="0.146" stop-color="#0069ff"/><stop offset="0.167" stop-color="#006eff"/><stop offset="0.188" stop-color="#0075ff"/><stop offset="0.208" stop-color="#007dff"/><stop offset="0.229" stop-color="#0086ff"/><stop offset="0.25" stop-color="#00a1ff"/><stop offset="0.271" stop-color="#00c0ff"/><stop offset="0.292" stop-color="#00dcff"/><stop offset="0.312" stop-color="#00f9ff"/><stop offset="0.333" stop-color="#00ffe9"/><stop offset="0.354" stop-color="#00ffcd"/><stop offset="0.375" stop-color="#00ffb1"/><stop offset="0.396" stop-color="#00ff94"/><stop offset="0.417" stop-color="#00ff7b"/><stop offset="0.438" stop-color="#00ff64"/><stop offset="0.458" stop-color="#00ff53"/><stop offset="0.479" stop-color="#00ff49"/><stop offset="0.5" stop-color="#00ff3f"/><stop offset="0.521" stop-color="#00ff3c"/><stop offset="0.542" stop-color="#00ff39"/><stop offset="0.562" stop-color="#00ff36"/><stop offset="0.583" stop-color="#00ff3a"/><stop offset="0.604" stop-color="#00ff42"/><stop offset="0.625" stop-color="#00ff4a"/><stop offset="0.646" stop-color="#00ff59"/><stop offset="0.667" stop-color="#00ff68"/><stop offset="0.688" stop-color="#00ff77"/><stop offset="0.708" stop-color="#00ff98"/><stop offset="0.729" stop-color="#00ffcf"/><stop offset="0.75" stop-color="#00f9ff"/><stop offset="0.771" stop-color="#00cbff"/><stop offset="0.792" stop-color="#00a1ff"/><stop offset="0.812" stop-color="#0080ff"/><stop offset="0.833" stop-color="#006cff"/><stop offset="0.854" stop-color="#005bff"/><stop offset="0.875" stop-color="#004bff"/><stop offset="0.896" stop-color="#0045ff"/><stop offset="0.917" stop-color="#003eff"/><stop offset="0.938" stop-color="#0037ff"/><stop offset="0.958" stop-color="#0030ff"/><stop offset="0.979" stop-color="#0029ff"/><stop offset="1" stop-color="#0020ff"/></linearGradient><linearGradient id="g59" x1="0" y1="0" x2="0" y2="1"><stop offset="0" stop-color="#0056ff"/><stop offset="0.0208" stop-color="#0059ff"/><stop offset="0.0417" stop-color="#005cff"/><stop offset="0.0625" stop-color="#005fff"/><stop offset="0.0833" stop-color="#0062ff"/><stop offset="0.104" stop-color="#0066ff"/><stop offset="0.125" stop-color="#0069ff"/><stop offset="0.146" stop-color="#006cff"/><stop offset="0.167" stop-color="#0071ff"/><stop offset="0.188" stop-color="#0078ff"/><stop offset="0.208" stop-color="#007eff"/><stop offset="0.229" stop-color="#0088ff"/><stop offset="0.25" stop-color="#00a3ff"/><stop offset="0.271" stop-color="#00c1ff"/><stop offset="0.292" stop-color="#00dfff"/><stop offset="0.312" stop-color="#00fdff"/><stop offset="0.333" stop-color="#00ffe4"/><stop offset="0.354" stop-color="#00ffc6"/><stop offset="0.375" stop-color="#00ffa9"/><stop offset="0.396" stop-color="#00ff8b"/><stop offset="0.417" stop-color="#00ff73"/><stop offset="0.438" stop-color="#00ff5c"/><stop offset="0.458" stop-color="#00ff4d"/><stop offset="0.479" stop-color="#00ff43"/><stop offset="0.5" stop-color="#00ff39"/><stop offset="0.521" stop-color="#00ff36"/><stop offset="0.542" stop-color="#00ff32"/><stop offset="0.562" stop-color="#00ff2f"/><stop offset="0.583" stop-color="#00ff34"/><stop offset="0.604" stop-color="#00ff3b"/><stop offset="0.625" stop-color="#00ff44"/><stop offset="0.646" stop-color="#00ff54"/><stop offset="0.667" stop-color="#00ff64"/><stop offset="0.688" stop-color="#00ff74"/><stop offset="0.708" stop-color="#00ff91"/><stop offset="0.729" stop-color="#00ffca"/><stop offset="0.75" stop-color="#00fcff"/><stop offset="0.771" stop-color="#00ceff"/><stop offset="0.792" stop-color="#00a4ff"/><stop offset="0.812" stop-color="#0082ff"/><stop offset="0.833" stop-color="#006dff"/><stop offset="0.854" stop-color="#005cff"/><stop offset="0.875" stop-color="#004cff"/><stop offset="0.896" stop-color="#0045ff"/><stop offset="0.917" stop-color="#003eff"/><stop offset="0.938" stop-color="#0037ff"/><stop offset="0.958" stop-color="#0030ff"/><stop offset="0.979" stop-color="#0029ff"/><stop offset="1" stop-color="#0020ff"/></linearGradient><linearGradient id="g60" x1="0" y1="0" x2="0" y2="1"><stop offset="0" stop-color="#0057ff"/><stop offset="0.0208" stop-color="#005aff"/><stop offset="0.0417" stop-color="#005eff"/><stop offset="0.0625" stop-color="#0061ff"/><stop offset="0.0833" stop-color="#0065ff"/><stop offset="0.104" stop-color="#0068ff"/><stop offset="0.125" stop-color="#006bff"/><stop offset="0.146" stop-color="#006fff"/><stop offset="0.167" stop-color="#0074ff"/><stop offset="0.188" stop-color="#007aff"/><stop offset="0.208" stop-color="#0080ff"/><stop offset="0.229" stop-color="#008bff"/><stop offset="0.25" stop-color="#00a5ff"/><stop offset="0.271" stop-color="#00c3ff"/><stop offset="0.292" stop-color="#00e2ff"/><stop offset="0.312" stop-color="#00fffd"/><stop offset="0.333" stop-color="#00ffde"/><stop offset="0.354" stop-color="#00ffbf"/><stop offset="0.375" stop-color="#00ffa0"/><stop offset="0.396" stop-color="#00ff82"/><stop offset="0.417" stop-color="#00ff6b"/><stop offset="0.438" stop-color="#00ff53"/><stop offset="0.458" stop-color="#00ff47"/><stop offset="0.479" stop-color="#00ff3c"/><stop offset="0.5" stop-color="#00ff31"/><stop offset="0.521" stop-color="#00ff2e"/><stop offset="0.542" stop-color="#00ff2b"/><stop offset="0.562" stop-color="#00ff28"/><stop offset="0.583" stop-color="#00ff2c"/><stop offset="0.604" stop-color="#00ff34"/><stop offset="0.625" stop-color="#00ff3d"/><stop offset="0.646" stop-color="#00ff4e"/><stop offset="0.667" stop-color="#00ff5f"/><stop offset="0.688" stop-color="#00ff71"/><stop offset="0.708" stop-color="#00ff8b"/><stop offset="0.729" stop-color="#00ffc4"/><stop offset="0.75" stop-color="#00fffe"/><stop offset="0.771" stop-color="#00d1ff"/><stop offset="0.792" stop-color="#00a6ff"/><stop offset="0.812" stop-color="#0085ff"/><stop offset="0.833" stop-color="#006eff"/><stop offset="0.854" stop-color="#005dff"/><stop offset="0.875" stop-color="#004cff"/><stop offset="0.896" stop-color="#0045ff"/><stop offset="0.917" stop-color="#003eff"/><stop offset="0.938" stop-color="#0037ff"/><stop offset="0.958" stop-color="#0030ff"/><stop offset="0.979" stop-color="#0029ff"/><stop offset="1" stop-color="#0020ff"/></linearGradient><linearGradient id="g61" x1="0" y1="0" x2="0" y2="1"><stop offset="0" stop-color="#0058ff"/><stop offset="0.0208" stop-color="#005bff"/><stop offset="0.0417" stop-color="#005fff"/><stop offset="0.0625" stop-color="#0062ff"/><stop offset="0.0833" stop-color="#0066ff"/><stop offset="0.104" stop-color="#006aff"/><stop offset="0.125" stop-color="#006dff"/><stop offset="0.146" stop-color="#0071ff"/><stop offset="0.167" stop-color="#0077ff"/><stop offset="0.188" stop-color="#007dff"/><stop offset="0.208" stop-color="#0084ff"/><stop offset="0.229" stop-color="#008fff"/><stop offset="0.25" stop-color="#00a9ff"/><stop offset="0.271" stop-color="#00c7ff"/><stop offset="0.292" stop-color="#00e6ff"/><stop offset="0.312" stop-color="#00fff8"/><stop offset="0.333" stop-color="#00ffd7"/><stop offset="0.354" stop-color="#00ffb6"/><stop offset="0.375" stop-color="#00ff97"/><stop offset="0.396" stop-color="#00ff78"/><stop offset="0.417" stop-color="#00ff60"/><stop offset="0.438" stop-color="#00ff49"/><stop offset="0.458" stop-color="#00ff3c"/><stop offset="0.479" stop-color="#00ff30"/><stop offset="0.5" stop-color="#00ff25"/><stop offset="0.521" stop-color="#00ff21"/><stop offset="0.542" stop-color="#00ff1d"/><stop offset="0.562" stop-color="#00ff1a"/><stop offset="0.583" stop-color="#00ff1e"/><stop offset="0.604" stop-color="#00ff27"/><stop offset="0.625" stop-color="#00ff31"/><stop offset="0.646" stop-color="#00ff42"/><stop offset="0.667" stop-color="#00ff56"/><stop offset="0.688" stop-color="#00ff6a"/><stop offset="0.708" stop-color="#00ff85"/><stop offset="0.729" stop-color="#00ffbc"/><stop offset="0.75" stop-color="#00fff7"/><stop offset="0.771" stop-color="#00d6ff"/><stop offset="0.792" stop-color="#00a9ff"/><stop offset="0.812" stop-color="#0087ff"/><stop offset="0.833" stop-color="#0070ff"/><stop offset="0.854" stop-color="#005eff"/><stop offset="0.875" stop-color="#004dff"/><stop offset="0.896" stop-color="#0046ff"/><stop offset="0.917" stop-color="#003fff"/><stop offset="0.938" stop-color="#0037ff"/><stop offset="0.958" stop-color="#0030ff"/><stop offset="0.979" stop-color="#0029ff"/><stop offset="1" stop-color="#0020ff"/></linearGradient><linearGradient id="g62" x1="0" y1="0" x2="0" y2="1"><stop offset="0" stop-color="#0058ff"/><stop offset="0.0208" stop-color="#005cff"/><stop offset="0.0417" stop-color="#0060ff"/><stop offset="0.0625" stop-color="#0064ff"/><stop offset="0.0833" stop-color="#0067ff"/><stop offset="0.104" stop-color="#006bff"/><stop offset="0.125" stop-color="#006fff"/><stop offset="0.146" stop-color="#0073ff"/><stop offset="0.167" stop-color="#0079ff"/><stop offset="0.188" stop-color="#0081ff"/><stop offset="0.208" stop-color="#0088ff"/><stop offset="0.229" stop-color="#0094ff"/><stop offset="0.25" stop-color="#00acff"/><stop offset="0.271" stop-color="#00cbff"/><stop offset="0.292" stop-color="#00eaff"/><stop offset="0.312" stop-color="#00fff2"/><stop offset="0.333" stop-color="#00ffd0"/><stop offset="0.354" stop-color="#00ffad"/><stop offset="0.375" stop-color="#00ff8d"/><stop offset="0.396" stop-color="#00ff6f"/><stop offset="0.417" stop-color="#00ff55"/><stop offset="0.438" stop-color="#00ff3e"/><stop offset="0.458" stop-color="#00ff30"/><stop offset="0.479" stop-color="#00ff24"/><stop offset="0.5" stop-color="#00ff18"/><stop offset="0.521" stop-color="#00ff14"/><stop offset="0.542" stop-color="#00ff10"/><stop offset="0.562" stop-color="#00ff0b"/><stop offset="0.583" stop-color="#00ff10"/><stop offset="0.604" stop-color="#00ff19"/><stop offset="0.625" stop-color="#00ff25"/><stop offset="0.646" stop-color="#00ff37"/><stop offset="0.667" stop-color="#00ff4d"/><stop offset="0.688" stop-color="#00ff64"/><stop offset="0.708" stop-color="#00ff80"/><stop offset="0.729" stop-color="#00ffb5"/><stop offset="0.75" stop-color="#00fff1"/><stop offset="0.771" stop-color="#00daff"/><stop offset="0.792" stop-color="#00acff"/><stop offset="0.812" stop-color="#0089ff"/><stop offset="0.833" stop-color="#0071ff"/><stop offset="0.854" stop-color="#005fff"/><stop offset="0.875" stop-color="#004eff"/><stop offset="0.896" stop-color="#0046ff"/><stop offset="0.917" stop-color="#003fff"/><stop offset="0.938" stop-color="#0038ff"/><stop offset="0.958" stop-color="#0030ff"/><stop offset="0.979" stop-color="#0029ff"/><stop offset="1" stop-color="#0020ff"/></linearGradient><linearGradient id="g63" x1="0" y1="0" x2="0" y2="1"><stop offset="0" stop-color="#0059ff"/><stop offset="0.0208" stop-color="#005dff"/><stop offset="0.0417" stop-color="#0061ff"/><stop offset="0.0625" stop-color="#0065ff"/><stop offset="0.0833" stop-color="#0069ff"/><stop offset="0.104" stop-color="#006dff"/><stop offset="0.125" stop-color="#0071ff"/><stop offset="0.146" stop-color="#0075ff"/><stop offset="0.167" stop-color="#007cff"/><stop offset="0.188" stop-color="#0084ff"/><stop offset="0.208" stop-color="#008cff"/><stop offset="0.229" stop-color="#0099ff"/><stop offset="0.25" stop-color="#00b0ff"/><stop offset="0.271" stop-color="#00cfff"/><stop offset="0.292" stop-color="#00eeff"/><stop offset="0.312" stop-color="#00ffed"/><stop offset="0.333" stop-color="#00ffc9"/><stop offset="0.354" stop-color="#00ffa4"/><stop offset="0.375" stop-color="#00ff84"/><stop offset="0.396" stop-color="#00ff65"/><stop offset="0.417" stop-color="#00ff4b"/><stop offset="0.438" stop-color="#00ff33"/><stop offset="0.458" stop-color="#00ff25"/><stop offset="0.479" stop-color="#00ff18"/><stop offset="0.5" stop-color="#00ff0b"/><stop offset="0.521" stop-color="#00ff06"/><stop offset="0.542" stop-color="#00ff02"/><stop offset="0.562" stop-color="#03ff00"/><stop offset="0.583" stop-color="#00ff02"/><stop offset="0.604" stop-color="#00ff0c"/><stop offset="0.625" stop-color="#00ff19"/><stop offset="0.646" stop-color="#00ff2b"/><stop offset="0.667" stop-color="#00ff44"/><stop offset="0.688" stop-color="#00ff5d"/><stop offset="0.708" stop-color="#00ff7a"/><stop offset="0.729" stop-color="#00ffad"/><stop offset="0.75" stop-color="#00ffea"/><stop offset="0.771" stop-color="#00dfff"/><stop offset="0.792" stop-color="#00afff"/><stop offset="0.812" stop-color="#008cff"/><stop offset="0.833" stop-color="#0072ff"/><stop offset="0.854" stop-color="#0061ff"/><stop offset="0.875" stop-color="#0050ff"/><stop offset="0.896" stop-color="#0046ff"/><stop offset="0.917" stop-color="#003fff"/><stop offset="0.938" stop-color="#0038ff"/><stop offset="0.958" stop-color="#0030ff"/><stop offset="0.979" stop-color="#0029ff"/><stop offset="1" stop-color="#0020ff"/></linearGradient><linearGradient id="g64" x1="0" y1="0" x2="0" y2="1"><stop offset="0" stop-color="#005aff"/><stop offset="0.0208" stop-color="#005eff"/><stop offset="0.0417" stop-color="#0062ff"/><stop offset="0.0625" stop-color="#0066ff"/><stop offset="0.0833" stop-color="#006aff"/><stop offset="0.104" stop-color="#006fff"/><stop offset="0.125" stop-color="#0073ff"/><stop offset="0.146" stop-color="#0077ff"/><stop offset="0.167" stop-color="#007fff"/><stop offset="0.188" stop-color="#0087ff"/><stop offset="0.208" stop-color="#008fff"/><stop offset="0.229" stop-color="#009eff"/><stop offset="0.25" stop-color="#00b3ff"/><stop offset="0.271" stop-color="#00d3ff"/><stop offset="0.292" stop-color="#00f2ff"/><stop offset="0.312" stop-color="#00ffe7"/><stop offset="0.333" stop-color="#00ffc2"/><stop offset="0.354" stop-color="#00ff9b"/><stop offset="0.375" stop-color="#00ff7a"/><stop offset="0.396" stop-color="#00ff5b"/><stop offset="0.417" stop-color="#00ff40"/><stop offset="0.438" stop-color="#00ff28"/><stop offset="0.458" stop-color="#00ff1a"/><stop offset="0.479" stop-color="#00ff0c"/><stop offset="0.5" stop-color="#02ff00"/><stop offset="0.521" stop-color="#07ff00"/><stop offset="0.542" stop-color="#0cff00"/><stop offset="0.562" stop-color="#11ff00"/><stop offset="0.583" stop-color="#0cff00"/><stop offset="0.604" stop-color="#01ff00"/><stop offset="0.625" stop-color="#00ff0d"/><stop offset="0.646" stop-color="#00ff20"/><stop offset="0.667" stop-color="#00ff3b"/><stop offset="0.688" stop-color="#00ff57"/><stop offset="0.708" stop-color="#00ff75"/><stop offset="0.729" stop-color="#00ffa5"/><stop offset="0.75" stop-color="#00ffe3"/><stop offset="0.771" stop-color="#00e3ff"/><stop offset="0.792" stop-color="#00b2ff"/><stop offset="0.812" stop-color="#008eff"/><stop offset="0.833" stop-color="#0073ff"/><stop offset="0.854" stop-color="#0062ff"/><stop offset="0.875" stop-color="#0051ff"/><stop offset="0.896" stop-color="#0047ff"/><stop offset="0.917" stop-color="#003fff"/><stop offset="0.938" stop-color="#0038ff"/><stop offset="0.958" stop-color="#0030ff"/><stop offset="0.979" stop-color="#0029ff"/><stop offset="1" stop-color="#0020ff"/></linearGradient><linearGradient id="g65" x1="0" y1="0" x2="0" y2="1"><stop offset="0" stop-color="#005bff"/><stop offset="0.0208" stop-color="#005fff"/><stop offset="0.0417" stop-color="#0063ff"/><stop offset="0.0625" stop-color="#0068ff"/><stop offset="0.0833" stop-color="#006cff"/><stop offset="0.104" stop-color="#0070ff"/><stop offset="0.125" stop-color="#0074ff"/><stop offset="0.146" stop-color="#0079ff"/><stop offset="0.167" stop-color="#0082ff"/><stop offset="0.188" stop-color="#008aff"/><stop offset="0.208" stop-color="#0093ff"/><stop offset="0.229" stop-color="#00a2ff"/><stop offset="0.25" stop-color="#00b7ff"/><stop offset="0.271" stop-color="#00d7ff"/><stop offset="0.292" stop-color="#00f7ff"/><stop offset="0.312" stop-color="#00ffe2"/><stop offset="0.333" stop-color="#00ffbb"/><stop offset="0.354" stop-color="#00ff92"/><stop offset="0.375" stop-color="#00ff71"/><stop offset="0.396" stop-color="#00ff52"/><stop offset="0.417" stop-color="#00ff36"/><stop offset="0.438" stop-color="#00ff1d"/><stop offset="0.458" stop-color="#00ff0e"/><stop offset="0.479" stop-color="#00ff00"/><stop offset="0.5" stop-color="#0fff00"/><stop offset="0.521" stop-color="#14ff00"/><stop offset="0.542" stop-color="#1aff00"/><stop offset="0.562" stop-color="#1fff00"/><stop offset="0.583" stop-color="#1aff00"/><stop offset="0.604" stop-color="#0fff00"/><stop offset="0.625" stop-color="#00ff01"/><stop offset="0.646" stop-color="#00ff14"/><stop offset="0.667" stop-color="#00ff32"/><stop offset="0.688" stop-color="#00ff50"/><stop offset="0.708" stop-color="#00ff70"/><stop offset="0.729" stop-color="#00ff9e"/><stop offset="0.75" stop-color="#00ffdd"/><stop offset="0.771" stop-color="#00e7ff"/><stop offset="0.792" stop-color="#00b4ff"/><stop offset="0.812" stop-color="#0090ff"/><stop offset="0.833" stop-color="#0074ff"/><stop offset="0.854" stop-color="#0063ff"/><stop offset="0.875" stop-color="#0052ff"/><stop offset="0.896" stop-color="#0047ff"/><stop offset="0.917" stop-color="#0040ff"/><stop offset="0.938" stop-color="#0038ff"/><stop offset="0.958" stop-color="#0031ff"/><stop offset="0.979" stop-color="#0029ff"/><stop offset="1" stop-color="#0020ff"/></linearGradient><linearGradient id="g66" x1="0" y1="0" x2="0" y2="1"><stop offset="0" stop-color="#005cff"/><stop offset="0.0208" stop-color="#0060ff"/><stop offset="0.0417" stop-color="#0064ff"/><stop offset="0.0625" stop-color="#0069ff"/><stop offset="0.0833" stop-color="#006dff"/><stop offset="0.104" stop-color="#0072ff"/><stop offset="0.125" stop-color="#0076ff"/><stop offset="0.146" stop-color="#007bff"/><stop offset="0.167" stop-color="#0085ff"/><stop offset="0.188" stop-color="#008eff"/><stop offset="0.208" stop-color="#0097ff"/><stop offset="0.229" stop-color="#00a7ff"/><stop offset="0.25" stop-color="#00baff"/><stop offset="0.271" stop-color="#00dbff"/><stop offset="0.292" stop-color="#00fbff"/><stop offset="0.312" stop-color="#00ffdc"/><stop offset="0.333" stop-color="#00ffb4"/><stop offset="0.354" stop-color="#00ff89"/><stop offset="0.375" stop-color="#00ff68"/><stop offset="0.396" stop-color="#00ff48"/><stop offset="0.417" stop-color="#00ff2b"/><stop offset="0.438" stop-color="#00ff12"/><stop offset="0.458" stop-color="#00ff03"/><stop offset="0.479" stop-color="#0cff00"/><stop offset="0.5" stop-color="#1bff00"/><stop offset="0.521" stop-color="#22ff00"/><stop offset="0.542" stop-color="#28ff00"/><stop offset="0.562" stop-color="#2eff00"/><stop offset="0.583" stop-color="#27ff00"/><stop offset="0.604" stop-color="#1cff00"/><stop offset="0.625" stop-color="#0bff00"/><stop offset="0.646" stop-color="#00ff09"/><stop offset="0.667" stop-color="#00ff29"/><stop offset="0.688" stop-color="#00ff4a"/><stop offset="0.708" stop-color="#00ff6a"/><stop offset="0.729" stop-color="#00ff96"/><stop offset="0.75" stop-color="#00ffd6"/><stop offset="0.771" stop-color="#00ecff"/><stop offset="0.792" stop-color="#00b7ff"/><stop offset="0.812" stop-color="#0092ff"/><stop offset="0.833" stop-color="#0076ff"/><stop offset="0.854" stop-color="#0064ff"/><stop offset="0.875" stop-color="#0053ff"/><stop offset="0.896" stop-color="#0048ff"/><stop offset="0.917" stop-color="#0040ff"/><stop offset="0.938" stop-color="#0038ff"/><stop offset="0.958" stop-color="#0031ff"/><stop offset="0.979" stop-color="#0029ff"/><stop offset="1" stop-color="#0020ff"/></linearGradient><linearGradient id="g67" x1="0" y1="0" x2="0" y2="1"><stop offset="0" stop-color="#005cff"/><stop offset="0.0208" stop-color="#0061ff"/><stop offset="0.0417" stop-color="#0065ff"/><stop offset="0.0625" stop-color="#006aff"/><stop offset="0.0833" stop-color="#006eff"/><stop offset="0.104" stop-color="#0073ff"/><stop offset="0.125" stop-color="#0077ff"/><stop offset="0.146" stop-color="#007eff"/><stop offset="0.167" stop-color="#0087ff"/><stop offset="0.188" stop-color="#0090ff"/><stop offset="0.208" stop-color="#009bff"/><stop offset="0.229" stop-color="#00abff"/><stop offset="0.25" stop-color="#00c0ff"/><stop offset="0.271" stop-color="#00e1ff"/><stop offset="0.292" stop-color="#00fffc"/><stop offset="0.312" stop-color="#00ffd5"/><stop offset="0.333" stop-color="#00ffab"/><stop offset="0.354" stop-color="#00ff81"/><stop offset="0.375" stop-color="#00ff5e"/><stop offset="0.396" stop-color="#00ff3d"/><stop offset="0.417" stop-color="#00ff1e"/><stop offset="0.438" stop-color="#00ff06"/><stop offset="0.458" stop-color="#0cff00"/><stop offset="0.479" stop-color="#1dff00"/><stop offset="0.5" stop-color="#2dff00"/><stop offset="0.521" stop-color="#35ff00"/><stop offset="0.542" stop-color="#3eff00"/><stop offset="0.562" stop-color="#43ff00"/><stop offset="0.583" stop-color="#39ff00"/><stop offset="0.604" stop-color="#2bff00"/><stop offset="0.625" stop-color="#18ff00"/><stop offset="0.646" stop-color="#01ff00"/><stop offset="0.667" stop-color="#00ff20"/><stop offset="0.688" stop-color="#00ff42"/><stop offset="0.708" stop-color="#00ff63"/><stop offset="0.729" stop-color="#00ff8c"/><stop offset="0.75" stop-color="#00ffcc"/><stop offset="0.771" stop-color="#00f3ff"/><stop offset="0.792" stop-color="#00beff"/><stop offset="0.812" stop-color="#0096ff"/><stop offset="0.833" stop-color="#0078ff"/><stop offset="0.854" stop-color="#0066ff"/><stop offset="0.875" stop-color="#0055ff"/><stop offset="0.896" stop-color="#0049ff"/><stop offset="0.917" stop-color="#0041ff"/><stop offset="0.938" stop-color="#0039ff"/><stop offset="0.958" stop-color="#0031ff"/><stop offset="0.979" stop-color="#0029ff"/><stop offset="1" stop-color="#0020ff"/></linearGradient><linearGradient id="g68" x1="0" y1="0" x2="0" y2="1"><stop offset="0" stop-color="#005dff"/><stop offset="0.0208" stop-color="#0061ff"/><stop offset="0.0417" stop-color="#0066ff"/><stop offset="0.0625" stop-color="#006bff"/><stop offset="0.0833" stop-color="#006fff"/><stop offset="0.104" stop-color="#0074ff"/><stop offset="0.125" stop-color="#0078ff"/><stop offset="0.146" stop-color="#0080ff"/><stop offset="0.167" stop-color="#0089ff"/><stop offset="0.188" stop-color="#0093ff"/><stop offset="0.208" stop-color="#009fff"/><stop offset="0.229" stop-color="#00afff"/><stop offset="0.25" stop-color="#00c7ff"/><stop offset="0.271" stop-color="#00e7ff"/><stop offset="0.292" stop-color="#00fff4"/><stop offset="0.312" stop-color="#00ffcc"/><stop offset="0.333" stop-color="#00ffa2"/><stop offset="0.354" stop-color="#00ff79"/><stop offset="0.375" stop-color="#00ff55"/><stop offset="0.396" stop-color="#00ff31"/><stop offset="0.417" stop-color="#00ff10"/><stop offset="0.438" stop-color="#08ff00"/><stop offset="0.458" stop-color="#1cff00"/><stop offset="0.479" stop-color="#2fff00"/><stop offset="0.5" stop-color="#3fff00"/><stop offset="0.521" stop-color="#4bff00"/><stop offset="0.542" stop-color="#57ff00"/><stop offset="0.562" stop-color="#5bff00"/><stop offset="0.583" stop-color="#4cff00"/><stop offset="0.604" stop-color="#3bff00"/><stop offset="0.625" stop-color="#25ff00"/><stop offset="0.646" stop-color="#0aff00"/><stop offset="0.667" stop-color="#00ff17"/><stop offset="0.688" stop-color="#00ff39"/><stop offset="0.708" stop-color="#00ff5c"/><stop offset="0.729" stop-color="#00ff82"/><stop offset="0.75" stop-color="#00ffc0"/><stop offset="0.771" stop-color="#00fbff"/><stop offset="0.792" stop-color="#00c5ff"/><stop offset="0.812" stop-color="#009bff"/><stop offset="0.833" stop-color="#007cff"/><stop offset="0.854" stop-color="#0069ff"/><stop offset="0.875" stop-color="#0057ff"/><stop offset="0.896" stop-color="#004aff"/><stop offset="0.917" stop-color="#0041ff"/><stop offset="0.938" stop-color="#0039ff"/><stop offset="0.958" stop-color="#0031ff"/><stop offset="0.979" stop-color="#0029ff"/><stop offset="1" stop-color="#0020ff"/></linearGradient><linearGradient id="g69" x1="0" y1="0" x2="0" y2="1"><stop offset="0" stop-color="#005eff"/><stop offset="0.0208" stop-color="#0062ff"/><stop offset="0.0417" stop-color="#0067ff"/><stop offset="0.0625" stop-color="#006bff"/><stop offset="0.0833" stop-color="#0070ff"/><stop offset="0.104" stop-color="#0075ff"/><stop offset="0.125" stop-color="#0079ff"/><stop offset="0.146" stop-color="#0082ff"/><stop offset="0.167" stop-color="#008cff"/><stop offset="0.188" stop-color="#0095ff"/><stop offset="0.208" stop-color="#00a3ff"/><stop offset="0.229" stop-color="#00b2ff"/><stop offset="0.25" stop-color="#00ceff"/><stop offset="0.271" stop-color="#00eeff"/><stop offset="0.292" stop-color="#00ffec"/><stop offset="0.312" stop-color="#00ffc4"/><stop offset="0.333" stop-color="#00ff99"/><stop offset="0.354" stop-color="#00ff71"/><stop offset="0.375" stop-color="#00ff4c"/><stop offset="0.396" stop-color="#00ff25"/><stop offset="0.417" stop-color="#00ff02"/><stop offset="0.438" stop-color="#16ff00"/><stop offset="0.458" stop-color="#2cff00"/><stop offset="0.479" stop-color="#41ff00"/><stop offset="0.5" stop-color="#51ff00"/><stop offset="0.521" stop-color="#60ff00"/><stop offset="0.542" stop-color="#6fff00"/><stop offset="0.562" stop-color="#73ff00"/><stop offset="0.583" stop-color="#5fff00"/><stop offset="0.604" stop-color="#4bff00"/><stop offset="0.625" stop-color="#32ff00"/><stop offset="0.646" stop-color="#13ff00"/><stop offset="0.667" stop-color="#00ff0e"/><stop offset="0.688" stop-color="#00ff31"/><stop offset="0.708" stop-color="#00ff54"/><stop offset="0.729" stop-color="#00ff78"/><stop offset="0.75" stop-color="#00ffb4"/><stop offset="0.771" stop-color="#00fffb"/><stop offset="0.792" stop-color="#00ccff"/><stop offset="0.812" stop-color="#00a0ff"/><stop offset="0.833" stop-color="#007fff"/><stop offset="0.854" stop-color="#006bff"/><stop offset="0.875" stop-color="#005aff"/><stop offset="0.896" stop-color="#004bff"/><stop offset="0.917" stop-color="#0042ff"/><stop offset="0.938" stop-color="#0039ff"/><stop offset="0.958" stop-color="#0031ff"/><stop offset="0.979" stop-color="#0029ff"/><stop offset="1" stop-color="#0020ff"/></linearGradient><linearGradient id="g70" x1="0" y1="0" x2="0" y2="1"><stop offset="0" stop-color="#005eff"/><stop offset="0.0208" stop-color="#0063ff"/><stop offset="0.0417" stop-color="#0068ff"/><stop offset="0.0625" stop-color="#006cff"/><stop offset="0.0833" stop-color="#0071ff"/><stop offset="0.104" stop-color="#0076ff"/><stop offset="0.125" stop-color="#007bff"/><stop offset="0.146" stop-color="#0084ff"/><stop offset="0.167" stop-color="#008eff"/><stop offset="0.188" stop-color="#0099ff"/><stop offset="0.208" stop-color="#00a7ff"/><stop offset="0.229" stop-color="#00b8ff"/><stop offset="0.25" stop-color="#00d6ff"/><stop offset="0.271" stop-color="#00f7ff"/><stop offset="0.292" stop-color="#00ffe2"/><stop offset="0.312" stop-color="#00ffba"/><stop offset="0.333" stop-color="#00ff8f"/><stop offset="0.354" stop-color="#00ff66"/><stop offset="0.375" stop-color="#00ff40"/><stop offset="0.396" stop-color="#00ff19"/><stop offset="0.417" stop-color="#0bff00"/><stop offset="0.438" stop-color="#24ff00"/><stop offset="0.458" stop-color="#3dff00"/><stop offset="0.479" stop-color="#54ff00"/><stop offset="0.5" stop-color="#67ff00"/><stop offset="0.521" stop-color="#77ff00"/><stop offset="0.542" stop-color="#87ff00"/><stop offset="0.562" stop-color="#8aff00"/><stop offset="0.583" stop-color="#75ff00"/><stop offset="0.604" stop-color="#61ff00"/><stop offset="0.625" stop-color="#43ff00"/><stop offset="0.646" stop-color="#20ff00"/><stop offset="0.667" stop-color="#00ff01"/><stop offset="0.688" stop-color="#00ff23"/><stop offset="0.708" stop-color="#00ff48"/><stop offset="0.729" stop-color="#00ff6d"/><stop offset="0.75" stop-color="#00ffa7"/><stop offset="0.771" stop-color="#00fff1"/><stop offset="0.792" stop-color="#00d4ff"/><stop offset="0.812" stop-color="#00a4ff"/><stop offset="0.833" stop-color="#0083ff"/><stop offset="0.854" stop-color="#006eff"/><stop offset="0.875" stop-color="#005cff"/><stop offset="0.896" stop-color="#004cff"/><stop offset="0.917" stop-color="#0043ff"/><stop offset="0.938" stop-color="#003bff"/><stop offset="0.958" stop-color="#0032ff"/><stop offset="0.979" stop-color="#0029ff"/><stop offset="1" stop-color="#0021ff"/></linearGradient><linearGradient id="g71" x1="0" y1="0" x2="0" y2="1"><stop offset="0" stop-color="#005fff"/><stop offset="0.0208" stop-color="#0064ff"/><stop offset="0.0417" stop-color="#0069ff"/><stop offset="0.0625" stop-color="#006eff"/><stop offset="0.0833" stop-color="#0072ff"/><stop offset="0.104" stop-color="#0077ff"/><stop offset="0.125" stop-color="#007eff"/><stop offset="0.146" stop-color="#0087ff"/><stop offset="0.167" stop-color="#0091ff"/><stop offset="0.188" stop-color="#009dff"/><stop offset="0.208" stop-color="#00abff"/><stop offset="0.229" stop-color="#00c0ff"/><stop offset="0.25" stop-color="#00dfff"/><stop offset="0.271" stop-color="#00fffd"/><stop offset="0.292" stop-color="#00ffd7"/><stop offset="0.312" stop-color="#00ffae"/><stop offset="0.333" stop-color="#00ff83"/><stop offset="0.354" stop-color="#00ff59"/><stop offset="0.375" stop-color="#00ff32"/><stop offset="0.396" stop-color="#00ff0c"/><stop offset="0.417" stop-color="#17ff00"/><stop offset="0.438" stop-color="#33ff00"/><stop offset="0.458" stop-color="#4fff00"/><stop offset="0.479" stop-color="#68ff00"/><stop offset="0.5" stop-color="#7eff00"/><stop offset="0.521" stop-color="#8eff00"/><stop offset="0.542" stop-color="#9eff00"/><stop offset="0.562" stop-color="#a1ff00"/><stop offset="0.583" stop-color="#8eff00"/><stop offset="0.604" stop-color="#7bff00"/><stop offset="0.625" stop-color="#57ff00"/><stop offset="0.646" stop-color="#31ff00"/><stop offset="0.667" stop-color="#10ff00"/><stop offset="0.688" stop-color="#00ff11"/><stop offset="0.708" stop-color="#00ff38"/><stop offset="0.729" stop-color="#00ff62"/><stop offset="0.75" stop-color="#00ff98"/><stop offset="0.771" stop-color="#00ffe5"/><stop offset="0.792" stop-color="#00dbff"/><stop offset="0.812" stop-color="#00aaff"/><stop offset="0.833" stop-color="#0088ff"/><stop offset="0.854" stop-color="#0070ff"/><stop offset="0.875" stop-color="#005fff"/><stop offset="0.896" stop-color="#004fff"/><stop offset="0.917" stop-color="#0045ff"/><stop offset="0.938" stop-color="#003dff"/><stop offset="0.958" stop-color="#0034ff"/><stop offset="0.979" stop-color="#002aff"/><stop offset="1" stop-color="#0021ff"/></linearGradient><linearGradient id="g72" x1="0" y1="0" x2="0" y2="1"><stop offset="0" stop-color="#0060ff"/><stop offset="0.0208" stop-color="#0065ff"/><stop offset="0.0417" stop-color="#006aff"/><stop offset="0.0625" stop-color="#006fff"/><stop offset="0.0833" stop-color="#0073ff"/><stop offset="0.104" stop-color="#0078ff"/><stop offset="0.125" stop-color="#0080ff"/><stop offset="0.146" stop-color="#008aff"/><stop offset="0.167" stop-color="#0094ff"/><stop offset="0.188" stop-color="#00a0ff"/><stop offset="0.208" stop-color="#00b0ff"/><stop offset="0.229" stop-color="#00c8ff"/><stop offset="0.25" stop-color="#00e8ff"/><stop offset="0.271" stop-color="#00fff3"/><stop offset="0.292" stop-color="#00ffcc"/><stop offset="0.312" stop-color="#00ffa2"/><stop offset="0.333" stop-color="#00ff77"/><stop offset="0.354" stop-color="#00ff4c"/><stop offset="0.375" stop-color="#00ff24"/><stop offset="0.396" stop-color="#01ff00"/><stop offset="0.417" stop-color="#23ff00"/><stop offset="0.438" stop-color="#42ff00"/><stop offset="0.458" stop-color="#61ff00"/><stop offset="0.479" stop-color="#7bff00"/><stop offset="0.5" stop-color="#95ff00"/><stop offset="0.521" stop-color="#a5ff00"/><stop offset="0.542" stop-color="#b4ff00"/><stop offset="0.562" stop-color="#b8ff00"/><stop offset="0.583" stop-color="#a6ff00"/><stop offset="0.604" stop-color="#94ff00"/><stop offset="0.625" stop-color="#6bff00"/><stop offset="0.646" stop-color="#42ff00"/><stop offset="0.667" stop-color="#21ff00"/><stop offset="0.688" stop-color="#00ff00"/><stop offset="0.708" stop-color="#00ff29"/><stop offset="0.729" stop-color="#00ff56"/><stop offset="0.75" stop-color="#00ff89"/><stop offset="0.771" stop-color="#00ffd9"/><stop offset="0.792" stop-color="#00e2ff"/><stop offset="0.812" stop-color="#00afff"/><stop offset="0.833" stop-color="#008cff"/><stop offset="0.854" stop-color="#0073ff"/><stop offset="0.875" stop-color="#0062ff"/><stop offset="0.896" stop-color="#0051ff"/><stop offset="0.917" stop-color="#0048ff"/><stop offset="0.938" stop-color="#003eff"/><stop offset="0.958" stop-color="#0035ff"/><stop offset="0.979" stop-color="#002bff"/><stop offset="1" stop-color="#0021ff"/></linearGradient><linearGradient id="g73" x1="0" y1="0" x2="0" y2="1"><stop offset="0" stop-color="#0061ff"/><stop offset="0.0208" stop-color="#0066ff"/><stop offset="0.0417" stop-color="#006bff"/><stop offset="0.0625" stop-color="#0070ff"/><stop offset="0.0833" stop-color="#0075ff"/><stop offset="0.104" stop-color="#007aff"/><stop offset="0.125" stop-color="#0083ff"/><stop offset="0.146" stop-color="#008cff"/><stop offset="0.167" stop-color="#0097ff"/><stop offset="0.188" stop-color="#00a6ff"/><stop offset="0.208" stop-color="#00b7ff"/><stop offset="0.229" stop-color="#00d2ff"/><stop offset="0.25" stop-color="#00f3ff"/><stop offset="0.271" stop-color="#00ffe7"/><stop offset="0.292" stop-color="#00ffc0"/><stop offset="0.312" stop-color="#00ff95"/><stop offset="0.333" stop-color="#00ff6a"/><stop offset="0.354" stop-color="#00ff3f"/><stop offset="0.375" stop-color="#00ff17"/><stop offset="0.396" stop-color="#0dff00"/><stop offset="0.417" stop-color="#2eff00"/><stop offset="0.438" stop-color="#4fff00"/><stop offset="0.458" stop-color="#6fff00"/><stop offset="0.479" stop-color="#8dff00"/><stop offset="0.5" stop-color="#aaff00"/><stop offset="0.521" stop-color="#bcff00"/><stop offset="0.542" stop-color="#ccff00"/><stop offset="0.562" stop-color="#cfff00"/><stop offset="0.583" stop-color="#beff00"/><stop offset="0.604" stop-color="#abff00"/><stop offset="0.625" stop-color="#7fff00"/><stop offset="0.646" stop-color="#51ff00"/><stop offset="0.667" stop-color="#2eff00"/><stop offset="0.688" stop-color="#0dff00"/><stop offset="0.708" stop-color="#00ff1b"/><stop offset="0.729" stop-color="#00ff4c"/><stop offset="0.75" stop-color="#00ff7d"/><stop offset="0.771" stop-color="#00ffcf"/><stop offset="0.792" stop-color="#00e8ff"/><stop offset="0.812" stop-color="#00b3ff"/><stop offset="0.833" stop-color="#0090ff"/><stop offset="0.854" stop-color="#0075ff"/><stop offset="0.875" stop-color="#0064ff"/><stop offset="0.896" stop-color="#0053ff"/><stop offset="0.917" stop-color="#0049ff"/><stop offset="0.938" stop-color="#0040ff"/><stop offset="0.958" stop-color="#0036ff"/><stop offset="0.979" stop-color="#002cff"/><stop offset="1" stop-color="#0021ff"/></linearGradient><linearGradient id="g74" x1="0" y1="0" x2="0" y2="1"><stop offset="0" stop-color="#0061ff"/><stop offset="0.0208" stop-color="#0066ff"/><stop offset="0.0417" stop-color="#006bff"/><stop offset="0.0625" stop-color="#0071ff"/><stop offset="0.0833" stop-color="#0076ff"/><stop offset="0.104" stop-color="#007cff"/><stop offset="0.125" stop-color="#0085ff"/><stop offset="0.146" stop-color="#008fff"/><stop offset="0.167" stop-color="#009dff"/><stop offset="0.188" stop-color="#00afff"/><stop offset="0.208" stop-color="#00c4ff"/><stop offset="0.229" stop-color="#00e0ff"/><stop offset="0.25" stop-color="#00fffc"/><stop offset="0.271" stop-color="#00ffd7"/><stop offset="0.292" stop-color="#00ffb0"/><stop offset="0.312" stop-color="#00ff86"/><stop offset="0.333" stop-color="#00ff5b"/><stop offset="0.354" stop-color="#00ff31"/><stop offset="0.375" stop-color="#00ff0a"/><stop offset="0.396" stop-color="#18ff00"/><stop offset="0.417" stop-color="#38ff00"/><stop offset="0.438" stop-color="#58ff00"/><stop offset="0.458" stop-color="#78ff00"/><stop offset="0.479" stop-color="#9aff00"/><stop offset="0.5" stop-color="#bcff00"/><stop offset="0.521" stop-color="#d3ff00"/><stop offset="0.542" stop-color="#e6ff00"/><stop offset="0.562" stop-color="#e8ff00"/><stop offset="0.583" stop-color="#d7ff00"/><stop offset="0.604" stop-color="#beff00"/><stop offset="0.625" stop-color="#90ff00"/><stop offset="0.646" stop-color="#5eff00"/><stop offset="0.667" stop-color="#33ff00"/><stop offset="0.688" stop-color="#13ff00"/><stop offset="0.708" stop-color="#00ff11"/><stop offset="0.729" stop-color="#00ff43"/><stop offset="0.75" stop-color="#00ff75"/><stop offset="0.771" stop-color="#00ffc6"/><stop offset="0.792" stop-color="#00ecff"/><stop offset="0.812" stop-color="#00b7ff"/><stop offset="0.833" stop-color="#0092ff"/><stop offset="0.854" stop-color="#0076ff"/><stop offset="0.875" stop-color="#0065ff"/><stop offset="0.896" stop-color="#0054ff"/><stop offset="0.917" stop-color="#0049ff"/><stop offset="0.938" stop-color="#0040ff"/><stop offset="0.958" stop-color="#0036ff"/><stop offset="0.979" stop-color="#002cff"/><stop offset="1" stop-color="#0021ff"/></linearGradient><linearGradient id="g75" x1="0" y1="0" x2="0" y2="1"><stop offset="0" stop-color="#0061ff"/><stop offset="0.0208" stop-color="#0066ff"/><stop offset="0.0417" stop-color="#006cff"/><stop offset="0.0625" stop-color="#0072ff"/><stop offset="0.0833" stop-color="#0077ff"/><stop offset="0.104" stop-color="#007eff"/><stop offset="0.125" stop-color="#0088ff"/><stop offset="0.146" stop-color="#0092ff"/><stop offset="0.167" stop-color="#00a2ff"/><stop offset="0.188" stop-color="#00b9ff"/><stop offset="0.208" stop-color="#00d1ff"/><stop offset="0.229" stop-color="#00edff"/><stop offset="0.25" stop-color="#00ffed"/><stop offset="0.271" stop-color="#00ffc7"/><stop offset="0.292" stop-color="#00ffa1"/><stop offset="0.312" stop-color="#00ff77"/><stop offset="0.333" stop-color="#00ff4c"/><stop offset="0.354" stop-color="#00ff23"/><stop offset="0.375" stop-color="#02ff00"/><stop offset="0.396" stop-color="#22ff00"/><stop offset="0.417" stop-color="#42ff00"/><stop offset="0.438" stop-color="#61ff00"/><stop offset="0.458" stop-color="#80ff00"/><stop offset="0.479" stop-color="#a7ff00"/><stop offset="0.5" stop-color="#cdff00"/><stop offset="0.521" stop-color="#eaff00"/><stop offset="0.542" stop-color="#ffff00"/><stop offset="0.562" stop-color="#fffe00"/><stop offset="0.583" stop-color="#efff00"/><stop offset="0.604" stop-color="#d1ff00"/><stop offset="0.625" stop-color="#a1ff00"/><stop offset="0.646" stop-color="#6bff00"/><stop offset="0.667" stop-color="#38ff00"/><stop offset="0.688" stop-color="#18ff00"/><stop offset="0.708" stop-color="#00ff07"/><stop offset="0.729" stop-color="#00ff3b"/><stop offset="0.75" stop-color="#00ff6e"/><stop offset="0.771" stop-color="#00ffbd"/><stop offset="0.792" stop-color="#00efff"/><stop offset="0.812" stop-color="#00baff"/><stop offset="0.833" stop-color="#0094ff"/><stop offset="0.854" stop-color="#0077ff"/><stop offset="0.875" stop-color="#0066ff"/><stop offset="0.896" stop-color="#0055ff"/><stop offset="0.917" stop-color="#004aff"/><stop offset="0.938" stop-color="#0040ff"/><stop offset="0.958" stop-color="#0036ff"/><stop offset="0.979" stop-color="#002cff"/><stop offset="1" stop-color="#0021ff"/></linearGradient><linearGradient id="g76" x1="0" y1="0" x2="0" y2="1"><stop offset="0" stop-color="#0061ff"/><stop offset="0.0208" stop-color="#0067ff"/><stop offset="0.0417" stop-color="#006dff"/><stop offset="0.0625" stop-color="#0073ff"/><stop offset="0.0833" stop-color="#0079ff"/><stop offset="0.104" stop-color="#0081ff"/><stop offset="0.125" stop-color="#008bff"/><stop offset="0.146" stop-color="#0096ff"/><stop offset="0.167" stop-color="#00a8ff"/><stop offset="0.188" stop-color="#00c2ff"/><stop offset="0.208" stop-color="#00deff"/><stop offset="0.229" stop-color="#00fcff"/><stop offset="0.25" stop-color="#00ffde"/><stop offset="0.271" stop-color="#00ffb7"/><stop offset="0.292" stop-color="#00ff90"/><stop offset="0.312" stop-color="#00ff67"/><stop offset="0.333" stop-color="#00ff3c"/><stop offset="0.354" stop-color="#00ff15"/><stop offset="0.375" stop-color="#0eff00"/><stop offset="0.396" stop-color="#2dff00"/><stop offset="0.417" stop-color="#4dff00"/><stop offset="0.438" stop-color="#6cff00"/><stop offset="0.458" stop-color="#8cff00"/><stop offset="0.479" stop-color="#b7ff00"/><stop offset="0.5" stop-color="#e1ff00"/><stop offset="0.521" stop-color="#fffc00"/><stop offset="0.542" stop-color="#ffe500"/><stop offset="0.562" stop-color="#ffe600"/><stop offset="0.583" stop-color="#fff700"/><stop offset="0.604" stop-color="#e4ff00"/><stop offset="0.625" stop-color="#b4ff00"/><stop offset="0.646" stop-color="#7aff00"/><stop offset="0.667" stop-color="#40ff00"/><stop offset="0.688" stop-color="#1fff00"/><stop offset="0.708" stop-color="#02ff00"/><stop offset="0.729" stop-color="#00ff32"/><stop offset="0.75" stop-color="#00ff67"/><stop offset="0.771" stop-color="#00ffb4"/><stop offset="0.792" stop-color="#00f3ff"/><stop offset="0.812" stop-color="#00beff"/><stop offset="0.833" stop-color="#0097ff"/><stop offset="0.854" stop-color="#0078ff"/><stop offset="0.875" stop-color="#0067ff"/><stop offset="0.896" stop-color="#0056ff"/><stop offset="0.917" stop-color="#004aff"/><stop offset="0.938" stop-color="#0040ff"/><stop offset="0.958" stop-color="#0036ff"/><stop offset="0.979" stop-color="#002cff"/><stop offset="1" stop-color="#0021ff"/></linearGradient><linearGradient id="g77" x1="0" y1="0" x2="0" y2="1"><stop offset="0" stop-color="#0062ff"/><stop offset="0.0208" stop-color="#0068ff"/><stop offset="0.0417" stop-color="#006eff"/><stop offset="0.0625" stop-color="#0074ff"/><stop offset="0.0833" stop-color="#007bff"/><stop offset="0.104" stop-color="#0084ff"/><stop offset="0.125" stop-color="#008eff"/><stop offset="0.146" stop-color="#009dff"/><stop offset="0.167" stop-color="#00b3ff"/><stop offset="0.188" stop-color="#00cfff"/><stop offset="0.208" stop-color="#00edff"/><stop offset="0.229" stop-color="#00fff0"/><stop offset="0.25" stop-color="#00ffcb"/><stop offset="0.271" stop-color="#00ffa4"/><stop offset="0.292" stop-color="#00ff7c"/><stop offset="0.312" stop-color="#00ff53"/><stop offset="0.333" stop-color="#00ff2b"/><stop offset="0.354" stop-color="#00ff07"/><stop offset="0.375" stop-color="#1bff00"/><stop offset="0.396" stop-color="#3aff00"/><stop offset="0.417" stop-color="#5bff00"/><stop offset="0.438" stop-color="#7dff00"/><stop offset="0.458" stop-color="#a1ff00"/><stop offset="0.479" stop-color="#ceff00"/><stop offset="0.5" stop-color="#fcff00"/><stop offset="0.521" stop-color="#ffe200"/><stop offset="0.542" stop-color="#ffcd00"/><stop offset="0.562" stop-color="#ffce00"/><stop offset="0.583" stop-color="#ffe000"/><stop offset="0.604" stop-color="#fcff00"/><stop offset="0.625" stop-color="#ccff00"/><stop offset="0.646" stop-color="#8fff00"/><stop offset="0.667" stop-color="#56ff00"/><stop offset="0.688" stop-color="#32ff00"/><stop offset="0.708" stop-color="#0bff00"/><stop offset="0.729" stop-color="#00ff2c"/><stop offset="0.75" stop-color="#00ff63"/><stop offset="0.771" stop-color="#00ffae"/><stop offset="0.792" stop-color="#00f7ff"/><stop offset="0.812" stop-color="#00c2ff"/><stop offset="0.833" stop-color="#0099ff"/><stop offset="0.854" stop-color="#007aff"/><stop offset="0.875" stop-color="#0068ff"/><stop offset="0.896" stop-color="#0056ff"/><stop offset="0.917" stop-color="#004aff"/><stop offset="0.938" stop-color="#0040ff"/><stop offset="0.958" stop-color="#0036ff"/><stop offset="0.979" stop-color="#002cff"/><stop offset="1" stop-color="#0021ff"/></linearGradient><linearGradient id="g78" x1="0" y1="0" x2="0" y2="1"><stop offset="0" stop-color="#0063ff"/><stop offset="0.0208" stop-color="#0069ff"/><stop offset="0.0417" stop-color="#006fff"/><stop offset="0.0625" stop-color="#0076ff"/><stop offset="0.0833" stop-color="#007dff"/><stop offset="0.104" stop-color="#0087ff"/><stop offset="0.125" stop-color="#0092ff"/><stop offset="0.146" stop-color="#00a4ff"/><stop offset="0.167" stop-color="#00bdff"/><stop offset="0.188" stop-color="#00dcff"/><stop offset="0.208" stop-color="#00fcff"/><stop offset="0.229" stop-color="#00ffde"/><stop offset="0.25" stop-color="#00ffb8"/><stop offset="0.271" stop-color="#00ff92"/><stop offset="0.292" stop-color="#00ff68"/><stop offset="0.312" stop-color="#00ff3f"/><stop offset="0.333" stop-color="#00ff1b"/><stop offset="0.354" stop-color="#08ff00"/><stop offset="0.375" stop-color="#28ff00"/><stop offset="0.396" stop-color="#47ff00"/><stop offset="0.417" stop-color="#6aff00"/><stop offset="0.438" stop-color="#8dff00"/><stop offset="0.458" stop-color="#b6ff00"/><stop offset="0.479" stop-color="#e5ff00"/><stop offset="0.5" stop-color="#ffe700"/><stop offset="0.521" stop-color="#ffc700"/><stop offset="0.542" stop-color="#ffb500"/><stop offset="0.562" stop-color="#ffb600"/><stop offset="0.583" stop-color="#ffc900"/><stop offset="0.604" stop-color="#ffeb00"/><stop offset="0.625" stop-color="#e4ff00"/><stop offset="0.646" stop-color="#a4ff00"/><stop offset="0.667" stop-color="#6dff00"/><stop offset="0.688" stop-color="#45ff00"/><stop offset="0.708" stop-color="#15ff00"/><stop offset="0.729" stop-color="#00ff26"/><stop offset="0.75" stop-color="#00ff5e"/><stop offset="0.771" stop-color="#00ffa7"/><stop offset="0.792" stop-color="#00faff"/><stop offset="0.812" stop-color="#00c5ff"/><stop offset="0.833" stop-color="#009bff"/><stop offset="0.854" stop-color="#007bff"/><stop offset="0.875" stop-color="#0068ff"/><stop offset="0.896" stop-color="#0056ff"/><stop offset="0.917" stop-color="#004aff"/><stop offset="0.938" stop-color="#0040ff"/><stop offset="0.958" stop-color="#0036ff"/><stop offset="0.979" stop-color="#002cff"/><stop offset="1" stop-color="#0021ff"/></linearGradient><linearGradient id="g79" x1="0" y1="0" x2="0" y2="1"><stop offset="0" stop-color="#0064ff"/><stop offset="0.0208" stop-color="#006aff"/><stop offset="0.0417" stop-color="#0071ff"/><stop offset="0.0625" stop-color="#0077ff"/><stop offset="0.0833" stop-color="#0080ff"/><stop offset="0.104" stop-color="#008aff"/><stop offset="0.125" stop-color="#0095ff"/><stop offset="0.146" stop-color="#00abff"/><stop offset="0.167" stop-color="#00c8ff"/><stop offset="0.188" stop-color="#00e8ff"/><stop offset="0.208" stop-color="#00fff3"/><stop offset="0.229" stop-color="#00ffcc"/><stop offset="0.25" stop-color="#00ffa6"/><stop offset="0.271" stop-color="#00ff7f"/><stop offset="0.292" stop-color="#00ff54"/><stop offset="0.312" stop-color="#00ff2b"/><stop offset="0.333" stop-color="#00ff0a"/><stop offset="0.354" stop-color="#16ff00"/><stop offset="0.375" stop-color="#35ff00"/><stop offset="0.396" stop-color="#54ff00"/><stop offset="0.417" stop-color="#79ff00"/><stop offset="0.438" stop-color="#9eff00"/><stop offset="0.458" stop-color="#cbff00"/><stop offset="0.479" stop-color="#fcff00"/><stop offset="0.5" stop-color="#ffcc00"/><stop offset="0.521" stop-color="#ffad00"/><stop offset="0.542" stop-color="#ff9d00"/><stop offset="0.562" stop-color="#ff9e00"/><stop offset="0.583" stop-color="#ffb200"/><stop offset="0.604" stop-color="#ffd300"/><stop offset="0.625" stop-color="#fbff00"/><stop offset="0.646" stop-color="#b9ff00"/><stop offset="0.667" stop-color="#83ff00"/><stop offset="0.688" stop-color="#57ff00"/><stop offset="0.708" stop-color="#1eff00"/><stop offset="0.729" stop-color="#00ff1f"/><stop offset="0.75" stop-color="#00ff59"/><stop offset="0.771" stop-color="#00ffa0"/><stop offset="0.792" stop-color="#00feff"/><stop offset="0.812" stop-color="#00c9ff"/><stop offset="0.833" stop-color="#009eff"/><stop offset="0.854" stop-color="#007dff"/><stop offset="0.875" stop-color="#0069ff"/><stop offset="0.896" stop-color="#0057ff"/><stop offset="0.917" stop-color="#004aff"/><stop offset="0.938" stop-color="#0040ff"/><stop offset="0.958" stop-color="#0036ff"/><stop offset="0.979" stop-color="#002cff"/><stop offset="1" stop-color="#0021ff"/></linearGradient><linearGradient id="g80" x1="0" y1="0" x2="0" y2="1"><stop offset="0" stop-color="#0064ff"/><stop offset="0.0208" stop-color="#006bff"/><stop offset="0.0417" stop-color="#0071ff"/><stop offset="0.0625" stop-color="#0078ff"/><stop offset="0.0833" stop-color="#0081ff"/><stop offset="0.104" stop-color="#008cff"/><stop offset="0.125" stop-color="#0099ff"/><stop offset="0.146" stop-color="#00b1ff"/><stop offset="0.167" stop-color="#00cfff"/><stop offset="0.188" stop-color="#00efff"/><stop offset="0.208" stop-color="#00ffec"/><stop offset="0.229" stop-color="#00ffc6"/><stop offset="0.25" stop-color="#00ff9f"/><stop offset="0.271" stop-color="#00ff78"/><stop offset="0.292" stop-color="#00ff4e"/><stop offset="0.312" stop-color="#00ff26"/><stop offset="0.333" stop-color="#00ff06"/><stop offset="0.354" stop-color="#19ff00"/><stop offset="0.375" stop-color="#37ff00"/><stop offset="0.396" stop-color="#58ff00"/><stop offset="0.417" stop-color="#7eff00"/><stop offset="0.438" stop-color="#a4ff00"/><stop offset="0.458" stop-color="#d0ff00"/><stop offset="0.479" stop-color="#fffc00"/><stop offset="0.5" stop-color="#ffc600"/><stop offset="0.521" stop-color="#ffa700"/><stop offset="0.542" stop-color="#ff9800"/><stop offset="0.562" stop-color="#ff9a00"/><stop offset="0.583" stop-color="#ffac00"/><stop offset="0.604" stop-color="#ffcf00"/><stop offset="0.625" stop-color="#feff00"/><stop offset="0.646" stop-color="#bcff00"/><stop offset="0.667" stop-color="#84ff00"/><stop offset="0.688" stop-color="#59ff00"/><stop offset="0.708" stop-color="#20ff00"/><stop offset="0.729" stop-color="#00ff1d"/><stop offset="0.75" stop-color="#00ff57"/><stop offset="0.771" stop-color="#00ff9d"/><stop offset="0.792" stop-color="#00fffd"/><stop offset="0.812" stop-color="#00cbff"/><stop offset="0.833" stop-color="#009fff"/><stop offset="0.854" stop-color="#007eff"/><stop offset="0.875" stop-color="#006aff"/><stop offset="0.896" stop-color="#0057ff"/><stop offset="0.917" stop-color="#004bff"/><stop offset="0.938" stop-color="#0041ff"/><stop offset="0.958" stop-color="#0037ff"/><stop offset="0.979" stop-color="#002cff"/><stop offset="1" stop-color="#0021ff"/></linearGradient><linearGradient id="g81" x1="0" y1="0" x2="0" y2="1"><stop offset="0" stop-color="#0065ff"/><stop offset="0.0208" stop-color="#006bff"/><stop offset="0.0417" stop-color="#0072ff"/><stop offset="0.0625" stop-color="#0079ff"/><stop offset="0.0833" stop-color="#0083ff"/><stop offset="0.104" stop-color="#008eff"/><stop offset="0.125" stop-color="#009eff"/><stop offset="0.146" stop-color="#00b7ff"/><stop offset="0.167" stop-color="#00d5ff"/><stop offset="0.188" stop-color="#00f6ff"/><stop offset="0.208" stop-color="#00ffe6"/><stop offset="0.229" stop-color="#00ffbf"/><stop offset="0.25" stop-color="#00ff98"/><stop offset="0.271" stop-color="#00ff72"/><stop offset="0.292" stop-color="#00ff48"/><stop offset="0.312" stop-color="#00ff22"/><stop offset="0.333" stop-color="#00ff02"/><stop offset="0.354" stop-color="#1cff00"/><stop offset="0.375" stop-color="#3aff00"/><stop offset="0.396" stop-color="#5cff00"/><stop offset="0.417" stop-color="#83ff00"/><stop offset="0.438" stop-color="#a9ff00"/><stop offset="0.458" stop-color="#d5ff00"/><stop offset="0.479" stop-color="#fff700"/><stop offset="0.5" stop-color="#ffc000"/><stop offset="0.521" stop-color="#ffa200"/><stop offset="0.542" stop-color="#ff9300"/><stop offset="0.562" stop-color="#ff9500"/><stop offset="0.583" stop-color="#ffa600"/><stop offset="0.604" stop-color="#ffcb00"/><stop offset="0.625" stop-color="#fffe00"/><stop offset="0.646" stop-color="#bfff00"/><stop offset="0.667" stop-color="#86ff00"/><stop offset="0.688" stop-color="#5aff00"/><stop offset="0.708" stop-color="#22ff00"/><stop offset="0.729" stop-color="#00ff1b"/><stop offset="0.75" stop-color="#00ff55"/><stop offset="0.771" stop-color="#00ff9a"/><stop offset="0.792" stop-color="#00fffa"/><stop offset="0.812" stop-color="#00cdff"/><stop offset="0.833" stop-color="#00a0ff"/><stop offset="0.854" stop-color="#007fff"/><stop offset="0.875" stop-color="#006aff"/><stop offset="0.896" stop-color="#0058ff"/><stop offset="0.917" stop-color="#004bff"/><stop offset="0.938" stop-color="#0041ff"/><stop offset="0.958" stop-color="#0037ff"/><stop offset="0.979" stop-color="#002cff"/><stop offset="1" stop-color="#0021ff"/></linearGradient><linearGradient id="g82" x1="0" y1="0" x2="0" y2="1"><stop offset="0" stop-color="#0065ff"/><stop offset="0.0208" stop-color="#006cff"/><stop offset="0.0417" stop-color="#0073ff"/><stop offset="0.0625" stop-color="#007bff"/><stop offset="0.0833" stop-color="#0085ff"/><stop offset="0.104" stop-color="#0090ff"/><stop offset="0.125" stop-color="#00a2ff"/><stop offset="0.146" stop-color="#00bdff"/><stop offset="0.167" stop-color="#00dcff"/><stop offset="0.188" stop-color="#00fdff"/><stop offset="0.208" stop-color="#00ffdf"/><stop offset="0.229" stop-color="#00ffb8"/><stop offset="0.25" stop-color="#00ff92"/><stop offset="0.271" stop-color="#00ff6b"/><stop offset="0.292" stop-color="#00ff42"/><stop offset="0.312" stop-color="#00ff1d"/><stop offset="0.333" stop-color="#02ff00"/><stop offset="0.354" stop-color="#20ff00"/><stop offset="0.375" stop-color="#3dff00"/><stop offset="0.396" stop-color="#61ff00"/><stop offset="0.417" stop-color="#88ff00"/><stop offset="0.438" stop-color="#afff00"/><stop offset="0.458" stop-color="#daff00"/><stop offset="0.479" stop-color="#fff100"/><stop offset="0.5" stop-color="#ffbb00"/><stop offset="0.521" stop-color="#ff9c00"/><stop offset="0.542" stop-color="#ff8f00"/><stop offset="0.562" stop-color="#ff9000"/><stop offset="0.583" stop-color="#ff9f00"/><stop offset="0.604" stop-color="#ffc600"/><stop offset="0.625" stop-color="#fffc00"/><stop offset="0.646" stop-color="#c1ff00"/><stop offset="0.667" stop-color="#87ff00"/><stop offset="0.688" stop-color="#5cff00"/><stop offset="0.708" stop-color="#24ff00"/><stop offset="0.729" stop-color="#00ff19"/><stop offset="0.75" stop-color="#00ff53"/><stop offset="0.771" stop-color="#00ff96"/><stop offset="0.792" stop-color="#00fff6"/><stop offset="0.812" stop-color="#00cfff"/><stop offset="0.833" stop-color="#00a1ff"/><stop offset="0.854" stop-color="#0080ff"/><stop offset="0.875" stop-color="#006bff"/><stop offset="0.896" stop-color="#0058ff"/><stop offset="0.917" stop-color="#004bff"/><stop offset="0.938" stop-color="#0041ff"/><stop offset="0.958" stop-color="#0037ff"/><stop offset="0.979" stop-color="#002cff"/><stop offset="1" stop-color="#0021ff"/></linearGradient><linearGradient id="g83" x1="0" y1="0" x2="0" y2="1"><stop offset="0" stop-color="#0065ff"/><stop offset="0.0208" stop-color="#006cff"/><stop offset="0.0417" stop-color="#0074ff"/><stop offset="0.0625" stop-color="#007cff"/><stop offset="0.0833" stop-color="#0086ff"/><stop offset="0.104" stop-color="#0091ff"/><stop offset="0.125" stop-color="#00a6ff"/><stop offset="0.146" stop-color="#00c3ff"/><stop offset="0.167" stop-color="#00e3ff"/><stop offset="0.188" stop-color="#00fffa"/><stop offset="0.208" stop-color="#00ffd8"/><stop offset="0.229" stop-color="#00ffb2"/><stop offset="0.25" stop-color="#00ff8b"/><stop offset="0.271" stop-color="#00ff64"/><stop offset="0.292" stop-color="#00ff3c"/><stop offset="0.312" stop-color="#00ff18"/><stop offset="0.333" stop-color="#06ff00"/><stop offset="0.354" stop-color="#23ff00"/><stop offset="0.375" stop-color="#40ff00"/><stop offset="0.396" stop-color="#65ff00"/><stop offset="0.417" stop-color="#8dff00"/><stop offset="0.438" stop-color="#b4ff00"/><stop offset="0.458" stop-color="#deff00"/><stop offset="0.479" stop-color="#ffec00"/><stop offset="0.5" stop-color="#ffb500"/><stop offset="0.521" stop-color="#ff9600"/><stop offset="0.542" stop-color="#ff8a00"/><stop offset="0.562" stop-color="#ff8b00"/><stop offset="0.583" stop-color="#ff9900"/><stop offset="0.604" stop-color="#ffc200"/><stop offset="0.625" stop-color="#fff900"/><stop offset="0.646" stop-color="#c4ff00"/><stop offset="0.667" stop-color="#89ff00"/><stop offset="0.688" stop-color="#5dff00"/><stop offset="0.708" stop-color="#27ff00"/><stop offset="0.729" stop-color="#00ff17"/><stop offset="0.75" stop-color="#00ff51"/><stop offset="0.771" stop-color="#00ff93"/><stop offset="0.792" stop-color="#00fff3"/><stop offset="0.812" stop-color="#00d0ff"/><stop offset="0.833" stop-color="#00a2ff"/><stop offset="0.854" stop-color="#0081ff"/><stop offset="0.875" stop-color="#006cff"/><stop offset="0.896" stop-color="#0059ff"/><stop offset="0.917" stop-color="#004bff"/><stop offset="0.938" stop-color="#0041ff"/><stop offset="0.958" stop-color="#0037ff"/><stop offset="0.979" stop-color="#002cff"/><stop offset="1" stop-color="#0021ff"/></linearGradient><linearGradient id="g84" x1="0" y1="0" x2="0" y2="1"><stop offset="0" stop-color="#0066ff"/><stop offset="0.0208" stop-color="#006dff"/><stop offset="0.0417" stop-color="#0074ff"/><stop offset="0.0625" stop-color="#007dff"/><stop offset="0.0833" stop-color="#0088ff"/><stop offset="0.104" stop-color="#0093ff"/><stop offset="0.125" stop-color="#00abff"/><stop offset="0.146" stop-color="#00c9ff"/><stop offset="0.167" stop-color="#00eaff"/><stop offset="0.188" stop-color="#00fff3"/><stop offset="0.208" stop-color="#00ffd2"/><stop offset="0.229" stop-color="#00ffab"/><stop offset="0.25" stop-color="#00ff84"/><stop offset="0.271" stop-color="#00ff5e"/><stop offset="0.292" stop-color="#00ff37"/><stop offset="0.312" stop-color="#00ff14"/><stop offset="0.333" stop-color="#0aff00"/><stop offset="0.354" stop-color="#26ff00"/><stop offset="0.375" stop-color="#42ff00"/><stop offset="0.396" stop-color="#69ff00"/><stop offset="0.417" stop-color="#92ff00"/><stop offset="0.438" stop-color="#baff00"/><stop offset="0.458" stop-color="#e3ff00"/><stop offset="0.479" stop-color="#ffe600"/><stop offset="0.5" stop-color="#ffaf00"/><stop offset="0.521" stop-color="#ff9100"/><stop offset="0.542" stop-color="#ff8500"/><stop offset="0.562" stop-color="#ff8700"/><stop offset="0.583" stop-color="#ff9300"/><stop offset="0.604" stop-color="#ffbe00"/><stop offset="0.625" stop-color="#fff700"/><stop offset="0.646" stop-color="#c6ff00"/><stop offset="0.667" stop-color="#8aff00"/><stop offset="0.688" stop-color="#5fff00"/><stop offset="0.708" stop-color="#29ff00"/><stop offset="0.729" stop-color="#00ff15"/><stop offset="0.75" stop-color="#00ff4f"/><stop offset="0.771" stop-color="#00ff90"/><stop offset="0.792" stop-color="#00fff0"/><stop offset="0.812" stop-color="#00d2ff"/><stop offset="0.833" stop-color="#00a3ff"/><stop offset="0.854" stop-color="#0082ff"/><stop offset="0.875" stop-color="#006cff"/><stop offset="0.896" stop-color="#005aff"/><stop offset="0.917" stop-color="#004cff"/><stop offset="0.938" stop-color="#0041ff"/><stop offset="0.958" stop-color="#0037ff"/><stop offset="0.979" stop-color="#002cff"/><stop offset="1" stop-color="#0021ff"/></linearGradient><linearGradient id="g85" x1="0" y1="0" x2="0" y2="1"><stop offset="0" stop-color="#0066ff"/><stop offset="0.0208" stop-color="#006eff"/><stop offset="0.0417" stop-color="#0075ff"/><stop offset="0.0625" stop-color="#007eff"/><stop offset="0.0833" stop-color="#008aff"/><stop offset="0.104" stop-color="#0095ff"/><stop offset="0.125" stop-color="#00afff"/><stop offset="0.146" stop-color="#00d0ff"/><stop offset="0.167" stop-color="#00f0ff"/><stop offset="0.188" stop-color="#00ffed"/><stop offset="0.208" stop-color="#00ffcb"/><stop offset="0.229" stop-color="#00ffa4"/><stop offset="0.25" stop-color="#00ff7e"/><stop offset="0.271" stop-color="#00ff57"/><stop offset="0.292" stop-color="#00ff31"/><stop offset="0.312" stop-color="#00ff0f"/><stop offset="0.333" stop-color="#0eff00"/><stop offset="0.354" stop-color="#2aff00"/><stop offset="0.375" stop-color="#45ff00"/><stop offset="0.396" stop-color="#6dff00"/><stop offset="0.417" stop-color="#97ff00"/><stop offset="0.438" stop-color="#bfff00"/><stop offset="0.458" stop-color="#e8ff00"/><stop offset="0.479" stop-color="#ffe000"/><stop offset="0.5" stop-color="#ffa900"/><stop offset="0.521" stop-color="#ff8b00"/><stop offset="0.542" stop-color="#ff8000"/><stop offset="0.562" stop-color="#ff8200"/><stop offset="0.583" stop-color="#ff8d00"/><stop offset="0.604" stop-color="#ffba00"/><stop offset="0.625" stop-color="#fff500"/><stop offset="0.646" stop-color="#c9ff00"/><stop offset="0.667" stop-color="#8cff00"/><stop offset="0.688" stop-color="#60ff00"/><stop offset="0.708" stop-color="#2bff00"/><stop offset="0.729" stop-color="#00ff13"/><stop offset="0.75" stop-color="#00ff4d"/><stop offset="0.771" stop-color="#00ff8c"/><stop offset="0.792" stop-color="#00ffed"/><stop offset="0.812" stop-color="#00d4ff"/><stop offset="0.833" stop-color="#00a4ff"/><stop offset="0.854" stop-color="#0083ff"/><stop offset="0.875" stop-color="#006dff"/><stop offset="0.896" stop-color="#005aff"/><stop offset="0.917" stop-color="#004cff"/><stop offset="0.938" stop-color="#0041ff"/><stop offset="0.958" stop-color="#0037ff"/><stop offset="0.979" stop-color="#002cff"/><stop offset="1" stop-color="#0021ff"/></linearGradient><linearGradient id="g86" x1="0" y1="0" x2="0" y2="1"><stop offset="0" stop-color="#0066ff"/><stop offset="0.0208" stop-color="#006dff"/><stop offset="0.0417" stop-color="#0075ff"/><stop offset="0.0625" stop-color="#007eff"/><stop offset="0.0833" stop-color="#0089ff"/><stop offset="0.104" stop-color="#0095ff"/><stop offset="0.125" stop-color="#00aeff"/><stop offset="0.146" stop-color="#00ceff"/><stop offset="0.167" stop-color="#00efff"/><stop offset="0.188" stop-color="#00ffee"/><stop offset="0.208" stop-color="#00ffcd"/><stop offset="0.229" stop-color="#00ffa6"/><stop offset="0.25" stop-color="#00ff80"/><stop offset="0.271" stop-color="#00ff59"/><stop offset="0.292" stop-color="#00ff32"/><stop offset="0.312" stop-color="#00ff11"/><stop offset="0.333" stop-color="#0dff00"/><stop offset="0.354" stop-color="#29ff00"/><stop offset="0.375" stop-color="#44ff00"/><stop offset="0.396" stop-color="#6cff00"/><stop offset="0.417" stop-color="#95ff00"/><stop offset="0.438" stop-color="#beff00"/><stop offset="0.458" stop-color="#e7ff00"/><stop offset="0.479" stop-color="#ffe200"/><stop offset="0.5" stop-color="#ffab00"/><stop offset="0.521" stop-color="#ff8d00"/><stop offset="0.542" stop-color="#ff8200"/><stop offset="0.562" stop-color="#ff8300"/><stop offset="0.583" stop-color="#ff8f00"/><stop offset="0.604" stop-color="#ffbb00"/><stop offset="0.625" stop-color="#fff500"/><stop offset="0.646" stop-color="#c8ff00"/><stop offset="0.667" stop-color="#8bff00"/><stop offset="0.688" stop-color="#60ff00"/><stop offset="0.708" stop-color="#2bff00"/><stop offset="0.729" stop-color="#00ff14"/><stop offset="0.75" stop-color="#00ff4e"/><stop offset="0.771" stop-color="#00ff8d"/><stop offset="0.792" stop-color="#00ffee"/><stop offset="0.812" stop-color="#00d4ff"/><stop offset="0.833" stop-color="#00a4ff"/><stop offset="0.854" stop-color="#0083ff"/><stop offset="0.875" stop-color="#006dff"/><stop offset="0.896" stop-color="#005aff"/><stop offset="0.917" stop-color="#004cff"/><stop offset="0.938" stop-color="#0041ff"/><stop offset="0.958" stop-color="#0037ff"/><stop offset="0.979" stop-color="#002cff"/><stop offset="1" stop-color="#0021ff"/></linearGradient><linearGradient id="g87" x1="0" y1="0" x2="0" y2="1"><stop offset="0" stop-color="#0065ff"/><stop offset="0.0208" stop-color="#006dff"/><stop offset="0.0417" stop-color="#0074ff"/><stop offset="0.0625" stop-color="#007dff"/><stop offset="0.0833" stop-color="#0087ff"/><stop offset="0.104" stop-color="#0093ff"/><stop offset="0.125" stop-color="#00aaff"/><stop offset="0.146" stop-color="#00c8ff"/><stop offset="0.167" stop-color="#00e8ff"/><stop offset="0.188" stop-color="#00fff5"/><stop offset="0.208" stop-color="#00ffd3"/><stop offset="0.229" stop-color="#00ffad"/><stop offset="0.25" stop-color="#00ff86"/><stop offset="0.271" stop-color="#00ff60"/><stop offset="0.292" stop-color="#00ff38"/><stop offset="0.312" stop-color="#00ff15"/><stop offset="0.333" stop-color="#09ff00"/><stop offset="0.354" stop-color="#25ff00"/><stop offset="0.375" stop-color="#41ff00"/><stop offset="0.396" stop-color="#68ff00"/><stop offset="0.417" stop-color="#90ff00"/><stop offset="0.438" stop-color="#b8ff00"/><stop offset="0.458" stop-color="#e2ff00"/><stop offset="0.479" stop-color="#ffe800"/><stop offset="0.5" stop-color="#ffb100"/><stop offset="0.521" stop-color="#ff9200"/><stop offset="0.542" stop-color="#ff8600"/><stop offset="0.562" stop-color="#ff8800"/><stop offset="0.583" stop-color="#ff9500"/><stop offset="0.604" stop-color="#ffbf00"/><stop offset="0.625" stop-color="#fff800"/><stop offset="0.646" stop-color="#c6ff00"/><stop offset="0.667" stop-color="#8aff00"/><stop offset="0.688" stop-color="#5eff00"/><stop offset="0.708" stop-color="#28ff00"/><stop offset="0.729" stop-color="#00ff16"/><stop offset="0.75" stop-color="#00ff50"/><stop offset="0.771" stop-color="#00ff90"/><stop offset="0.792" stop-color="#00fff1"/><stop offset="0.812" stop-color="#00d2ff"/><stop offset="0.833" stop-color="#00a3ff"/><stop offset="0.854" stop-color="#0082ff"/><stop offset="0.875" stop-color="#006cff"/><stop offset="0.896" stop-color="#005aff"/><stop offset="0.917" stop-color="#004cff"/><stop offset="0.938" stop-color="#0041ff"/><stop offset="0.958" stop-color="#0037ff"/><stop offset="0.979" stop-color="#002cff"/><stop offset="1" stop-color="#0021ff"/></linearGradient><linearGradient id="g88" x1="0" y1="0" x2="0" y2="1"><stop offset="0" stop-color="#0065ff"/><stop offset="0.0208" stop-color="#006cff"/><stop offset="0.0417" stop-color="#0073ff"/><stop offset="0.0625" stop-color="#007bff"/><stop offset="0.0833" stop-color="#0086ff"/><stop offset="0.104" stop-color="#0091ff"/><stop offset="0.125" stop-color="#00a5ff"/><stop offset="0.146" stop-color="#00c2ff"/><stop offset="0.167" stop-color="#00e1ff"/><stop offset="0.188" stop-color="#00fffc"/><stop offset="0.208" stop-color="#00ffda"/><stop offset="0.229" stop-color="#00ffb3"/><stop offset="0.25" stop-color="#00ff8d"/><stop offset="0.271" stop-color="#00ff66"/><stop offset="0.292" stop-color="#00ff3e"/><stop offset="0.312" stop-color="#00ff1a"/><stop offset="0.333" stop-color="#05ff00"/><stop offset="0.354" stop-color="#22ff00"/><stop offset="0.375" stop-color="#3fff00"/><stop offset="0.396" stop-color="#64ff00"/><stop offset="0.417" stop-color="#8bff00"/><stop offset="0.438" stop-color="#b3ff00"/><stop offset="0.458" stop-color="#ddff00"/><stop offset="0.479" stop-color="#ffed00"/><stop offset="0.5" stop-color="#ffb600"/><stop offset="0.521" stop-color="#ff9800"/><stop offset="0.542" stop-color="#ff8b00"/><stop offset="0.562" stop-color="#ff8d00"/><stop offset="0.583" stop-color="#ff9b00"/><stop offset="0.604" stop-color="#ffc300"/><stop offset="0.625" stop-color="#fffa00"/><stop offset="0.646" stop-color="#c3ff00"/><stop offset="0.667" stop-color="#88ff00"/><stop offset="0.688" stop-color="#5dff00"/><stop offset="0.708" stop-color="#26ff00"/><stop offset="0.729" stop-color="#00ff18"/><stop offset="0.75" stop-color="#00ff52"/><stop offset="0.771" stop-color="#00ff94"/><stop offset="0.792" stop-color="#00fff4"/><stop offset="0.812" stop-color="#00d0ff"/><stop offset="0.833" stop-color="#00a2ff"/><stop offset="0.854" stop-color="#0081ff"/><stop offset="0.875" stop-color="#006bff"/><stop offset="0.896" stop-color="#0059ff"/><stop offset="0.917" stop-color="#004bff"/><stop offset="0.938" stop-color="#0041ff"/><stop offset="0.958" stop-color="#0037ff"/><stop offset="0.979" stop-color="#002cff"/><stop offset="1" stop-color="#0021ff"/></linearGradient><linearGradient id="g89" x1="0" y1="0" x2="0" y2="1"><stop offset="0" stop-color="#0065ff"/><stop offset="0.0208" stop-color="#006cff"/><stop offset="0.0417" stop-color="#0073ff"/><stop offset="0.0625" stop-color="#007aff"/><stop offset="0.0833" stop-color="#0084ff"/><stop offset="0.104" stop-color="#008fff"/><stop offset="0.125" stop-color="#00a1ff"/><stop offset="0.146" stop-color="#00bcff"/><stop offset="0.167" stop-color="#00daff"/><stop offset="0.188" stop-color="#00fbff"/><stop offset="0.208" stop-color="#00ffe1"/><stop offset="0.229" stop-color="#00ffba"/><stop offset="0.25" stop-color="#00ff94"/><stop offset="0.271" stop-color="#00ff6d"/><stop offset="0.292" stop-color="#00ff44"/><stop offset="0.312" stop-color="#00ff1e"/><stop offset="0.333" stop-color="#01ff00"/><stop offset="0.354" stop-color="#1fff00"/><stop offset="0.375" stop-color="#3cff00"/><stop offset="0.396" stop-color="#5fff00"/><stop offset="0.417" stop-color="#87ff00"/><stop offset="0.438" stop-color="#adff00"/><stop offset="0.458" stop-color="#d8ff00"/><stop offset="0.479" stop-color="#fff300"/><stop offset="0.5" stop-color="#ffbc00"/><stop offset="0.521" stop-color="#ff9e00"/><stop offset="0.542" stop-color="#ff9000"/><stop offset="0.562" stop-color="#ff9100"/><stop offset="0.583" stop-color="#ffa100"/><stop offset="0.604" stop-color="#ffc800"/><stop offset="0.625" stop-color="#fffc00"/><stop offset="0.646" stop-color="#c0ff00"/><stop offset="0.667" stop-color="#87ff00"/><stop offset="0.688" stop-color="#5bff00"/><stop offset="0.708" stop-color="#24ff00"/><stop offset="0.729" stop-color="#00ff1a"/><stop offset="0.75" stop-color="#00ff54"/><stop offset="0.771" stop-color="#00ff97"/><stop offset="0.792" stop-color="#00fff7"/><stop offset="0.812" stop-color="#00ceff"/><stop offset="0.833" stop-color="#00a1ff"/><stop offset="0.854" stop-color="#0080ff"/><stop offset="0.875" stop-color="#006bff"/><stop offset="0.896" stop-color="#0058ff"/><stop offset="0.917" stop-color="#004bff"/><stop offset="0.938" stop-color="#0041ff"/><stop offset="0.958" stop-color="#0037ff"/><stop offset="0.979" stop-color="#002cff"/><stop offset="1" stop-color="#0021ff"/></linearGradient><linearGradient id="g90" x1="0" y1="0" x2="0" y2="1"><stop offset="0" stop-color="#0065ff"/><stop offset="0.0208" stop-color="#006bff"/><stop offset="0.0417" stop-color="#0072ff"/><stop offset="0.0625" stop-color="#0079ff"/><stop offset="0.0833" stop-color="#0082ff"/><stop offset="0.104" stop-color="#008dff"/><stop offset="0.125" stop-color="#009cff"/><stop offset="0.146" stop-color="#00b5ff"/><stop offset="0.167" stop-color="#00d3ff"/><stop offset="0.188" stop-color="#00f4ff"/><stop offset="0.208" stop-color="#00ffe7"/><stop offset="0.229" stop-color="#00ffc1"/><stop offset="0.25" stop-color="#00ff9a"/><stop offset="0.271" stop-color="#00ff74"/><stop offset="0.292" stop-color="#00ff4a"/><stop offset="0.312" stop-color="#00ff23"/><stop offset="0.333" stop-color="#00ff03"/><stop offset="0.354" stop-color="#1cff00"/><stop offset="0.375" stop-color="#39ff00"/><stop offset="0.396" stop-color="#5bff00"/><stop offset="0.417" stop-color="#82ff00"/><stop offset="0.438" stop-color="#a8ff00"/><stop offset="0.458" stop-color="#d4ff00"/><stop offset="0.479" stop-color="#fff800"/><stop offset="0.5" stop-color="#ffc200"/><stop offset="0.521" stop-color="#ffa300"/><stop offset="0.542" stop-color="#ff9500"/><stop offset="0.562" stop-color="#ff9600"/><stop offset="0.583" stop-color="#ffa700"/><stop offset="0.604" stop-color="#ffcc00"/><stop offset="0.625" stop-color="#ffff00"/><stop offset="0.646" stop-color="#beff00"/><stop offset="0.667" stop-color="#85ff00"/><stop offset="0.688" stop-color="#5aff00"/><stop offset="0.708" stop-color="#22ff00"/><stop offset="0.729" stop-color="#00ff1c"/><stop offset="0.75" stop-color="#00ff56"/><stop offset="0.771" stop-color="#00ff9a"/><stop offset="0.792" stop-color="#00fffa"/><stop offset="0.812" stop-color="#00ccff"/><stop offset="0.833" stop-color="#00a0ff"/><stop offset="0.854" stop-color="#007fff"/><stop offset="0.875" stop-color="#006aff"/><stop offset="0.896" stop-color="#0058ff"/><stop offset="0.917" stop-color="#004bff"/><stop offset="0.938" stop-color="#0041ff"/><stop offset="0.958" stop-color="#0037ff"/><stop offset="0.979" stop-color="#002cff"/><stop offset="1" stop-color="#0021ff"/></linearGradient><linearGradient id="g91" x1="0" y1="0" x2="0" y2="1"><stop offset="0" stop-color="#0064ff"/><stop offset="0.0208" stop-color="#006bff"/><stop offset="0.0417" stop-color="#0071ff"/><stop offset="0.0625" stop-color="#0078ff"/><stop offset="0.0833" stop-color="#0081ff"/><stop offset="0.104" stop-color="#008cff"/><stop offset="0.125" stop-color="#0098ff"/><stop offset="0.146" stop-color="#00afff"/><stop offset="0.167" stop-color="#00cdff"/><stop offset="0.188" stop-color="#00edff"/><stop offset="0.208" stop-color="#00ffee"/><stop offset="0.229" stop-color="#00ffc7"/><stop offset="0.25" stop-color="#00ffa1"/><stop offset="0.271" stop-color="#00ff7a"/><stop offset="0.292" stop-color="#00ff4f"/><stop offset="0.312" stop-color="#00ff27"/><stop offset="0.333" stop-color="#00ff07"/><stop offset="0.354" stop-color="#18ff00"/><stop offset="0.375" stop-color="#37ff00"/><stop offset="0.396" stop-color="#57ff00"/><stop offset="0.417" stop-color="#7dff00"/><stop offset="0.438" stop-color="#a2ff00"/><stop offset="0.458" stop-color="#cfff00"/><stop offset="0.479" stop-color="#fffe00"/><stop offset="0.5" stop-color="#ffc800"/><stop offset="0.521" stop-color="#ffa900"/><stop offset="0.542" stop-color="#ff9900"/><stop offset="0.562" stop-color="#ff9b00"/><stop offset="0.583" stop-color="#ffad00"/><stop offset="0.604" stop-color="#ffd000"/><stop offset="0.625" stop-color="#fdff00"/><stop offset="0.646" stop-color="#bbff00"/><stop offset="0.667" stop-color="#84ff00"/><stop offset="0.688" stop-color="#58ff00"/><stop offset="0.708" stop-color="#1fff00"/><stop offset="0.729" stop-color="#00ff1e"/><stop offset="0.75" stop-color="#00ff58"/><stop offset="0.771" stop-color="#00ff9e"/><stop offset="0.792" stop-color="#00fffe"/><stop offset="0.812" stop-color="#00caff"/><stop offset="0.833" stop-color="#009eff"/><stop offset="0.854" stop-color="#007dff"/><stop offset="0.875" stop-color="#006aff"/><stop offset="0.896" stop-color="#0057ff"/><stop offset="0.917" stop-color="#004bff"/><stop offset="0.938" stop-color="#0041ff"/><stop offset="0.958" stop-color="#0036ff"/><stop offset="0.979" stop-color="#002cff"/><stop offset="1" stop-color="#0021ff"/></linearGradient><linearGradient id="g92" x1="0" y1="0" x2="0" y2="1"><stop offset="0" stop-color="#0064ff"/><stop offset="0.0208" stop-color="#006aff"/><stop offset="0.0417" stop-color="#0070ff"/><stop offset="0.0625" stop-color="#0077ff"/><stop offset="0.0833" stop-color="#007fff"/><stop offset="0.104" stop-color="#0089ff"/><stop offset="0.125" stop-color="#0094ff"/><stop offset="0.146" stop-color="#00a9ff"/><stop offset="0.167" stop-color="#00c5ff"/><stop offset="0.188" stop-color="#00e5ff"/><stop offset="0.208" stop-color="#00fff7"/><stop offset="0.229" stop-color="#00ffd1"/><stop offset="0.25" stop-color="#00ffab"/><stop offset="0.271" stop-color="#00ff84"/><stop offset="0.292" stop-color="#00ff59"/><stop offset="0.312" stop-color="#00ff30"/><stop offset="0.333" stop-color="#00ff0e"/><stop offset="0.354" stop-color="#12ff00"/><stop offset="0.375" stop-color="#31ff00"/><stop offset="0.396" stop-color="#51ff00"/><stop offset="0.417" stop-color="#75ff00"/><stop offset="0.438" stop-color="#9aff00"/><stop offset="0.458" stop-color="#c6ff00"/><stop offset="0.479" stop-color="#f6ff00"/><stop offset="0.5" stop-color="#ffd300"/><stop offset="0.521" stop-color="#ffb400"/><stop offset="0.542" stop-color="#ffa300"/><stop offset="0.562" stop-color="#ffa500"/><stop offset="0.583" stop-color="#ffb800"/><stop offset="0.604" stop-color="#ffda00"/><stop offset="0.625" stop-color="#f5ff00"/><stop offset="0.646" stop-color="#b4ff00"/><stop offset="0.667" stop-color="#7dff00"/><stop offset="0.688" stop-color="#52ff00"/><stop offset="0.708" stop-color="#1bff00"/><stop offset="0.729" stop-color="#00ff21"/><stop offset="0.75" stop-color="#00ff5b"/><stop offset="0.771" stop-color="#00ffa2"/><stop offset="0.792" stop-color="#00fdff"/><stop offset="0.812" stop-color="#00c8ff"/><stop offset="0.833" stop-color="#009dff"/><stop offset="0.854" stop-color="#007cff"/><stop offset="0.875" stop-color="#0069ff"/><stop offset="0.896" stop-color="#0056ff"/><stop offset="0.917" stop-color="#004aff"/><stop offset="0.938" stop-color="#0040ff"/><stop offset="0.958" stop-color="#0036ff"/><stop offset="0.979" stop-color="#002cff"/><stop offset="1" stop-color="#0021ff"/></linearGradient><linearGradient id="g93" x1="0" y1="0" x2="0" y2="1"><stop offset="0" stop-color="#0063ff"/><stop offset="0.0208" stop-color="#0069ff"/><stop offset="0.0417" stop-color="#006fff"/><stop offset="0.0625" stop-color="#0075ff"/><stop offset="0.0833" stop-color="#007dff"/><stop offset="0.104" stop-color="#0086ff"/><stop offset="0.125" stop-color="#0091ff"/><stop offset="0.146" stop-color="#00a2ff"/><stop offset="0.167" stop-color="#00baff"/><stop offset="0.188" stop-color="#00d8ff"/><stop offset="0.208" stop-color="#00f8ff"/><stop offset="0.229" stop-color="#00ffe3"/><stop offset="0.25" stop-color="#00ffbd"/><stop offset="0.271" stop-color="#00ff97"/><stop offset="0.292" stop-color="#00ff6d"/><stop offset="0.312" stop-color="#00ff44"/><stop offset="0.333" stop-color="#00ff1f"/><stop offset="0.354" stop-color="#04ff00"/><stop offset="0.375" stop-color="#24ff00"/><stop offset="0.396" stop-color="#44ff00"/><stop offset="0.417" stop-color="#66ff00"/><stop offset="0.438" stop-color="#89ff00"/><stop offset="0.458" stop-color="#b0ff00"/><stop offset="0.479" stop-color="#dfff00"/><stop offset="0.5" stop-color="#ffee00"/><stop offset="0.521" stop-color="#ffcf00"/><stop offset="0.542" stop-color="#ffbc00"/><stop offset="0.562" stop-color="#ffbd00"/><stop offset="0.583" stop-color="#ffcf00"/><stop offset="0.604" stop-color="#fff100"/><stop offset="0.625" stop-color="#ddff00"/><stop offset="0.646" stop-color="#9eff00"/><stop offset="0.667" stop-color="#66ff00"/><stop offset="0.688" stop-color="#3fff00"/><stop offset="0.708" stop-color="#12ff00"/><stop offset="0.729" stop-color="#00ff27"/><stop offset="0.75" stop-color="#00ff5f"/><stop offset="0.771" stop-color="#00ffa9"/><stop offset="0.792" stop-color="#00f9ff"/><stop offset="0.812" stop-color="#00c4ff"/><stop offset="0.833" stop-color="#009bff"/><stop offset="0.854" stop-color="#007bff"/><stop offset="0.875" stop-color="#0068ff"/><stop offset="0.896" stop-color="#0056ff"/><stop offset="0.917" stop-color="#004aff"/><stop offset="0.938" stop-color="#0040ff"/><stop offset="0.958" stop-color="#0036ff"/><stop offset="0.979" stop-color="#002cff"/><stop offset="1" stop-color="#0021ff"/></linearGradient><linearGradient id="g94" x1="0" y1="0" x2="0" y2="1"><stop offset="0" stop-color="#0062ff"/><stop offset="0.0208" stop-color="#0068ff"/><stop offset="0.0417" stop-color="#006eff"/><stop offset="0.0625" stop-color="#0074ff"/><stop offset="0.0833" stop-color="#007aff"/><stop offset="0.104" stop-color="#0083ff"/><stop offset="0.125" stop-color="#008dff"/><stop offset="0.146" stop-color="#009bff"/><stop offset="0.167" stop-color="#00b0ff"/><stop offset="0.188" stop-color="#00ccff"/><stop offset="0.208" stop-color="#00e9ff"/><stop offset="0.229" stop-color="#00fff5"/><stop offset="0.25" stop-color="#00ffd0"/><stop offset="0.271" stop-color="#00ffa9"/><stop offset="0.292" stop-color="#00ff81"/><stop offset="0.312" stop-color="#00ff59"/><stop offset="0.333" stop-color="#00ff30"/><stop offset="0.354" stop-color="#00ff0b"/><stop offset="0.375" stop-color="#18ff00"/><stop offset="0.396" stop-color="#37ff00"/><stop offset="0.417" stop-color="#57ff00"/><stop offset="0.438" stop-color="#78ff00"/><stop offset="0.458" stop-color="#9bff00"/><stop offset="0.479" stop-color="#c7ff00"/><stop offset="0.5" stop-color="#f4ff00"/><stop offset="0.521" stop-color="#ffe900"/><stop offset="0.542" stop-color="#ffd400"/><stop offset="0.562" stop-color="#ffd400"/><stop offset="0.583" stop-color="#ffe600"/><stop offset="0.604" stop-color="#f5ff00"/><stop offset="0.625" stop-color="#c5ff00"/><stop offset="0.646" stop-color="#89ff00"/><stop offset="0.667" stop-color="#50ff00"/><stop offset="0.688" stop-color="#2dff00"/><stop offset="0.708" stop-color="#09ff00"/><stop offset="0.729" stop-color="#00ff2e"/><stop offset="0.75" stop-color="#00ff64"/><stop offset="0.771" stop-color="#00ffaf"/><stop offset="0.792" stop-color="#00f6ff"/><stop offset="0.812" stop-color="#00c1ff"/><stop offset="0.833" stop-color="#0098ff"/><stop offset="0.854" stop-color="#0079ff"/><stop offset="0.875" stop-color="#0068ff"/><stop offset="0.896" stop-color="#0056ff"/><stop offset="0.917" stop-color="#004aff"/><stop offset="0.938" stop-color="#0040ff"/><stop offset="0.958" stop-color="#0036ff"/><stop offset="0.979" stop-color="#002cff"/><stop offset="1" stop-color="#0021ff"/></linearGradient><linearGradient id="g95" x1="0" y1="0" x2="0" y2="1"><stop offset="0" stop-color="#0061ff"/><stop offset="0.0208" stop-color="#0067ff"/><stop offset="0.0417" stop-color="#006cff"/><stop offset="0.0625" stop-color="#0072ff"/><stop offset="0.0833" stop-color="#0078ff"/><stop offset="0.104" stop-color="#0080ff"/><stop offset="0.125" stop-color="#008aff"/><stop offset="0.146" stop-color="#0094ff"/><stop offset="0.167" stop-color="#00a6ff"/><stop offset="0.188" stop-color="#00bfff"/><stop offset="0.208" stop-color="#00daff"/><stop offset="0.229" stop-color="#00f7ff"/><stop offset="0.25" stop-color="#00ffe2"/><stop offset="0.271" stop-color="#00ffbc"/><stop offset="0.292" stop-color="#00ff95"/><stop offset="0.312" stop-color="#00ff6c"/><stop offset="0.333" stop-color="#00ff41"/><stop offset="0.354" stop-color="#00ff19"/><stop offset="0.375" stop-color="#0bff00"/><stop offset="0.396" stop-color="#2aff00"/><stop offset="0.417" stop-color="#49ff00"/><stop offset="0.438" stop-color="#68ff00"/><stop offset="0.458" stop-color="#87ff00"/><stop offset="0.479" stop-color="#b1ff00"/><stop offset="0.5" stop-color="#daff00"/><stop offset="0.521" stop-color="#fbff00"/><stop offset="0.542" stop-color="#ffec00"/><stop offset="0.562" stop-color="#ffec00"/><stop offset="0.583" stop-color="#fffe00"/><stop offset="0.604" stop-color="#deff00"/><stop offset="0.625" stop-color="#aeff00"/><stop offset="0.646" stop-color="#74ff00"/><stop offset="0.667" stop-color="#3bff00"/><stop offset="0.688" stop-color="#1bff00"/><stop offset="0.708" stop-color="#00ff00"/><stop offset="0.729" stop-color="#00ff34"/><stop offset="0.75" stop-color="#00ff69"/><stop offset="0.771" stop-color="#00ffb6"/><stop offset="0.792" stop-color="#00f2ff"/><stop offset="0.812" stop-color="#00bdff"/><stop offset="0.833" stop-color="#0096ff"/><stop offset="0.854" stop-color="#0078ff"/><stop offset="0.875" stop-color="#0067ff"/><stop offset="0.896" stop-color="#0056ff"/><stop offset="0.917" stop-color="#004aff"/><stop offset="0.938" stop-color="#0040ff"/><stop offset="0.958" stop-color="#0036ff"/><stop offset="0.979" stop-color="#002cff"/><stop offset="1" stop-color="#0021ff"/></linearGradient><linearGradient id="g96" x1="0" y1="0" x2="0" y2="1"><stop offset="0" stop-color="#0061ff"/><stop offset="0.0208" stop-color="#0066ff"/><stop offset="0.0417" stop-color="#006cff"/><stop offset="0.0625" stop-color="#0071ff"/><stop offset="0.0833" stop-color="#0077ff"/><stop offset="0.104" stop-color="#007eff"/><stop offset="0.125" stop-color="#0087ff"/><stop offset="0.146" stop-color="#0091ff"/><stop offset="0.167" stop-color="#00a1ff"/><stop offset="0.188" stop-color="#00b6ff"/><stop offset="0.208" stop-color="#00cdff"/><stop offset="0.229" stop-color="#00eaff"/><stop offset="0.25" stop-color="#00fff1"/><stop offset="0.271" stop-color="#00ffcc"/><stop offset="0.292" stop-color="#00ffa5"/><stop offset="0.312" stop-color="#00ff7b"/><stop offset="0.333" stop-color="#00ff50"/><stop offset="0.354" stop-color="#00ff27"/><stop offset="0.375" stop-color="#00ff01"/><stop offset="0.396" stop-color="#1fff00"/><stop offset="0.417" stop-color="#3fff00"/><stop offset="0.438" stop-color="#5fff00"/><stop offset="0.458" stop-color="#7eff00"/><stop offset="0.479" stop-color="#a4ff00"/><stop offset="0.5" stop-color="#c8ff00"/><stop offset="0.521" stop-color="#e4ff00"/><stop offset="0.542" stop-color="#f8ff00"/><stop offset="0.562" stop-color="#f9ff00"/><stop offset="0.583" stop-color="#e8ff00"/><stop offset="0.604" stop-color="#cbff00"/><stop offset="0.625" stop-color="#9dff00"/><stop offset="0.646" stop-color="#67ff00"/><stop offset="0.667" stop-color="#36ff00"/><stop offset="0.688" stop-color="#16ff00"/><stop offset="0.708" stop-color="#00ff0a"/><stop offset="0.729" stop-color="#00ff3d"/><stop offset="0.75" stop-color="#00ff70"/><stop offset="0.771" stop-color="#00ffbf"/><stop offset="0.792" stop-color="#00eeff"/><stop offset="0.812" stop-color="#00b9ff"/><stop offset="0.833" stop-color="#0094ff"/><stop offset="0.854" stop-color="#0077ff"/><stop offset="0.875" stop-color="#0066ff"/><stop offset="0.896" stop-color="#0055ff"/><stop offset="0.917" stop-color="#004aff"/><stop offset="0.938" stop-color="#0040ff"/><stop offset="0.958" stop-color="#0036ff"/><stop offset="0.979" stop-color="#002cff"/><stop offset="1" stop-color="#0021ff"/></linearGradient><linearGradient id="g97" x1="0" y1="0" x2="0" y2="1"><stop offset="0" stop-color="#0061ff"/><stop offset="0.0208" stop-color="#0066ff"/><stop offset="0.0417" stop-color="#006bff"/><stop offset="0.0625" stop-color="#0070ff"/><stop offset="0.0833" stop-color="#0076ff"/><stop offset="0.104" stop-color="#007cff"/><stop offset="0.125" stop-color="#0085ff"/><stop offset="0.146" stop-color="#008eff"/><stop offset="0.167" stop-color="#009bff"/><stop offset="0.188" stop-color="#00adff"/><stop offset="0.208" stop-color="#00c1ff"/><stop offset="0.229" stop-color="#00dcff"/><stop offset="0.25" stop-color="#00feff"/><stop offset="0.271" stop-color="#00ffdc"/><stop offset="0.292" stop-color="#00ffb4"/><stop offset="0.312" stop-color="#00ff8a"/><stop offset="0.333" stop-color="#00ff5f"/><stop offset="0.354" stop-color="#00ff35"/><stop offset="0.375" stop-color="#00ff0e"/><stop offset="0.396" stop-color="#15ff00"/><stop offset="0.417" stop-color="#35ff00"/><stop offset="0.438" stop-color="#56ff00"/><stop offset="0.458" stop-color="#75ff00"/><stop offset="0.479" stop-color="#96ff00"/><stop offset="0.5" stop-color="#b7ff00"/><stop offset="0.521" stop-color="#ccff00"/><stop offset="0.542" stop-color="#deff00"/><stop offset="0.562" stop-color="#e1ff00"/><stop offset="0.583" stop-color="#d0ff00"/><stop offset="0.604" stop-color="#b9ff00"/><stop offset="0.625" stop-color="#8bff00"/><stop offset="0.646" stop-color="#5aff00"/><stop offset="0.667" stop-color="#31ff00"/><stop offset="0.688" stop-color="#11ff00"/><stop offset="0.708" stop-color="#00ff14"/><stop offset="0.729" stop-color="#00ff46"/><stop offset="0.75" stop-color="#00ff77"/><stop offset="0.771" stop-color="#00ffc8"/><stop offset="0.792" stop-color="#00ebff"/><stop offset="0.812" stop-color="#00b6ff"/><stop offset="0.833" stop-color="#0092ff"/><stop offset="0.854" stop-color="#0075ff"/><stop offset="0.875" stop-color="#0065ff"/><stop offset="0.896" stop-color="#0054ff"/><stop offset="0.917" stop-color="#0049ff"/><stop offset="0.938" stop-color="#0040ff"/><stop offset="0.958" stop-color="#0036ff"/><stop offset="0.979" stop-color="#002cff"/><stop offset="1" stop-color="#0021ff"/></linearGradient><linearGradient id="g98" x1="0" y1="0" x2="0" y2="1"><stop offset="0" stop-color="#0061ff"/><stop offset="0.0208" stop-color="#0066ff"/><stop offset="0.0417" stop-color="#006bff"/><stop offset="0.0625" stop-color="#006fff"/><stop offset="0.0833" stop-color="#0074ff"/><stop offset="0.104" stop-color="#0079ff"/><stop offset="0.125" stop-color="#0082ff"/><stop offset="0.146" stop-color="#008cff"/><stop offset="0.167" stop-color="#0096ff"/><stop offset="0.188" stop-color="#00a4ff"/><stop offset="0.208" stop-color="#00b4ff"/><stop offset="0.229" stop-color="#00ceff"/><stop offset="0.25" stop-color="#00efff"/><stop offset="0.271" stop-color="#00ffeb"/><stop offset="0.292" stop-color="#00ffc4"/><stop offset="0.312" stop-color="#00ff99"/><stop offset="0.333" stop-color="#00ff6e"/><stop offset="0.354" stop-color="#00ff43"/><stop offset="0.375" stop-color="#00ff1a"/><stop offset="0.396" stop-color="#0bff00"/><stop offset="0.417" stop-color="#2cff00"/><stop offset="0.438" stop-color="#4dff00"/><stop offset="0.458" stop-color="#6dff00"/><stop offset="0.479" stop-color="#89ff00"/><stop offset="0.5" stop-color="#a5ff00"/><stop offset="0.521" stop-color="#b5ff00"/><stop offset="0.542" stop-color="#c5ff00"/><stop offset="0.562" stop-color="#c9ff00"/><stop offset="0.583" stop-color="#b8ff00"/><stop offset="0.604" stop-color="#a6ff00"/><stop offset="0.625" stop-color="#7aff00"/><stop offset="0.646" stop-color="#4dff00"/><stop offset="0.667" stop-color="#2cff00"/><stop offset="0.688" stop-color="#0cff00"/><stop offset="0.708" stop-color="#00ff1e"/><stop offset="0.729" stop-color="#00ff4e"/><stop offset="0.75" stop-color="#00ff7f"/><stop offset="0.771" stop-color="#00ffd1"/><stop offset="0.792" stop-color="#00e7ff"/><stop offset="0.812" stop-color="#00b2ff"/><stop offset="0.833" stop-color="#008fff"/><stop offset="0.854" stop-color="#0074ff"/><stop offset="0.875" stop-color="#0063ff"/><stop offset="0.896" stop-color="#0052ff"/><stop offset="0.917" stop-color="#0049ff"/><stop offset="0.938" stop-color="#0040ff"/><stop offset="0.958" stop-color="#0036ff"/><stop offset="0.979" stop-color="#002cff"/><stop offset="1" stop-color="#0021ff"/></linearGradient><linearGradient id="g99" x1="0" y1="0" x2="0" y2="1"><stop offset="0" stop-color="#0060ff"/><stop offset="0.0208" stop-color="#0065ff"/><stop offset="0.0417" stop-color="#006aff"/><stop offset="0.0625" stop-color="#006eff"/><stop offset="0.0833" stop-color="#0073ff"/><stop offset="0.104" stop-color="#0078ff"/><stop offset="0.125" stop-color="#007fff"/><stop offset="0.146" stop-color="#0089ff"/><stop offset="0.167" stop-color="#0093ff"/><stop offset="0.188" stop-color="#009fff"/><stop offset="0.208" stop-color="#00aeff"/><stop offset="0.229" stop-color="#00c6ff"/><stop offset="0.25" stop-color="#00e5ff"/><stop offset="0.271" stop-color="#00fff6"/><stop offset="0.292" stop-color="#00ffcf"/><stop offset="0.312" stop-color="#00ffa5"/><stop offset="0.333" stop-color="#00ff7a"/><stop offset="0.354" stop-color="#00ff50"/><stop offset="0.375" stop-color="#00ff28"/><stop offset="0.396" stop-color="#00ff02"/><stop offset="0.417" stop-color="#20ff00"/><stop offset="0.438" stop-color="#3eff00"/><stop offset="0.458" stop-color="#5cff00"/><stop offset="0.479" stop-color="#76ff00"/><stop offset="0.5" stop-color="#8fff00"/><stop offset="0.521" stop-color="#9eff00"/><stop offset="0.542" stop-color="#aeff00"/><stop offset="0.562" stop-color="#b1ff00"/><stop offset="0.583" stop-color="#9fff00"/><stop offset="0.604" stop-color="#8dff00"/><stop offset="0.625" stop-color="#66ff00"/><stop offset="0.646" stop-color="#3dff00"/><stop offset="0.667" stop-color="#1dff00"/><stop offset="0.688" stop-color="#00ff04"/><stop offset="0.708" stop-color="#00ff2d"/><stop offset="0.729" stop-color="#00ff59"/><stop offset="0.75" stop-color="#00ff8d"/><stop offset="0.771" stop-color="#00ffdd"/><stop offset="0.792" stop-color="#00e0ff"/><stop offset="0.812" stop-color="#00adff"/><stop offset="0.833" stop-color="#008bff"/><stop offset="0.854" stop-color="#0072ff"/><stop offset="0.875" stop-color="#0061ff"/><stop offset="0.896" stop-color="#0050ff"/><stop offset="0.917" stop-color="#0047ff"/><stop offset="0.938" stop-color="#003eff"/><stop offset="0.958" stop-color="#0035ff"/><stop offset="0.979" stop-color="#002bff"/><stop offset="1" stop-color="#0021ff"/></linearGradient><linearGradient id="g100" x1="0" y1="0" x2="0" y2="1"><stop offset="0" stop-color="#005fff"/><stop offset="0.0208" stop-color="#0064ff"/><stop offset="0.0417" stop-color="#0069ff"/><stop offset="0.0625" stop-color="#006dff"/><stop offset="0.0833" stop-color="#0072ff"/><stop offset="0.104" stop-color="#0077ff"/><stop offset="0.125" stop-color="#007dff"/><stop offset="0.146" stop-color="#0086ff"/><stop offset="0.167" stop-color="#0090ff"/><stop offset="0.188" stop-color="#009cff"/><stop offset="0.208" stop-color="#00aaff"/><stop offset="0.229" stop-color="#00beff"/><stop offset="0.25" stop-color="#00dcff"/><stop offset="0.271" stop-color="#00feff"/><stop offset="0.292" stop-color="#00ffda"/><stop offset="0.312" stop-color="#00ffb1"/><stop offset="0.333" stop-color="#00ff86"/><stop offset="0.354" stop-color="#00ff5d"/><stop offset="0.375" stop-color="#00ff36"/><stop offset="0.396" stop-color="#00ff0f"/><stop offset="0.417" stop-color="#14ff00"/><stop offset="0.438" stop-color="#2fff00"/><stop offset="0.458" stop-color="#4aff00"/><stop offset="0.479" stop-color="#62ff00"/><stop offset="0.5" stop-color="#77ff00"/><stop offset="0.521" stop-color="#87ff00"/><stop offset="0.542" stop-color="#97ff00"/><stop offset="0.562" stop-color="#9bff00"/><stop offset="0.583" stop-color="#87ff00"/><stop offset="0.604" stop-color="#73ff00"/><stop offset="0.625" stop-color="#52ff00"/><stop offset="0.646" stop-color="#2cff00"/><stop offset="0.667" stop-color="#0cff00"/><stop offset="0.688" stop-color="#00ff16"/><stop offset="0.708" stop-color="#00ff3c"/><stop offset="0.729" stop-color="#00ff65"/><stop offset="0.75" stop-color="#00ff9c"/><stop offset="0.771" stop-color="#00ffe8"/><stop offset="0.792" stop-color="#00d9ff"/><stop offset="0.812" stop-color="#00a8ff"/><stop offset="0.833" stop-color="#0086ff"/><stop offset="0.854" stop-color="#006fff"/><stop offset="0.875" stop-color="#005eff"/><stop offset="0.896" stop-color="#004eff"/><stop offset="0.917" stop-color="#0045ff"/><stop offset="0.938" stop-color="#003cff"/><stop offset="0.958" stop-color="#0033ff"/><stop offset="0.979" stop-color="#002aff"/><stop offset="1" stop-color="#0021ff"/></linearGradient><linearGradient id="g101" x1="0" y1="0" x2="0" y2="1"><stop offset="0" stop-color="#005eff"/><stop offset="0.0208" stop-color="#0063ff"/><stop offset="0.0417" stop-color="#0067ff"/><stop offset="0.0625" stop-color="#006cff"/><stop offset="0.0833" stop-color="#0071ff"/><stop offset="0.104" stop-color="#0075ff"/><stop offset="0.125" stop-color="#007aff"/><stop offset="0.146" stop-color="#0083ff"/><stop offset="0.167" stop-color="#008dff"/><stop offset="0.188" stop-color="#0098ff"/><stop offset="0.208" stop-color="#00a6ff"/><stop offset="0.229" stop-color="#00b6ff"/><stop offset="0.25" stop-color="#00d3ff"/><stop offset="0.271" stop-color="#00f4ff"/><stop offset="0.292" stop-color="#00ffe5"/><stop offset="0.312" stop-color="#00ffbd"/><stop offset="0.333" stop-color="#00ff92"/><stop offset="0.354" stop-color="#00ff69"/><stop offset="0.375" stop-color="#00ff44"/><stop offset="0.396" stop-color="#00ff1d"/><stop offset="0.417" stop-color="#08ff00"/><stop offset="0.438" stop-color="#20ff00"/><stop offset="0.458" stop-color="#38ff00"/><stop offset="0.479" stop-color="#4fff00"/><stop offset="0.5" stop-color="#60ff00"/><stop offset="0.521" stop-color="#70ff00"/><stop offset="0.542" stop-color="#81ff00"/><stop offset="0.562" stop-color="#84ff00"/><stop offset="0.583" stop-color="#6fff00"/><stop offset="0.604" stop-color="#5aff00"/><stop offset="0.625" stop-color="#3dff00"/><stop offset="0.646" stop-color="#1cff00"/><stop offset="0.667" stop-color="#00ff05"/><stop offset="0.688" stop-color="#00ff28"/><stop offset="0.708" stop-color="#00ff4c"/><stop offset="0.729" stop-color="#00ff70"/><stop offset="0.75" stop-color="#00ffab"/><stop offset="0.771" stop-color="#00fff4"/><stop offset="0.792" stop-color="#00d2ff"/><stop offset="0.812" stop-color="#00a3ff"/><stop offset="0.833" stop-color="#0082ff"/><stop offset="0.854" stop-color="#006dff"/><stop offset="0.875" stop-color="#005cff"/><stop offset="0.896" stop-color="#004cff"/><stop offset="0.917" stop-color="#0043ff"/><stop offset="0.938" stop-color="#003aff"/><stop offset="0.958" stop-color="#0031ff"/><stop offset="0.979" stop-color="#0029ff"/><stop offset="1" stop-color="#0020ff"/></linearGradient><linearGradient id="g102" x1="0" y1="0" x2="0" y2="1"><stop offset="0" stop-color="#005dff"/><stop offset="0.0208" stop-color="#0062ff"/><stop offset="0.0417" stop-color="#0067ff"/><stop offset="0.0625" stop-color="#006bff"/><stop offset="0.0833" stop-color="#0070ff"/><stop offset="0.104" stop-color="#0074ff"/><stop offset="0.125" stop-color="#0079ff"/><stop offset="0.146" stop-color="#0081ff"/><stop offset="0.167" stop-color="#008bff"/><stop offset="0.188" stop-color="#0095ff"/><stop offset="0.208" stop-color="#00a2ff"/><stop offset="0.229" stop-color="#00b1ff"/><stop offset="0.25" stop-color="#00ccff"/><stop offset="0.271" stop-color="#00ecff"/><stop offset="0.292" stop-color="#00ffee"/><stop offset="0.312" stop-color="#00ffc6"/><stop offset="0.333" stop-color="#00ff9c"/><stop offset="0.354" stop-color="#00ff73"/><stop offset="0.375" stop-color="#00ff4e"/><stop offset="0.396" stop-color="#00ff29"/><stop offset="0.417" stop-color="#00ff06"/><stop offset="0.438" stop-color="#12ff00"/><stop offset="0.458" stop-color="#27ff00"/><stop offset="0.479" stop-color="#3cff00"/><stop offset="0.5" stop-color="#4cff00"/><stop offset="0.521" stop-color="#5aff00"/><stop offset="0.542" stop-color="#69ff00"/><stop offset="0.562" stop-color="#6cff00"/><stop offset="0.583" stop-color="#5aff00"/><stop offset="0.604" stop-color="#47ff00"/><stop offset="0.625" stop-color="#2eff00"/><stop offset="0.646" stop-color="#11ff00"/><stop offset="0.667" stop-color="#00ff11"/><stop offset="0.688" stop-color="#00ff33"/><stop offset="0.708" stop-color="#00ff56"/><stop offset="0.729" stop-color="#00ff7b"/><stop offset="0.75" stop-color="#00ffb8"/><stop offset="0.771" stop-color="#00fffd"/><stop offset="0.792" stop-color="#00caff"/><stop offset="0.812" stop-color="#009eff"/><stop offset="0.833" stop-color="#007eff"/><stop offset="0.854" stop-color="#006bff"/><stop offset="0.875" stop-color="#0059ff"/><stop offset="0.896" stop-color="#004aff"/><stop offset="0.917" stop-color="#0042ff"/><stop offset="0.938" stop-color="#0039ff"/><stop offset="0.958" stop-color="#0031ff"/><stop offset="0.979" stop-color="#0029ff"/><stop offset="1" stop-color="#0020ff"/></linearGradient><linearGradient id="g103" x1="0" y1="0" x2="0" y2="1"><stop offset="0" stop-color="#005dff"/><stop offset="0.0208" stop-color="#0061ff"/><stop offset="0.0417" stop-color="#0066ff"/><stop offset="0.0625" stop-color="#006aff"/><stop offset="0.0833" stop-color="#006fff"/><stop offset="0.104" stop-color="#0074ff"/><stop offset="0.125" stop-color="#0078ff"/><stop offset="0.146" stop-color="#007fff"/><stop offset="0.167" stop-color="#0089ff"/><stop offset="0.188" stop-color="#0092ff"/><stop offset="0.208" stop-color="#009eff"/><stop offset="0.229" stop-color="#00aeff"/><stop offset="0.25" stop-color="#00c5ff"/><stop offset="0.271" stop-color="#00e6ff"/><stop offset="0.292" stop-color="#00fff6"/><stop offset="0.312" stop-color="#00ffcf"/><stop offset="0.333" stop-color="#00ffa5"/><stop offset="0.354" stop-color="#00ff7b"/><stop offset="0.375" stop-color="#00ff57"/><stop offset="0.396" stop-color="#00ff34"/><stop offset="0.417" stop-color="#00ff14"/><stop offset="0.438" stop-color="#04ff00"/><stop offset="0.458" stop-color="#17ff00"/><stop offset="0.479" stop-color="#2aff00"/><stop offset="0.5" stop-color="#3aff00"/><stop offset="0.521" stop-color="#45ff00"/><stop offset="0.542" stop-color="#50ff00"/><stop offset="0.562" stop-color="#54ff00"/><stop offset="0.583" stop-color="#47ff00"/><stop offset="0.604" stop-color="#37ff00"/><stop offset="0.625" stop-color="#21ff00"/><stop offset="0.646" stop-color="#08ff00"/><stop offset="0.667" stop-color="#00ff1a"/><stop offset="0.688" stop-color="#00ff3c"/><stop offset="0.708" stop-color="#00ff5e"/><stop offset="0.729" stop-color="#00ff85"/><stop offset="0.75" stop-color="#00ffc3"/><stop offset="0.771" stop-color="#00f9ff"/><stop offset="0.792" stop-color="#00c3ff"/><stop offset="0.812" stop-color="#009aff"/><stop offset="0.833" stop-color="#007bff"/><stop offset="0.854" stop-color="#0068ff"/><stop offset="0.875" stop-color="#0057ff"/><stop offset="0.896" stop-color="#0049ff"/><stop offset="0.917" stop-color="#0041ff"/><stop offset="0.938" stop-color="#0039ff"/><stop offset="0.958" stop-color="#0031ff"/><stop offset="0.979" stop-color="#0029ff"/><stop offset="1" stop-color="#0020ff"/></linearGradient><linearGradient id="g104" x1="0" y1="0" x2="0" y2="1"><stop offset="0" stop-color="#005cff"/><stop offset="0.0208" stop-color="#0061ff"/><stop offset="0.0417" stop-color="#0065ff"/><stop offset="0.0625" stop-color="#006aff"/><stop offset="0.0833" stop-color="#006eff"/><stop offset="0.104" stop-color="#0073ff"/><stop offset="0.125" stop-color="#0077ff"/><stop offset="0.146" stop-color="#007dff"/><stop offset="0.167" stop-color="#0086ff"/><stop offset="0.188" stop-color="#0090ff"/><stop offset="0.208" stop-color="#009aff"/><stop offset="0.229" stop-color="#00aaff"/><stop offset="0.25" stop-color="#00beff"/><stop offset="0.271" stop-color="#00dfff"/><stop offset="0.292" stop-color="#00fffe"/><stop offset="0.312" stop-color="#00ffd7"/><stop offset="0.333" stop-color="#00ffae"/><stop offset="0.354" stop-color="#00ff83"/><stop offset="0.375" stop-color="#00ff61"/><stop offset="0.396" stop-color="#00ff40"/><stop offset="0.417" stop-color="#00ff22"/><stop offset="0.438" stop-color="#00ff09"/><stop offset="0.458" stop-color="#07ff00"/><stop offset="0.479" stop-color="#18ff00"/><stop offset="0.5" stop-color="#27ff00"/><stop offset="0.521" stop-color="#2fff00"/><stop offset="0.542" stop-color="#37ff00"/><stop offset="0.562" stop-color="#3dff00"/><stop offset="0.583" stop-color="#34ff00"/><stop offset="0.604" stop-color="#27ff00"/><stop offset="0.625" stop-color="#15ff00"/><stop offset="0.646" stop-color="#00ff01"/><stop offset="0.667" stop-color="#00ff23"/><stop offset="0.688" stop-color="#00ff44"/><stop offset="0.708" stop-color="#00ff65"/><stop offset="0.729" stop-color="#00ff8f"/><stop offset="0.75" stop-color="#00ffcf"/><stop offset="0.771" stop-color="#00f1ff"/><stop offset="0.792" stop-color="#00bcff"/><stop offset="0.812" stop-color="#0095ff"/><stop offset="0.833" stop-color="#0078ff"/><stop offset="0.854" stop-color="#0066ff"/><stop offset="0.875" stop-color="#0054ff"/><stop offset="0.896" stop-color="#0048ff"/><stop offset="0.917" stop-color="#0040ff"/><stop offset="0.938" stop-color="#0039ff"/><stop offset="0.958" stop-color="#0031ff"/><stop offset="0.979" stop-color="#0029ff"/><stop offset="1" stop-color="#0020ff"/></linearGradient><linearGradient id="g105" x1="0" y1="0" x2="0" y2="1"><stop offset="0" stop-color="#005bff"/><stop offset="0.0208" stop-color="#0060ff"/><stop offset="0.0417" stop-color="#0064ff"/><stop offset="0.0625" stop-color="#0069ff"/><stop offset="0.0833" stop-color="#006dff"/><stop offset="0.104" stop-color="#0071ff"/><stop offset="0.125" stop-color="#0076ff"/><stop offset="0.146" stop-color="#007bff"/><stop offset="0.167" stop-color="#0084ff"/><stop offset="0.188" stop-color="#008dff"/><stop offset="0.208" stop-color="#0096ff"/><stop offset="0.229" stop-color="#00a6ff"/><stop offset="0.25" stop-color="#00b9ff"/><stop offset="0.271" stop-color="#00daff"/><stop offset="0.292" stop-color="#00faff"/><stop offset="0.312" stop-color="#00ffde"/><stop offset="0.333" stop-color="#00ffb6"/><stop offset="0.354" stop-color="#00ff8c"/><stop offset="0.375" stop-color="#00ff6a"/><stop offset="0.396" stop-color="#00ff4b"/><stop offset="0.417" stop-color="#00ff2e"/><stop offset="0.438" stop-color="#00ff15"/><stop offset="0.458" stop-color="#00ff06"/><stop offset="0.479" stop-color="#09ff00"/><stop offset="0.5" stop-color="#18ff00"/><stop offset="0.521" stop-color="#1eff00"/><stop offset="0.542" stop-color="#24ff00"/><stop offset="0.562" stop-color="#2aff00"/><stop offset="0.583" stop-color="#24ff00"/><stop offset="0.604" stop-color="#18ff00"/><stop offset="0.625" stop-color="#08ff00"/><stop offset="0.646" stop-color="#00ff0c"/><stop offset="0.667" stop-color="#00ff2c"/><stop offset="0.688" stop-color="#00ff4b"/><stop offset="0.708" stop-color="#00ff6c"/><stop offset="0.729" stop-color="#00ff98"/><stop offset="0.75" stop-color="#00ffd8"/><stop offset="0.771" stop-color="#00ebff"/><stop offset="0.792" stop-color="#00b7ff"/><stop offset="0.812" stop-color="#0092ff"/><stop offset="0.833" stop-color="#0075ff"/><stop offset="0.854" stop-color="#0064ff"/><stop offset="0.875" stop-color="#0053ff"/><stop offset="0.896" stop-color="#0048ff"/><stop offset="0.917" stop-color="#0040ff"/><stop offset="0.938" stop-color="#0038ff"/><stop offset="0.958" stop-color="#0031ff"/><stop offset="0.979" stop-color="#0029ff"/><stop offset="1" stop-color="#0020ff"/></linearGradient><linearGradient id="g106" x1="0" y1="0" x2="0" y2="1"><stop offset="0" stop-color="#005bff"/><stop offset="0.0208" stop-color="#005fff"/><stop offset="0.0417" stop-color="#0063ff"/><stop offset="0.0625" stop-color="#0067ff"/><stop offset="0.0833" stop-color="#006bff"/><stop offset="0.104" stop-color="#0070ff"/><stop offset="0.125" stop-color="#0074ff"/><stop offset="0.146" stop-color="#0079ff"/><stop offset="0.167" stop-color="#0081ff"/><stop offset="0.188" stop-color="#008aff"/><stop offset="0.208" stop-color="#0092ff"/><stop offset="0.229" stop-color="#00a1ff"/><stop offset="0.25" stop-color="#00b6ff"/><stop offset="0.271" stop-color="#00d6ff"/><stop offset="0.292" stop-color="#00f6ff"/><stop offset="0.312" stop-color="#00ffe3"/><stop offset="0.333" stop-color="#00ffbd"/><stop offset="0.354" stop-color="#00ff95"/><stop offset="0.375" stop-color="#00ff74"/><stop offset="0.396" stop-color="#00ff54"/><stop offset="0.417" stop-color="#00ff39"/><stop offset="0.438" stop-color="#00ff20"/><stop offset="0.458" stop-color="#00ff11"/><stop offset="0.479" stop-color="#00ff03"/><stop offset="0.5" stop-color="#0bff00"/><stop offset="0.521" stop-color="#11ff00"/><stop offset="0.542" stop-color="#16ff00"/><stop offset="0.562" stop-color="#1bff00"/><stop offset="0.583" stop-color="#16ff00"/><stop offset="0.604" stop-color="#0bff00"/><stop offset="0.625" stop-color="#00ff04"/><stop offset="0.646" stop-color="#00ff17"/><stop offset="0.667" stop-color="#00ff35"/><stop offset="0.688" stop-color="#00ff52"/><stop offset="0.708" stop-color="#00ff71"/><stop offset="0.729" stop-color="#00ffa0"/><stop offset="0.75" stop-color="#00ffdf"/><stop offset="0.771" stop-color="#00e6ff"/><stop offset="0.792" stop-color="#00b4ff"/><stop offset="0.812" stop-color="#0090ff"/><stop offset="0.833" stop-color="#0074ff"/><stop offset="0.854" stop-color="#0063ff"/><stop offset="0.875" stop-color="#0052ff"/><stop offset="0.896" stop-color="#0047ff"/><stop offset="0.917" stop-color="#0040ff"/><stop offset="0.938" stop-color="#0038ff"/><stop offset="0.958" stop-color="#0031ff"/><stop offset="0.979" stop-color="#0029ff"/><stop offset="1" stop-color="#0020ff"/></linearGradient><linearGradient id="g107" x1="0" y1="0" x2="0" y2="1"><stop offset="0" stop-color="#005aff"/><stop offset="0.0208" stop-color="#005eff"/><stop offset="0.0417" stop-color="#0062ff"/><stop offset="0.0625" stop-color="#0066ff"/><stop offset="0.0833" stop-color="#006aff"/><stop offset="0.104" stop-color="#006eff"/><stop offset="0.125" stop-color="#0072ff"/><stop offset="0.146" stop-color="#0077ff"/><stop offset="0.167" stop-color="#007eff"/><stop offset="0.188" stop-color="#0086ff"/><stop offset="0.208" stop-color="#008eff"/><stop offset="0.229" stop-color="#009cff"/><stop offset="0.25" stop-color="#00b2ff"/><stop offset="0.271" stop-color="#00d2ff"/><stop offset="0.292" stop-color="#00f1ff"/><stop offset="0.312" stop-color="#00ffe9"/><stop offset="0.333" stop-color="#00ffc4"/><stop offset="0.354" stop-color="#00ff9e"/><stop offset="0.375" stop-color="#00ff7d"/><stop offset="0.396" stop-color="#00ff5e"/><stop offset="0.417" stop-color="#00ff43"/><stop offset="0.438" stop-color="#00ff2b"/><stop offset="0.458" stop-color="#00ff1d"/><stop offset="0.479" stop-color="#00ff0f"/><stop offset="0.5" stop-color="#00ff02"/><stop offset="0.521" stop-color="#03ff00"/><stop offset="0.542" stop-color="#08ff00"/><stop offset="0.562" stop-color="#0dff00"/><stop offset="0.583" stop-color="#08ff00"/><stop offset="0.604" stop-color="#00ff02"/><stop offset="0.625" stop-color="#00ff10"/><stop offset="0.646" stop-color="#00ff23"/><stop offset="0.667" stop-color="#00ff3e"/><stop offset="0.688" stop-color="#00ff58"/><stop offset="0.708" stop-color="#00ff77"/><stop offset="0.729" stop-color="#00ffa8"/><stop offset="0.75" stop-color="#00ffe5"/><stop offset="0.771" stop-color="#00e2ff"/><stop offset="0.792" stop-color="#00b1ff"/><stop offset="0.812" stop-color="#008dff"/><stop offset="0.833" stop-color="#0073ff"/><stop offset="0.854" stop-color="#0062ff"/><stop offset="0.875" stop-color="#0050ff"/><stop offset="0.896" stop-color="#0047ff"/><stop offset="0.917" stop-color="#003fff"/><stop offset="0.938" stop-color="#0038ff"/><stop offset="0.958" stop-color="#0030ff"/><stop offset="0.979" stop-color="#0029ff"/><stop offset="1" stop-color="#0020ff"/></linearGradient><linearGradient id="g108" x1="0" y1="0" x2="0" y2="1"><stop offset="0" stop-color="#0059ff"/><stop offset="0.0208" stop-color="#005dff"/><stop offset="0.0417" stop-color="#0061ff"/><stop offset="0.0625" stop-color="#0065ff"/><stop offset="0.0833" stop-color="#0069ff"/><stop offset="0.104" stop-color="#006cff"/><stop offset="0.125" stop-color="#0070ff"/><stop offset="0.146" stop-color="#0075ff"/><stop offset="0.167" stop-color="#007bff"/><stop offset="0.188" stop-color="#0083ff"/><stop offset="0.208" stop-color="#008bff"/><stop offset="0.229" stop-color="#0098ff"/><stop offset="0.25" stop-color="#00afff"/><stop offset="0.271" stop-color="#00cdff"/><stop offset="0.292" stop-color="#00edff"/><stop offset="0.312" stop-color="#00ffee"/><stop offset="0.333" stop-color="#00ffcb"/><stop offset="0.354" stop-color="#00ffa7"/><stop offset="0.375" stop-color="#00ff87"/><stop offset="0.396" stop-color="#00ff68"/><stop offset="0.417" stop-color="#00ff4e"/><stop offset="0.438" stop-color="#00ff36"/><stop offset="0.458" stop-color="#00ff28"/><stop offset="0.479" stop-color="#00ff1b"/><stop offset="0.5" stop-color="#00ff0e"/><stop offset="0.521" stop-color="#00ff0a"/><stop offset="0.542" stop-color="#00ff06"/><stop offset="0.562" stop-color="#00ff01"/><stop offset="0.583" stop-color="#00ff06"/><stop offset="0.604" stop-color="#00ff10"/><stop offset="0.625" stop-color="#00ff1c"/><stop offset="0.646" stop-color="#00ff2e"/><stop offset="0.667" stop-color="#00ff47"/><stop offset="0.688" stop-color="#00ff5f"/><stop offset="0.708" stop-color="#00ff7c"/><stop offset="0.729" stop-color="#00ffaf"/><stop offset="0.75" stop-color="#00ffec"/><stop offset="0.771" stop-color="#00ddff"/><stop offset="0.792" stop-color="#00aeff"/><stop offset="0.812" stop-color="#008bff"/><stop offset="0.833" stop-color="#0072ff"/><stop offset="0.854" stop-color="#0060ff"/><stop offset="0.875" stop-color="#004fff"/><stop offset="0.896" stop-color="#0046ff"/><stop offset="0.917" stop-color="#003fff"/><stop offset="0.938" stop-color="#0038ff"/><stop offset="0.958" stop-color="#0030ff"/><stop offset="0.979" stop-color="#0029ff"/><stop offset="1" stop-color="#0020ff"/></linearGradient><linearGradient id="g109" x1="0" y1="0" x2="0" y2="1"><stop offset="0" stop-color="#0058ff"/><stop offset="0.0208" stop-color="#005cff"/><stop offset="0.0417" stop-color="#0060ff"/><stop offset="0.0625" stop-color="#0063ff"/><stop offset="0.0833" stop-color="#0067ff"/><stop offset="0.104" stop-color="#006bff"/><stop offset="0.125" stop-color="#006eff"/><stop offset="0.146" stop-color="#0072ff"/><stop offset="0.167" stop-color="#0079ff"/><stop offset="0.188" stop-color="#0080ff"/><stop offset="0.208" stop-color="#0087ff"/><stop offset="0.229" stop-color="#0093ff"/><stop offset="0.25" stop-color="#00abff"/><stop offset="0.271" stop-color="#00c9ff"/><stop offset="0.292" stop-color="#00e9ff"/><stop offset="0.312" stop-color="#00fff4"/><stop offset="0.333" stop-color="#00ffd2"/><stop offset="0.354" stop-color="#00ffb0"/><stop offset="0.375" stop-color="#00ff90"/><stop offset="0.396" stop-color="#00ff71"/><stop offset="0.417" stop-color="#00ff58"/><stop offset="0.438" stop-color="#00ff41"/><stop offset="0.458" stop-color="#00ff33"/><stop offset="0.479" stop-color="#00ff27"/><stop offset="0.5" stop-color="#00ff1b"/><stop offset="0.521" stop-color="#00ff17"/><stop offset="0.542" stop-color="#00ff13"/><stop offset="0.562" stop-color="#00ff0f"/><stop offset="0.583" stop-color="#00ff14"/><stop offset="0.604" stop-color="#00ff1d"/><stop offset="0.625" stop-color="#00ff28"/><stop offset="0.646" stop-color="#00ff3a"/><stop offset="0.667" stop-color="#00ff50"/><stop offset="0.688" stop-color="#00ff66"/><stop offset="0.708" stop-color="#00ff81"/><stop offset="0.729" stop-color="#00ffb7"/><stop offset="0.75" stop-color="#00fff3"/><stop offset="0.771" stop-color="#00d9ff"/><stop offset="0.792" stop-color="#00abff"/><stop offset="0.812" stop-color="#0089ff"/><stop offset="0.833" stop-color="#0071ff"/><stop offset="0.854" stop-color="#005fff"/><stop offset="0.875" stop-color="#004eff"/><stop offset="0.896" stop-color="#0046ff"/><stop offset="0.917" stop-color="#003fff"/><stop offset="0.938" stop-color="#0038ff"/><stop offset="0.958" stop-color="#0030ff"/><stop offset="0.979" stop-color="#0029ff"/><stop offset="1" stop-color="#0020ff"/></linearGradient><linearGradient id="g110" x1="0" y1="0" x2="0" y2="1"><stop offset="0" stop-color="#0057ff"/><stop offset="0.0208" stop-color="#005bff"/><stop offset="0.0417" stop-color="#005eff"/><stop offset="0.0625" stop-color="#0062ff"/><stop offset="0.0833" stop-color="#0066ff"/><stop offset="0.104" stop-color="#0069ff"/><stop offset="0.125" stop-color="#006dff"/><stop offset="0.146" stop-color="#0070ff"/><stop offset="0.167" stop-color="#0076ff"/><stop offset="0.188" stop-color="#007cff"/><stop offset="0.208" stop-color="#0083ff"/><stop offset="0.229" stop-color="#008eff"/><stop offset="0.25" stop-color="#00a8ff"/><stop offset="0.271" stop-color="#00c5ff"/><stop offset="0.292" stop-color="#00e5ff"/><stop offset="0.312" stop-color="#00fff9"/><stop offset="0.333" stop-color="#00ffd9"/><stop offset="0.354" stop-color="#00ffb9"/><stop offset="0.375" stop-color="#00ff99"/><stop offset="0.396" stop-color="#00ff7b"/><stop offset="0.417" stop-color="#00ff63"/><stop offset="0.438" stop-color="#00ff4c"/><stop offset="0.458" stop-color="#00ff3f"/><stop offset="0.479" stop-color="#00ff33"/><stop offset="0.5" stop-color="#00ff28"/><stop offset="0.521" stop-color="#00ff25"/><stop offset="0.542" stop-color="#00ff21"/><stop offset="0.562" stop-color="#00ff1e"/><stop offset="0.583" stop-color="#00ff22"/><stop offset="0.604" stop-color="#00ff2b"/><stop offset="0.625" stop-color="#00ff34"/><stop offset="0.646" stop-color="#00ff46"/><stop offset="0.667" stop-color="#00ff59"/><stop offset="0.688" stop-color="#00ff6c"/><stop offset="0.708" stop-color="#00ff87"/><stop offset="0.729" stop-color="#00ffbf"/><stop offset="0.75" stop-color="#00fff9"/><stop offset="0.771" stop-color="#00d4ff"/><stop offset="0.792" stop-color="#00a8ff"/><stop offset="0.812" stop-color="#0086ff"/><stop offset="0.833" stop-color="#006fff"/><stop offset="0.854" stop-color="#005eff"/><stop offset="0.875" stop-color="#004dff"/><stop offset="0.896" stop-color="#0046ff"/><stop offset="0.917" stop-color="#003eff"/><stop offset="0.938" stop-color="#0037ff"/><stop offset="0.958" stop-color="#0030ff"/><stop offset="0.979" stop-color="#0029ff"/><stop offset="1" stop-color="#0020ff"/></linearGradient><linearGradient id="g111" x1="0" y1="0" x2="0" y2="1"><stop offset="0" stop-color="#0057ff"/><stop offset="0.0208" stop-color="#005aff"/><stop offset="0.0417" stop-color="#005dff"/><stop offset="0.0625" stop-color="#0061ff"/><stop offset="0.0833" stop-color="#0064ff"/><stop offset="0.104" stop-color="#0067ff"/><stop offset="0.125" stop-color="#006bff"/><stop offset="0.146" stop-color="#006eff"/><stop offset="0.167" stop-color="#0073ff"/><stop offset="0.188" stop-color="#0079ff"/><stop offset="0.208" stop-color="#007fff"/><stop offset="0.229" stop-color="#008aff"/><stop offset="0.25" stop-color="#00a4ff"/><stop offset="0.271" stop-color="#00c2ff"/><stop offset="0.292" stop-color="#00e1ff"/><stop offset="0.312" stop-color="#00ffff"/><stop offset="0.333" stop-color="#00ffe0"/><stop offset="0.354" stop-color="#00ffc1"/><stop offset="0.375" stop-color="#00ffa3"/><stop offset="0.396" stop-color="#00ff84"/><stop offset="0.417" stop-color="#00ff6d"/><stop offset="0.438" stop-color="#00ff56"/><stop offset="0.458" stop-color="#00ff49"/><stop offset="0.479" stop-color="#00ff3f"/><stop offset="0.5" stop-color="#00ff34"/><stop offset="0.521" stop-color="#00ff31"/><stop offset="0.542" stop-color="#00ff2e"/><stop offset="0.562" stop-color="#00ff2b"/><stop offset="0.583" stop-color="#00ff2f"/><stop offset="0.604" stop-color="#00ff37"/><stop offset="0.625" stop-color="#00ff3f"/><stop offset="0.646" stop-color="#00ff50"/><stop offset="0.667" stop-color="#00ff61"/><stop offset="0.688" stop-color="#00ff72"/><stop offset="0.708" stop-color="#00ff8c"/><stop offset="0.729" stop-color="#00ffc6"/><stop offset="0.75" stop-color="#00ffff"/><stop offset="0.771" stop-color="#00d0ff"/><stop offset="0.792" stop-color="#00a5ff"/><stop offset="0.812" stop-color="#0084ff"/><stop offset="0.833" stop-color="#006eff"/><stop offset="0.854" stop-color="#005dff"/><stop offset="0.875" stop-color="#004cff"/><stop offset="0.896" stop-color="#0045ff"/><stop offset="0.917" stop-color="#003eff"/><stop offset="0.938" stop-color="#0037ff"/><stop offset="0.958" stop-color="#0030ff"/><stop offset="0.979" stop-color="#0029ff"/><stop offset="1" stop-color="#0020ff"/></linearGradient><linearGradient id="g112" x1="0" y1="0" x2="0" y2="1"><stop offset="0" stop-color="#0056ff"/><stop offset="0.0208" stop-color="#0059ff"/><stop offset="0.0417" stop-color="#005cff"/><stop offset="0.0625" stop-color="#005fff"/><stop offset="0.0833" stop-color="#0062ff"/><stop offset="0.104" stop-color="#0065ff"/><stop offset="0.125" stop-color="#0068ff"/><stop offset="0.146" stop-color="#006bff"/><stop offset="0.167" stop-color="#0070ff"/><stop offset="0.188" stop-color="#0077ff"/><stop offset="0.208" stop-color="#007eff"/><stop offset="0.229" stop-color="#0087ff"/><stop offset="0.25" stop-color="#00a2ff"/><stop offset="0.271" stop-color="#00c1ff"/><stop offset="0.292" stop-color="#00deff"/><stop offset="0.312" stop-color="#00fcff"/><stop offset="0.333" stop-color="#00ffe5"/><stop offset="0.354" stop-color="#00ffc8"/><stop offset="0.375" stop-color="#00ffab"/><stop offset="0.396" stop-color="#00ff8d"/><stop offset="0.417" stop-color="#00ff75"/><stop offset="0.438" stop-color="#00ff5e"/><stop offset="0.458" stop-color="#00ff4f"/><stop offset="0.479" stop-color="#00ff45"/><stop offset="0.5" stop-color="#00ff3a"/><stop offset="0.521" stop-color="#00ff37"/><stop offset="0.542" stop-color="#00ff34"/><stop offset="0.562" stop-color="#00ff31"/><stop offset="0.583" stop-color="#00ff36"/><stop offset="0.604" stop-color="#00ff3d"/><stop offset="0.625" stop-color="#00ff45"/><stop offset="0.646" stop-color="#00ff55"/><stop offset="0.667" stop-color="#00ff65"/><stop offset="0.688" stop-color="#00ff75"/><stop offset="0.708" stop-color="#00ff93"/><stop offset="0.729" stop-color="#00ffcb"/><stop offset="0.75" stop-color="#00fbff"/><stop offset="0.771" stop-color="#00cdff"/><stop offset="0.792" stop-color="#00a3ff"/><stop offset="0.812" stop-color="#0082ff"/><stop offset="0.833" stop-color="#006dff"/><stop offset="0.854" stop-color="#005cff"/><stop offset="0.875" stop-color="#004cff"/><stop offset="0.896" stop-color="#0045ff"/><stop offset="0.917" stop-color="#003eff"/><stop offset="0.938" stop-color="#0037ff"/><stop offset="0.958" stop-color="#0030ff"/><stop offset="0.979" stop-color="#0029ff"/><stop offset="1" stop-color="#0020ff"/></linearGradient><linearGradient id="g113" x1="0" y1="0" x2="0" y2="1"><stop offset="0" stop-color="#0055ff"/><stop offset="0.0208" stop-color="#0057ff"/><stop offset="0.0417" stop-color="#005aff"/><stop offset="0.0625" stop-color="#005dff"/><stop offset="0.0833" stop-color="#0060ff"/><stop offset="0.104" stop-color="#0062ff"/><stop offset="0.125" stop-color="#0065ff"/><stop offset="0.146" stop-color="#0068ff"/><stop offset="0.167" stop-color="#006dff"/><stop offset="0.188" stop-color="#0075ff"/><stop offset="0.208" stop-color="#007cff"/><stop offset="0.229" stop-color="#0085ff"/><stop offset="0.25" stop-color="#00a0ff"/><stop offset="0.271" stop-color="#00bfff"/><stop offset="0.292" stop-color="#00dbff"/><stop offset="0.312" stop-color="#00f8ff"/><stop offset="0.333" stop-color="#00ffea"/><stop offset="0.354" stop-color="#00ffcf"/><stop offset="0.375" stop-color="#00ffb3"/><stop offset="0.396" stop-color="#00ff96"/><stop offset="0.417" stop-color="#00ff7d"/><stop offset="0.438" stop-color="#00ff66"/><stop offset="0.458" stop-color="#00ff54"/><stop offset="0.479" stop-color="#00ff4a"/><stop offset="0.5" stop-color="#00ff41"/><stop offset="0.521" stop-color="#00ff3e"/><stop offset="0.542" stop-color="#00ff3b"/><stop offset="0.562" stop-color="#00ff37"/><stop offset="0.583" stop-color="#00ff3c"/><stop offset="0.604" stop-color="#00ff44"/><stop offset="0.625" stop-color="#00ff4c"/><stop offset="0.646" stop-color="#00ff5a"/><stop offset="0.667" stop-color="#00ff69"/><stop offset="0.688" stop-color="#00ff78"/><stop offset="0.708" stop-color="#00ff9a"/><stop offset="0.729" stop-color="#00ffd0"/><stop offset="0.75" stop-color="#00f8ff"/><stop offset="0.771" stop-color="#00caff"/><stop offset="0.792" stop-color="#00a1ff"/><stop offset="0.812" stop-color="#0080ff"/><stop offset="0.833" stop-color="#006cff"/><stop offset="0.854" stop-color="#005aff"/><stop offset="0.875" stop-color="#004bff"/><stop offset="0.896" stop-color="#0044ff"/><stop offset="0.917" stop-color="#003eff"/><stop offset="0.938" stop-color="#0037ff"/><stop offset="0.958" stop-color="#0030ff"/><stop offset="0.979" stop-color="#0029ff"/><stop offset="1" stop-color="#0020ff"/></linearGradient><linearGradient id="cb" x1="0" y1="0" x2="0" y2="1"><stop offset="0.000" stop-color="#ff2e2e"/><stop offset="0.025" stop-color="#ff432e"/><stop offset="0.050" stop-color="#ff582e"/><stop offset="0.075" stop-color="#ff6d2e"/><stop offset="0.100" stop-color="#ff822e"/><stop offset="0.125" stop-color="#ff962e"/><stop offset="0.150" stop-color="#ffab2e"/><stop offset="0.175" stop-color="#ffc02e"/><stop offset="0.200" stop-color="#ffd52e"/><stop offset="0.225" stop-color="#ffea2e"/><stop offset="0.250" stop-color="#ffff2e"/><stop offset="0.275" stop-color="#eaff2e"/><stop offset="0.300" stop-color="#d5ff2e"/><stop offset="0.325" stop-color="#c0ff2e"/><stop offset="0.350" stop-color="#abff2e"/><stop offset="0.375" stop-color="#96ff2e"/><stop offset="0.400" stop-color="#82ff2e"/><stop offset="0.425" stop-color="#6dff2e"/><stop offset="0.450" stop-color="#58ff2e"/><stop offset="0.475" stop-color="#43ff2e"/><stop offset="0.500" stop-color="#2eff2e"/><stop offset="0.525" stop-color="#2eff43"/><stop offset="0.550" stop-color="#2eff58"/><stop offset="0.575" stop-color="#2eff6d"/><stop offset="0.600" stop-color="#2eff82"/><stop offset="0.625" stop-color="#2eff96"/><stop offset="0.650" stop-color="#2effab"/><stop offset="0.675" stop-color="#2effc0"/><stop offset="0.700" stop-color="#2effd5"/><stop offset="0.725" stop-color="#2effea"/><stop offset="0.750" stop-color="#2effff"/><stop offset="0.775" stop-color="#2eeaff"/><stop offset="0.800" stop-color="#2ed5ff"/><stop offset="0.825" stop-color="#2ec0ff"/><stop offset="0.850" stop-color="#2eabff"/><stop offset="0.875" stop-color="#2e96ff"/><stop offset="0.900" stop-color="#2e82ff"/><stop offset="0.925" stop-color="#2e6dff"/><stop offset="0.950" stop-color="#2e58ff"/><stop offset="0.975" stop-color="#2e43ff"/><stop offset="1.000" stop-color="#2e2eff"/></linearGradient><clipPath id="cpb"><rect x="401" y="26" width="231" height="109.5"/></clipPath><clipPath id="cpc"><rect x="401" y="135.5" width="231" height="110"/></clipPath></defs>
<rect width="660" height="281" fill="#fff"/>
<g shape-rendering="crispEdges"><rect x="50" y="26" width="2" height="218" fill="url(#g0)"/><rect x="52" y="26" width="2" height="218" fill="url(#g1)"/><rect x="54" y="26" width="2" height="218" fill="url(#g2)"/><rect x="56" y="26" width="2" height="218" fill="url(#g3)"/><rect x="58" y="26" width="2" height="218" fill="url(#g4)"/><rect x="60" y="26" width="2" height="218" fill="url(#g5)"/><rect x="62" y="26" width="2" height="218" fill="url(#g6)"/><rect x="64" y="26" width="2" height="218" fill="url(#g7)"/><rect x="66" y="26" width="2" height="218" fill="url(#g8)"/><rect x="68" y="26" width="2" height="218" fill="url(#g9)"/><rect x="70" y="26" width="2" height="218" fill="url(#g10)"/><rect x="72" y="26" width="2" height="218" fill="url(#g11)"/><rect x="74" y="26" width="2" height="218" fill="url(#g12)"/><rect x="76" y="26" width="2" height="218" fill="url(#g13)"/><rect x="78" y="26" width="2" height="218" fill="url(#g14)"/><rect x="80" y="26" width="2" height="218" fill="url(#g15)"/><rect x="82" y="26" width="2" height="218" fill="url(#g16)"/><rect x="84" y="26" width="2" height="218" fill="url(#g17)"/><rect x="86" y="26" width="2" height="218" fill="url(#g18)"/><rect x="88" y="26" width="2" height="218" fill="url(#g19)"/><rect x="90" y="26" width="2" height="218" fill="url(#g20)"/><rect x="92" y="26" width="2" height="218" fill="url(#g21)"/><rect x="94" y="26" width="2" height="218" fill="url(#g22)"/><rect x="96" y="26" width="2" height="218" fill="url(#g23)"/><rect x="98" y="26" width="2" height="218" fill="url(#g24)"/><rect x="100" y="26" width="2" height="218" fill="url(#g25)"/><rect x="102" y="26" width="2" height="218" fill="url(#g26)"/><rect x="104" y="26" width="2" height="218" fill="url(#g27)"/><rect x="106" y="26" width="2" height="218" fill="url(#g28)"/><rect x="108" y="26" width="2" height="218" fill="url(#g29)"/><rect x="110" y="26" width="2" height="218" fill="url(#g30)"/><rect x="112" y="26" width="2" height="218" fill="url(#g31)"/><rect x="114" y="26" width="2" height="218" fill="url(#g32)"/><rect x="116" y="26" width="2" height="218" fill="url(#g33)"/><rect x="118" y="26" width="2" height="218" fill="url(#g34)"/><rect x="120" y="26" width="2" height="218" fill="url(#g35)"/><rect x="122" y="26" width="2" height="218" fill="url(#g36)"/><rect x="124" y="26" width="2" height="218" fill="url(#g37)"/><rect x="126" y="26" width="2" height="218" fill="url(#g38)"/><rect x="128" y="26" width="2" height="218" fill="url(#g39)"/><rect x="130" y="26" width="2" height="218" fill="url(#g40)"/><rect x="132" y="26" width="2" height="218" fill="url(#g41)"/><rect x="134" y="26" width="2" height="218" fill="url(#g42)"/><rect x="136" y="26" width="2" height="218" fill="url(#g43)"/><rect x="138" y="26" width="2" height="218" fill="url(#g44)"/><rect x="140" y="26" width="2" height="218" fill="url(#g45)"/><rect x="142" y="26" width="2" height="218" fill="url(#g46)"/><rect x="144" y="26" width="2" height="218" fill="url(#g47)"/><rect x="146" y="26" width="2" height="218" fill="url(#g48)"/><rect x="148" y="26" width="2" height="218" fill="url(#g49)"/><rect x="150" y="26" width="2" height="218" fill="url(#g50)"/><rect x="152" y="26" width="2" height="218" fill="url(#g51)"/><rect x="154" y="26" width="2" height="218" fill="url(#g52)"/><rect x="156" y="26" width="2" height="218" fill="url(#g53)"/><rect x="158" y="26" width="2" height="218" fill="url(#g54)"/><rect x="160" y="26" width="2" height="218" fill="url(#g55)"/><rect x="162" y="26" width="2" height="218" fill="url(#g56)"/><rect x="164" y="26" width="2" height="218" fill="url(#g57)"/><rect x="166" y="26" width="2" height="218" fill="url(#g58)"/><rect x="168" y="26" width="2" height="218" fill="url(#g59)"/><rect x="170" y="26" width="2" height="218" fill="url(#g60)"/><rect x="172" y="26" width="2" height="218" fill="url(#g61)"/><rect x="174" y="26" width="2" height="218" fill="url(#g62)"/><rect x="176" y="26" width="2" height="218" fill="url(#g63)"/><rect x="178" y="26" width="2" height="218" fill="url(#g64)"/><rect x="180" y="26" width="2" height="218" fill="url(#g65)"/><rect x="182" y="26" width="2" height="218" fill="url(#g66)"/><rect x="184" y="26" width="2" height="218" fill="url(#g67)"/><rect x="186" y="26" width="2" height="218" fill="url(#g68)"/><rect x="188" y="26" width="2" height="218" fill="url(#g69)"/><rect x="190" y="26" width="2" height="218" fill="url(#g70)"/><rect x="192" y="26" width="2" height="218" fill="url(#g71)"/><rect x="194" y="26" width="2" height="218" fill="url(#g72)"/><rect x="196" y="26" width="2" height="218" fill="url(#g73)"/><rect x="198" y="26" width="2" height="218" fill="url(#g74)"/><rect x="200" y="26" width="2" height="218" fill="url(#g75)"/><rect x="202" y="26" width="2" height="218" fill="url(#g76)"/><rect x="204" y="26" width="2" height="218" fill="url(#g77)"/><rect x="206" y="26" width="2" height="218" fill="url(#g78)"/><rect x="208" y="26" width="2" height="218" fill="url(#g79)"/><rect x="210" y="26" width="2" height="218" fill="url(#g80)"/><rect x="212" y="26" width="2" height="218" fill="url(#g81)"/><rect x="214" y="26" width="2" height="218" fill="url(#g82)"/><rect x="216" y="26" width="2" height="218" fill="url(#g83)"/><rect x="218" y="26" width="2" height="218" fill="url(#g84)"/><rect x="220" y="26" width="2" height="218" fill="url(#g85)"/><rect x="222" y="26" width="2" height="218" fill="url(#g86)"/><rect x="224" y="26" width="2" height="218" fill="url(#g87)"/><rect x="226" y="26" width="2" height="218" fill="url(#g88)"/><rect x="228" y="26" width="2" height="218" fill="url(#g89)"/><rect x="230" y="26" width="2" height="218" fill="url(#g90)"/><rect x="232" y="26" width="2" height="218" fill="url(#g91)"/><rect x="234" y="26" width="2" height="218" fill="url(#g92)"/><rect x="236" y="26" width="2" height="218" fill="url(#g93)"/><rect x="238" y="26" width="2" height="218" fill="url(#g94)"/><rect x="240" y="26" width="2" height="218" fill="url(#g95)"/><rect x="242" y="26" width="2" height="218" fill="url(#g96)"/><rect x="244" y="26" width="2" height="218" fill="url(#g97)"/><rect x="246" y="26" width="2" height="218" fill="url(#g98)"/><rect x="248" y="26" width="2" height="218" fill="url(#g99)"/><rect x="250" y="26" width="2" height="218" fill="url(#g100)"/><rect x="252" y="26" width="2" height="218" fill="url(#g101)"/><rect x="254" y="26" width="2" height="218" fill="url(#g102)"/><rect x="256" y="26" width="2" height="218" fill="url(#g103)"/><rect x="258" y="26" width="2" height="218" fill="url(#g104)"/><rect x="260" y="26" width="2" height="218" fill="url(#g105)"/><rect x="262" y="26" width="2" height="218" fill="url(#g106)"/><rect x="264" y="26" width="2" height="218" fill="url(#g107)"/><rect x="266" y="26" width="2" height="218" fill="url(#g108)"/><rect x="268" y="26" width="2" height="218" fill="url(#g109)"/><rect x="270" y="26" width="2" height="218" fill="url(#g110)"/><rect x="272" y="26" width="2" height="218" fill="url(#g111)"/><rect x="274" y="26" width="2" height="218" fill="url(#g112)"/><rect x="276" y="26" width="2" height="218" fill="url(#g113)"/></g>
<rect x="49.2" y="25.3" width="228.3" height="219.2" fill="none" stroke="#000" stroke-width="2.3"/>
<path d="M48.4 243.5 v-3.2 M48.4 26.2 v3.2 M77.1 243.5 v-1.6 M77.1 26.2 v1.6 M105.8 243.5 v-3.2 M105.8 26.2 v3.2 M134.4 243.5 v-1.6 M134.4 26.2 v1.6 M163.1 243.5 v-3.2 M163.1 26.2 v3.2 M191.8 243.5 v-1.6 M191.8 26.2 v1.6 M220.5 243.5 v-3.2 M220.5 26.2 v3.2 M249.1 243.5 v-1.6 M249.1 26.2 v1.6 M277.8 243.5 v-3.2 M277.8 26.2 v3.2 M50.2 25.2 h3.2 M276.3 25.2 h-3.2 M50.2 43.5 h1.6 M276.3 43.5 h-1.6 M50.2 61.8 h3.2 M276.3 61.8 h-3.2 M50.2 80.0 h1.6 M276.3 80.0 h-1.6 M50.2 98.3 h3.2 M276.3 98.3 h-3.2 M50.2 116.6 h1.6 M276.3 116.6 h-1.6 M50.2 134.9 h3.2 M276.3 134.9 h-3.2 M50.2 153.1 h1.6 M276.3 153.1 h-1.6 M50.2 171.4 h3.2 M276.3 171.4 h-3.2 M50.2 189.7 h1.6 M276.3 189.7 h-1.6 M50.2 207.9 h3.2 M276.3 207.9 h-3.2 M50.2 226.2 h1.6 M276.3 226.2 h-1.6 M50.2 244.5 h3.2 M276.3 244.5 h-3.2" stroke="#000" stroke-width="1.8" fill="none"/>
<text x="50.2" y="39.9" font-size="14.5" text-anchor="start" fill="#fff" stroke="#fff" >Circular</text>
<text x="138.6" y="39.9" font-size="14.5" text-anchor="start" fill="#fff" stroke="#fff" >Circular</text>
<text x="225.2" y="39.9" font-size="14.5" text-anchor="start" fill="#fff" stroke="#fff" >Circular</text>
<text x="86.2" y="56.8" font-size="14.5" text-anchor="start" fill="#fff" stroke="#fff" >Linear</text>
<text x="202.4" y="56.8" font-size="14.5" text-anchor="start" fill="#fff" stroke="#fff" >Linear</text>
<rect x="285" y="27.5" width="10.5" height="218.5" fill="url(#cb)"/>
<path d="M295.8 27.5 V246 M295.5 27.8 h3.8 M295.5 52.6 h3.8 M295.5 117.4 h3.8 M295.5 181.9 h3.8 M295.5 245.4 h3.8" stroke="#5a5a6a" stroke-width="0.9" fill="none"/>
<text x="304.2" y="33.6" font-size="14" text-anchor="start" fill="#000" stroke="#000" >1</text>
<text x="304.8" y="59.1" font-size="14" text-anchor="start" fill="#000" stroke="#000" >0.9</text>
<text x="304.8" y="123.6" font-size="14" text-anchor="start" fill="#000" stroke="#000" >0.6</text>
<text x="304.8" y="188.1" font-size="14" text-anchor="start" fill="#000" stroke="#000" >0.3</text>
<text x="304.8" y="252.0" font-size="14" text-anchor="start" fill="#000" stroke="#000" >0.01</text>
<text x="159.5" y="15.5" font-size="14.5" text-anchor="start" fill="#000" stroke="#000" >Signal spectrometer (x10<tspan font-size="9" dy="-5.5">4</tspan><tspan dy="5.5">)</tspan></text>
<text x="0.3" y="29.0" font-size="14.5" text-anchor="start" fill="#000" stroke="#000" letter-spacing="1.6">a)</text>
<text x="45.6" y="30.2" font-size="14.5" text-anchor="end" fill="#000" stroke="#000" >395</text>
<text x="45.6" y="66.7" font-size="14.5" text-anchor="end" fill="#000" stroke="#000" >390</text>
<text x="45.6" y="103.2" font-size="14.5" text-anchor="end" fill="#000" stroke="#000" >385</text>
<text x="45.6" y="139.8" font-size="14.5" text-anchor="end" fill="#000" stroke="#000" >380</text>
<text x="45.6" y="176.3" font-size="14.5" text-anchor="end" fill="#000" stroke="#000" >375</text>
<text x="45.6" y="212.8" font-size="14.5" text-anchor="end" fill="#000" stroke="#000" >370</text>
<text x="45.6" y="249.3" font-size="14.5" text-anchor="end" fill="#000" stroke="#000" >365</text>
<text x="48.4" y="257.8" font-size="14.5" text-anchor="middle" fill="#000" stroke="#000" >0</text>
<text x="105.8" y="257.8" font-size="14.5" text-anchor="middle" fill="#000" stroke="#000" >45</text>
<text x="163.1" y="257.8" font-size="14.5" text-anchor="middle" fill="#000" stroke="#000" >90</text>
<text x="220.5" y="257.8" font-size="14.5" text-anchor="middle" fill="#000" stroke="#000" >135</text>
<text x="277.8" y="257.8" font-size="14.5" text-anchor="middle" fill="#000" stroke="#000" >180</text>
<text x="98.0" y="276.4" font-size="14.5" text-anchor="start" fill="#000" stroke="#000" >Rotation λ/4-plate [°]</text>
<text transform="translate(11.6 139.2) rotate(-90)" font-size="14.5" text-anchor="middle" stroke="#000">Wavelength [nm]</text>
<path d="M401 25.8 H632.5 V245.5 H401 Z M401 135.5 H632.5" stroke="#000" stroke-width="1.6" fill="none"/>
<path d="M401.0 245 v-3.2 M401.0 135 v-3.2 M401.0 136 v3.2 M429.9 245 v-1.8 M429.9 135 v-1.8 M429.9 136 v1.8 M458.9 245 v-3.2 M458.9 135 v-3.2 M458.9 136 v3.2 M487.8 245 v-1.8 M487.8 135 v-1.8 M487.8 136 v1.8 M516.8 245 v-3.2 M516.8 135 v-3.2 M516.8 136 v3.2 M545.7 245 v-1.8 M545.7 135 v-1.8 M545.7 136 v1.8 M574.6 245 v-3.2 M574.6 135 v-3.2 M574.6 136 v3.2 M603.6 245 v-1.8 M603.6 135 v-1.8 M603.6 136 v1.8 M632.5 245 v-3.2 M632.5 135 v-3.2 M632.5 136 v3.2 M401.6 117.9 h3.2 M631.9 117.9 h-3.2 M401.6 227.9 h3.2 M631.9 227.9 h-3.2 M401.6 99.4 h1.8 M631.9 99.4 h-1.8 M401.6 209.3 h1.8 M631.9 209.3 h-1.8 M401.6 80.8 h3.2 M631.9 80.8 h-3.2 M401.6 190.8 h3.2 M631.9 190.8 h-3.2 M401.6 62.2 h1.8 M631.9 62.2 h-1.8 M401.6 172.2 h1.8 M631.9 172.2 h-1.8 M401.6 43.7 h3.2 M631.9 43.7 h-3.2 M401.6 153.7 h3.2 M631.9 153.7 h-3.2" stroke="#000" stroke-width="1.2" fill="none"/>
<text x="399.2" y="49.6" font-size="14.5" text-anchor="end" fill="#000" stroke="#000" >1.0</text>
<text x="399.2" y="86.3" font-size="14.5" text-anchor="end" fill="#000" stroke="#000" >0.8</text>
<text x="399.2" y="122.9" font-size="14.5" text-anchor="end" fill="#000" stroke="#000" >0.6</text>
<text x="399.2" y="159.7" font-size="14.5" text-anchor="end" fill="#000" stroke="#000" >1.0</text>
<text x="399.2" y="196.8" font-size="14.5" text-anchor="end" fill="#000" stroke="#000" >0.8</text>
<text x="399.2" y="232.7" font-size="14.5" text-anchor="end" fill="#000" stroke="#000" >0.6</text>
<text x="401.0" y="258.9" font-size="14.5" text-anchor="middle" fill="#000" stroke="#000" >0</text>
<text x="458.9" y="258.9" font-size="14.5" text-anchor="middle" fill="#000" stroke="#000" >45</text>
<text x="516.8" y="258.9" font-size="14.5" text-anchor="middle" fill="#000" stroke="#000" >90</text>
<text x="574.6" y="258.9" font-size="14.5" text-anchor="middle" fill="#000" stroke="#000" >135</text>
<text x="632.5" y="258.9" font-size="14.5" text-anchor="middle" fill="#000" stroke="#000" >180</text>
<text x="450.0" y="276.6" font-size="14.5" text-anchor="start" fill="#000" stroke="#000" >Rotation λ/4-plate [°]</text>
<text x="401.2" y="21.0" font-size="14.5" text-anchor="middle" fill="#000" stroke="#000" >Circular</text>
<text x="457.5" y="21.0" font-size="14.5" text-anchor="middle" fill="#000" stroke="#000" >Linear</text>
<text x="516.8" y="21.0" font-size="14.5" text-anchor="middle" fill="#000" stroke="#000" >Circular</text>
<text x="574.2" y="21.0" font-size="14.5" text-anchor="middle" fill="#000" stroke="#000" >Linear</text>
<text x="631.5" y="21.0" font-size="14.5" text-anchor="middle" fill="#000" stroke="#000" >Circular</text>
<text transform="translate(371.1 134.7) rotate(-90)" font-size="14.5" text-anchor="middle" stroke="#000">Spectral integrated signal [arb.unit.]</text>
<text x="639.5" y="38.7" font-size="14.5" text-anchor="start" fill="#000" stroke="#000" letter-spacing="0.3">b)</text>
<text x="640.0" y="148.6" font-size="14.5" text-anchor="start" fill="#000" stroke="#000" letter-spacing="1.2">c)</text>
<path d="M401.9 124.2 L404.3 126.9 L406.9 121.8 L409.6 129.3 L412.1 121.8 L414.9 121.8 L417.1 112.7 L419.0 111.6 L420.8 110.3 L422.6 109.3 L424.8 101.5 L427.5 96.9 L430.1 96.9 L432.6 88.3 L435.3 82.7 L437.9 79.3 L440.3 73.0 L442.7 74.5 L445.4 65.1 L447.8 55.1 L450.8 50.3 L453.4 55.1 L455.8 49.0 L458.5 48.2 L461.2 47.7 L463.8 46.6 L466.2 43.7 L468.8 57.4 L471.2 56.6 L474.1 60.5 L476.5 63.7 L479.4 64.2 L481.5 72.7 L484.1 79.0 L486.6 87.0 L489.4 88.0 L492.3 95.7 L494.9 97.1 L496.9 104.1 L499.7 101.3 L502.0 119.6 L504.7 118.3 L507.5 122.9 L510.1 123.8 L512.6 124.5 L515.1 126.5 L517.6 129.0 L520.3 124.2 L522.6 128.7 L525.3 129.4 L527.7 128.4 L530.4 120.1 L532.8 118.0 L535.9 120.6 L537.8 107.8 L540.2 109.2 L543.1 97.8 L545.9 91.7 L548.2 91.1 L551.0 86.9 L553.2 76.2 L556.2 70.3 L558.3 65.4 L561.1 59.5 L563.6 60.5 L566.6 46.8 L569.0 48.5 L571.9 41.7 L574.4 43.9 L577.0 41.5 L579.4 40.7 L581.9 44.9 L584.4 44.7 L587.2 53.5 L589.6 48.3 L592.2 51.0 L594.7 55.0 L597.5 60.5 L600.0 67.7 L602.4 78.8 L605.0 82.8 L607.5 86.6 L610.1 95.2 L612.8 99.6 L615.4 100.2 L617.8 108.5 L620.4 109.5 L623.2 116.1 L626.1 114.6 L628.1 115.2 L630.6 118.5" fill="none" stroke="#7a7a7a" stroke-width="0.6" clip-path="url(#cpb)"/><g fill="#0000ff" clip-path="url(#cpb)"><circle cx="401.9" cy="124.2" r="2.1"/><circle cx="404.3" cy="126.9" r="2.1"/><circle cx="406.9" cy="121.8" r="2.1"/><circle cx="409.6" cy="129.3" r="2.1"/><circle cx="412.1" cy="121.8" r="2.1"/><circle cx="414.9" cy="121.8" r="2.1"/><circle cx="417.1" cy="112.7" r="2.1"/><circle cx="419.0" cy="111.6" r="2.1"/><circle cx="420.8" cy="110.3" r="2.1"/><circle cx="422.6" cy="109.3" r="2.1"/><circle cx="424.8" cy="101.5" r="2.1"/><circle cx="427.5" cy="96.9" r="2.1"/><circle cx="430.1" cy="96.9" r="2.1"/><circle cx="432.6" cy="88.3" r="2.1"/><circle cx="435.3" cy="82.7" r="2.1"/><circle cx="437.9" cy="79.3" r="2.1"/><circle cx="440.3" cy="73.0" r="2.1"/><circle cx="442.7" cy="74.5" r="2.1"/><circle cx="445.4" cy="65.1" r="2.1"/><circle cx="447.8" cy="55.1" r="2.1"/><circle cx="450.8" cy="50.3" r="2.1"/><circle cx="453.4" cy="55.1" r="2.1"/><circle cx="455.8" cy="49.0" r="2.1"/><circle cx="458.5" cy="48.2" r="2.1"/><circle cx="461.2" cy="47.7" r="2.1"/><circle cx="463.8" cy="46.6" r="2.1"/><circle cx="466.2" cy="43.7" r="2.1"/><circle cx="468.8" cy="57.4" r="2.1"/><circle cx="471.2" cy="56.6" r="2.1"/><circle cx="474.1" cy="60.5" r="2.1"/><circle cx="476.5" cy="63.7" r="2.1"/><circle cx="479.4" cy="64.2" r="2.1"/><circle cx="481.5" cy="72.7" r="2.1"/><circle cx="484.1" cy="79.0" r="2.1"/><circle cx="486.6" cy="87.0" r="2.1"/><circle cx="489.4" cy="88.0" r="2.1"/><circle cx="492.3" cy="95.7" r="2.1"/><circle cx="494.9" cy="97.1" r="2.1"/><circle cx="496.9" cy="104.1" r="2.1"/><circle cx="499.7" cy="101.3" r="2.1"/><circle cx="502.0" cy="119.6" r="2.1"/><circle cx="504.7" cy="118.3" r="2.1"/><circle cx="507.5" cy="122.9" r="2.1"/><circle cx="510.1" cy="123.8" r="2.1"/><circle cx="512.6" cy="124.5" r="2.1"/><circle cx="515.1" cy="126.5" r="2.1"/><circle cx="517.6" cy="129.0" r="2.1"/><circle cx="520.3" cy="124.2" r="2.1"/><circle cx="522.6" cy="128.7" r="2.1"/><circle cx="525.3" cy="129.4" r="2.1"/><circle cx="527.7" cy="128.4" r="2.1"/><circle cx="530.4" cy="120.1" r="2.1"/><circle cx="532.8" cy="118.0" r="2.1"/><circle cx="535.9" cy="120.6" r="2.1"/><circle cx="537.8" cy="107.8" r="2.1"/><circle cx="540.2" cy="109.2" r="2.1"/><circle cx="543.1" cy="97.8" r="2.1"/><circle cx="545.9" cy="91.7" r="2.1"/><circle cx="548.2" cy="91.1" r="2.1"/><circle cx="551.0" cy="86.9" r="2.1"/><circle cx="553.2" cy="76.2" r="2.1"/><circle cx="556.2" cy="70.3" r="2.1"/><circle cx="558.3" cy="65.4" r="2.1"/><circle cx="561.1" cy="59.5" r="2.1"/><circle cx="563.6" cy="60.5" r="2.1"/><circle cx="566.6" cy="46.8" r="2.1"/><circle cx="569.0" cy="48.5" r="2.1"/><circle cx="571.9" cy="41.7" r="2.1"/><circle cx="574.4" cy="43.9" r="2.1"/><circle cx="577.0" cy="41.5" r="2.1"/><circle cx="579.4" cy="40.7" r="2.1"/><circle cx="581.9" cy="44.9" r="2.1"/><circle cx="584.4" cy="44.7" r="2.1"/><circle cx="587.2" cy="53.5" r="2.1"/><circle cx="589.6" cy="48.3" r="2.1"/><circle cx="592.2" cy="51.0" r="2.1"/><circle cx="594.7" cy="55.0" r="2.1"/><circle cx="597.5" cy="60.5" r="2.1"/><circle cx="600.0" cy="67.7" r="2.1"/><circle cx="602.4" cy="78.8" r="2.1"/><circle cx="605.0" cy="82.8" r="2.1"/><circle cx="607.5" cy="86.6" r="2.1"/><circle cx="610.1" cy="95.2" r="2.1"/><circle cx="612.8" cy="99.6" r="2.1"/><circle cx="615.4" cy="100.2" r="2.1"/><circle cx="617.8" cy="108.5" r="2.1"/><circle cx="620.4" cy="109.5" r="2.1"/><circle cx="623.2" cy="116.1" r="2.1"/><circle cx="626.1" cy="114.6" r="2.1"/><circle cx="628.1" cy="115.2" r="2.1"/><circle cx="630.6" cy="118.5" r="2.1"/></g>
<path d="M401.2 232.5 L403.2 231.0 L404.6 230.3 L407.8 227.8 L410.7 227.5 L413.5 228.5 L415.9 226.1 L418.2 221.8 L421.1 219.0 L423.4 210.2 L426.0 215.0 L428.8 200.1 L431.2 205.2 L433.9 200.4 L436.0 194.0 L438.9 186.0 L441.6 178.3 L444.0 176.7 L446.6 175.5 L449.0 171.5 L451.8 163.1 L454.7 171.8 L457.3 161.3 L459.7 157.1 L462.3 163.2 L465.0 154.8 L467.3 163.8 L469.7 160.6 L472.4 163.1 L474.9 163.4 L477.8 159.0 L480.3 174.0 L483.3 176.8 L485.5 184.9 L488.2 180.8 L490.8 191.8 L493.2 198.8 L496.1 192.9 L498.5 203.5 L501.1 198.8 L503.5 208.1 L505.9 212.8 L508.8 208.5 L511.4 214.9 L513.9 217.0 L516.8 219.4 L519.2 218.5 L521.6 216.6 L524.4 211.8 L526.6 213.5 L529.2 208.1 L531.9 208.0 L534.8 203.5 L537.7 200.2 L539.7 202.2 L542.6 197.3 L545.0 190.4 L547.5 183.1 L550.1 186.1 L552.7 173.6 L555.4 170.5 L557.8 168.0 L560.4 165.3 L563.1 166.8 L565.7 162.1 L568.2 161.4 L571.1 155.7 L573.2 160.0 L575.9 153.8 L578.5 163.5 L581.3 163.3 L584.0 162.5 L586.3 172.0 L588.8 167.8 L591.6 176.0 L593.9 181.3 L596.9 176.0 L599.2 177.2 L601.7 183.4 L604.2 190.0 L606.8 194.0 L609.8 202.0 L612.3 202.3 L614.7 206.4 L617.4 211.4 L619.9 208.1 L622.4 218.4 L624.9 214.3 L627.6 214.9 L630.1 218.9" fill="none" stroke="#7a7a7a" stroke-width="0.6" clip-path="url(#cpc)"/><g fill="#ff0000" clip-path="url(#cpc)"><circle cx="401.2" cy="232.5" r="2.1"/><circle cx="403.2" cy="231.0" r="2.1"/><circle cx="404.6" cy="230.3" r="2.1"/><circle cx="407.8" cy="227.8" r="2.1"/><circle cx="410.7" cy="227.5" r="2.1"/><circle cx="413.5" cy="228.5" r="2.1"/><circle cx="415.9" cy="226.1" r="2.1"/><circle cx="418.2" cy="221.8" r="2.1"/><circle cx="421.1" cy="219.0" r="2.1"/><circle cx="423.4" cy="210.2" r="2.1"/><circle cx="426.0" cy="215.0" r="2.1"/><circle cx="428.8" cy="200.1" r="2.1"/><circle cx="431.2" cy="205.2" r="2.1"/><circle cx="433.9" cy="200.4" r="2.1"/><circle cx="436.0" cy="194.0" r="2.1"/><circle cx="438.9" cy="186.0" r="2.1"/><circle cx="441.6" cy="178.3" r="2.1"/><circle cx="444.0" cy="176.7" r="2.1"/><circle cx="446.6" cy="175.5" r="2.1"/><circle cx="449.0" cy="171.5" r="2.1"/><circle cx="451.8" cy="163.1" r="2.1"/><circle cx="454.7" cy="171.8" r="2.1"/><circle cx="457.3" cy="161.3" r="2.1"/><circle cx="459.7" cy="157.1" r="2.1"/><circle cx="462.3" cy="163.2" r="2.1"/><circle cx="465.0" cy="154.8" r="2.1"/><circle cx="467.3" cy="163.8" r="2.1"/><circle cx="469.7" cy="160.6" r="2.1"/><circle cx="472.4" cy="163.1" r="2.1"/><circle cx="474.9" cy="163.4" r="2.1"/><circle cx="477.8" cy="159.0" r="2.1"/><circle cx="480.3" cy="174.0" r="2.1"/><circle cx="483.3" cy="176.8" r="2.1"/><circle cx="485.5" cy="184.9" r="2.1"/><circle cx="488.2" cy="180.8" r="2.1"/><circle cx="490.8" cy="191.8" r="2.1"/><circle cx="493.2" cy="198.8" r="2.1"/><circle cx="496.1" cy="192.9" r="2.1"/><circle cx="498.5" cy="203.5" r="2.1"/><circle cx="501.1" cy="198.8" r="2.1"/><circle cx="503.5" cy="208.1" r="2.1"/><circle cx="505.9" cy="212.8" r="2.1"/><circle cx="508.8" cy="208.5" r="2.1"/><circle cx="511.4" cy="214.9" r="2.1"/><circle cx="513.9" cy="217.0" r="2.1"/><circle cx="516.8" cy="219.4" r="2.1"/><circle cx="519.2" cy="218.5" r="2.1"/><circle cx="521.6" cy="216.6" r="2.1"/><circle cx="524.4" cy="211.8" r="2.1"/><circle cx="526.6" cy="213.5" r="2.1"/><circle cx="529.2" cy="208.1" r="2.1"/><circle cx="531.9" cy="208.0" r="2.1"/><circle cx="534.8" cy="203.5" r="2.1"/><circle cx="537.7" cy="200.2" r="2.1"/><circle cx="539.7" cy="202.2" r="2.1"/><circle cx="542.6" cy="197.3" r="2.1"/><circle cx="545.0" cy="190.4" r="2.1"/><circle cx="547.5" cy="183.1" r="2.1"/><circle cx="550.1" cy="186.1" r="2.1"/><circle cx="552.7" cy="173.6" r="2.1"/><circle cx="555.4" cy="170.5" r="2.1"/><circle cx="557.8" cy="168.0" r="2.1"/><circle cx="560.4" cy="165.3" r="2.1"/><circle cx="563.1" cy="166.8" r="2.1"/><circle cx="565.7" cy="162.1" r="2.1"/><circle cx="568.2" cy="161.4" r="2.1"/><circle cx="571.1" cy="155.7" r="2.1"/><circle cx="573.2" cy="160.0" r="2.1"/><circle cx="575.9" cy="153.8" r="2.1"/><circle cx="578.5" cy="163.5" r="2.1"/><circle cx="581.3" cy="163.3" r="2.1"/><circle cx="584.0" cy="162.5" r="2.1"/><circle cx="586.3" cy="172.0" r="2.1"/><circle cx="588.8" cy="167.8" r="2.1"/><circle cx="591.6" cy="176.0" r="2.1"/><circle cx="593.9" cy="181.3" r="2.1"/><circle cx="596.9" cy="176.0" r="2.1"/><circle cx="599.2" cy="177.2" r="2.1"/><circle cx="601.7" cy="183.4" r="2.1"/><circle cx="604.2" cy="190.0" r="2.1"/><circle cx="606.8" cy="194.0" r="2.1"/><circle cx="609.8" cy="202.0" r="2.1"/><circle cx="612.3" cy="202.3" r="2.1"/><circle cx="614.7" cy="206.4" r="2.1"/><circle cx="617.4" cy="211.4" r="2.1"/><circle cx="619.9" cy="208.1" r="2.1"/><circle cx="622.4" cy="218.4" r="2.1"/><circle cx="624.9" cy="214.3" r="2.1"/><circle cx="627.6" cy="214.9" r="2.1"/><circle cx="630.1" cy="218.9" r="2.1"/></g>
<path d="M406 35.2 H425 M405.3 145.9 H424.2" stroke="#7a7a7a" stroke-width="0.8"/>
<circle cx="415.6" cy="35.2" r="2.2" fill="#0000ff"/><circle cx="415" cy="145.9" r="2.2" fill="#ff0000"/>
<text x="426.5" y="39.8" font-size="14.5" text-anchor="start" fill="#000" stroke="#000" >Intrinsic</text>
<text x="429.5" y="150.8" font-size="14.5" text-anchor="start" fill="#000" stroke="#000" >0.5 at. % doped</text>
<text x="487.8" y="37.2" font-size="14.5" text-anchor="start" fill="#0000ff" stroke="#0000ff" >Laser intensity 0.53 I<tspan font-size="7.4" dy="2.4">th</tspan></text>
<text x="491.2" y="239.8" font-size="14.5" text-anchor="start" fill="#ff0000" stroke="#ff0000" >Laser intensity 0.75 I<tspan font-size="7.4" dy="2.4">th</tspan></text>
</svg>
</body></html>
